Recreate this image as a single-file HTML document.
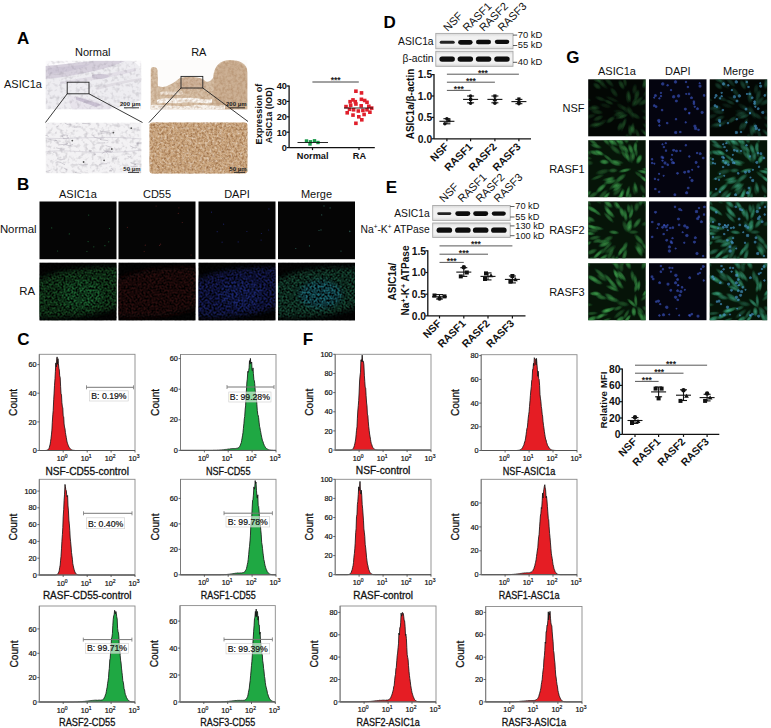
<!DOCTYPE html>
<html><head><meta charset="utf-8"><style>
html,body{margin:0;padding:0;background:#fff;}
body{width:771px;height:728px;overflow:hidden;position:relative;font-family:"Liberation Sans",sans-serif;}
svg{position:absolute;left:0;top:0;font-family:"Liberation Sans",sans-serif;}
</style></head><body>
<svg width="771" height="728" viewBox="0 0 771 728">
<defs><filter id="nBrown" x="0" y="0" width="100%" height="100%" color-interpolation-filters="sRGB"><feTurbulence type="fractalNoise" baseFrequency="0.55" numOctaves="2" seed="3" result="t"/><feColorMatrix in="t" type="matrix" values="0 0 0 0 0.45 0 0 0 0 0.27 0 0 0 0 0.12 3.2 0 0 0 -1.25" result="c"/><feComposite in="c" in2="SourceGraphic" operator="in"/></filter><filter id="nBrown2" x="0" y="0" width="100%" height="100%" color-interpolation-filters="sRGB"><feTurbulence type="fractalNoise" baseFrequency="0.5" numOctaves="2" seed="5" result="t"/><feColorMatrix in="t" type="matrix" values="0 0 0 0 0.98 0 0 0 0 0.96 0 0 0 0 0.92 3.0 0 0 0 -1.55" result="c"/><feComposite in="c" in2="SourceGraphic" operator="in"/></filter><filter id="nGray" x="0" y="0" width="100%" height="100%" color-interpolation-filters="sRGB"><feTurbulence type="fractalNoise" baseFrequency="0.35" numOctaves="2" seed="8" result="t"/><feColorMatrix in="t" type="matrix" values="0 0 0 0 0.35 0 0 0 0 0.33 0 0 0 0 0.38 3.0 0 0 0 -1.6" result="c"/><feComposite in="c" in2="SourceGraphic" operator="in"/></filter><filter id="nPurple" x="0" y="0" width="100%" height="100%" color-interpolation-filters="sRGB"><feTurbulence type="fractalNoise" baseFrequency="0.4" numOctaves="2" seed="9" result="t"/><feColorMatrix in="t" type="matrix" values="0 0 0 0 0.45 0 0 0 0 0.38 0 0 0 0 0.55 2.6 0 0 0 -1.1" result="c"/><feComposite in="c" in2="SourceGraphic" operator="in"/></filter><filter id="nTan" x="0" y="0" width="100%" height="100%" color-interpolation-filters="sRGB"><feTurbulence type="fractalNoise" baseFrequency="0.5" numOctaves="2" seed="4" result="t"/><feColorMatrix in="t" type="matrix" values="0 0 0 0 0.55 0 0 0 0 0.38 0 0 0 0 0.22 2.6 0 0 0 -1.05" result="c"/><feComposite in="c" in2="SourceGraphic" operator="in"/></filter><clipPath id="cA1"><rect x="45.5" y="60.5" width="96" height="49"/></clipPath><clipPath id="cA2"><rect x="150.5" y="60" width="97" height="49.5"/></clipPath><filter id="nGray2" x="0" y="0" width="100%" height="100%" color-interpolation-filters="sRGB"><feTurbulence type="fractalNoise" baseFrequency="0.25" numOctaves="2" seed="8" result="t"/><feColorMatrix in="t" type="matrix" values="0 0 0 0 0.45 0 0 0 0 0.43 0 0 0 0 0.48 2.2 0 0 0 -1.05" result="c"/><feComposite in="c" in2="SourceGraphic" operator="in"/></filter><filter id="nPur2" x="0" y="0" width="100%" height="100%" color-interpolation-filters="sRGB"><feTurbulence type="fractalNoise" baseFrequency="0.3" numOctaves="2" seed="9" result="t"/><feColorMatrix in="t" type="matrix" values="0 0 0 0 0.55 0 0 0 0 0.48 0 0 0 0 0.62 2.0 0 0 0 -0.85" result="c"/><feComposite in="c" in2="SourceGraphic" operator="in"/></filter><filter id="nTan2" x="0" y="0" width="100%" height="100%" color-interpolation-filters="sRGB"><feTurbulence type="fractalNoise" baseFrequency="0.35" numOctaves="2" seed="4" result="t"/><feColorMatrix in="t" type="matrix" values="0 0 0 0 0.62 0 0 0 0 0.45 0 0 0 0 0.3 2.0 0 0 0 -0.75" result="c"/><feComposite in="c" in2="SourceGraphic" operator="in"/></filter><filter id="nWhiteSpk" x="0" y="0" width="100%" height="100%" color-interpolation-filters="sRGB"><feTurbulence type="fractalNoise" baseFrequency="0.4" numOctaves="2" seed="6" result="t"/><feColorMatrix in="t" type="matrix" values="0 0 0 0 1 0 0 0 0 1 0 0 0 0 1 2.4 0 0 0 -1.15" result="c"/><feComposite in="c" in2="SourceGraphic" operator="in"/></filter><filter id="nBr3" x="0" y="0" width="100%" height="100%" color-interpolation-filters="sRGB"><feTurbulence type="fractalNoise" baseFrequency="0.45" numOctaves="2" seed="3" result="t"/><feColorMatrix in="t" type="matrix" values="0 0 0 0 0.55 0 0 0 0 0.36 0 0 0 0 0.2 2.2 0 0 0 -0.85" result="c"/><feComposite in="c" in2="SourceGraphic" operator="in"/></filter><clipPath id="cA3"><rect x="45.5" y="122.5" width="96" height="51"/></clipPath><filter id="bsoft" x="-20%" y="-20%" width="140%" height="140%"><feGaussianBlur stdDeviation="2.6"/></filter><filter id="nSpk" x="0" y="0" width="100%" height="100%" color-interpolation-filters="sRGB"><feTurbulence type="fractalNoise" baseFrequency="0.5" numOctaves="2" seed="21" result="t"/><feColorMatrix in="t" type="matrix" values="0 0 0 0 0 0 0 0 0 0 0 0 0 0 0 2.4 0 0 0 -0.75" result="c"/><feComposite in="c" in2="SourceGraphic" operator="in"/></filter><clipPath id="cb0"><rect x="39.5" y="262.7" width="77" height="57.7"/></clipPath><clipPath id="cb1"><rect x="118.5" y="262.7" width="77" height="57.7"/></clipPath><clipPath id="cb2"><rect x="198.5" y="262.7" width="77" height="57.7"/></clipPath><clipPath id="cb3"><rect x="278" y="262.7" width="77" height="57.7"/></clipPath><filter id="gsoft" x="-50%" y="-50%" width="200%" height="200%"><feGaussianBlur stdDeviation="0.45"/></filter><radialGradient id="cellG"><stop offset="0" stop-color="rgb(75,175,85)"/><stop offset="0.55" stop-color="rgb(45,130,60)"/><stop offset="1" stop-color="rgb(20,70,30)" stop-opacity="0.2"/></radialGradient><radialGradient id="cellM"><stop offset="0" stop-color="rgb(70,175,150)"/><stop offset="0.55" stop-color="rgb(40,130,90)"/><stop offset="1" stop-color="rgb(20,70,40)" stop-opacity="0.2"/></radialGradient><radialGradient id="nucB"><stop offset="0" stop-color="#4a66d8"/><stop offset="0.7" stop-color="#3048b0"/><stop offset="1" stop-color="#203090" stop-opacity="0.3"/></radialGradient><radialGradient id="nucM"><stop offset="0" stop-color="#5ab0e0"/><stop offset="0.7" stop-color="#3a88b8"/><stop offset="1" stop-color="#206090" stop-opacity="0.3"/></radialGradient><clipPath id="cg00"><rect x="588.2" y="79.3" width="57.5" height="57"/></clipPath><clipPath id="cg10"><rect x="649" y="79.3" width="57.5" height="57"/></clipPath><clipPath id="cg20"><rect x="709.7" y="79.3" width="57.5" height="57"/></clipPath><clipPath id="cg01"><rect x="588.2" y="140.2" width="57.5" height="57"/></clipPath><clipPath id="cg11"><rect x="649" y="140.2" width="57.5" height="57"/></clipPath><clipPath id="cg21"><rect x="709.7" y="140.2" width="57.5" height="57"/></clipPath><clipPath id="cg02"><rect x="588.2" y="201.4" width="57.5" height="57"/></clipPath><clipPath id="cg12"><rect x="649" y="201.4" width="57.5" height="57"/></clipPath><clipPath id="cg22"><rect x="709.7" y="201.4" width="57.5" height="57"/></clipPath><clipPath id="cg03"><rect x="588.2" y="263.2" width="57.5" height="57"/></clipPath><clipPath id="cg13"><rect x="649" y="263.2" width="57.5" height="57"/></clipPath><clipPath id="cg23"><rect x="709.7" y="263.2" width="57.5" height="57"/></clipPath><linearGradient id="blotG" x1="0" y1="0" x2="0" y2="1"><stop offset="0" stop-color="#d8d8d8"/><stop offset="0.22" stop-color="#f1f1f1"/><stop offset="0.78" stop-color="#f1f1f1"/><stop offset="1" stop-color="#d8d8d8"/></linearGradient><filter id="bblur" x="-30%" y="-100%" width="160%" height="300%"><feGaussianBlur stdDeviation="0.65"/></filter></defs>
<rect width="771" height="728" fill="#fff"/>
<g clip-path="url(#cA1)">
<rect x="45.5" y="60.5" width="96" height="49" fill="#fbfafc"/>
<path d="M45.5,66 C60,65 80,62 95,60.5 L130,60.5 C136,62 140,66 141.5,72 L141.5,100 C130,104 115,110 100,109.5 L45.5,109.5 Z" fill="#eeedf1"/>
<path d="M45.5,66 C60,65 80,62 95,61 L125,61 C115,66 100,70 85,73 C70,76 58,78 45.5,79 Z" fill="#d6d0dc"/>
<path d="M48,68 C60,67 75,66 90,64 C85,68 70,72 48,74 Z" fill="#cbc3d3" opacity="0.8"/>
<path d="M60,82 C80,78 100,76 135,68 L136,71 C110,78 85,82 60,84 Z" fill="#dedae3" opacity="0.8"/>
<path d="M95,88 C110,83 125,80 141.5,78 L141.5,80 C125,83 110,86 97,90 Z" fill="#dcd8e0" opacity="0.8"/>
<path d="M92,75 C100,73 106,74 110,76 C106,79 98,80 92,78 Z" fill="#cfc8d6"/>
<path d="M70,96 C82,97 95,100 105,103 C110,106 112,108 110,109.5 L72,109.5 C70,104 68,100 70,96 Z" fill="#e8e4ec"/>
<path d="M76,97 C86,99 94,102 102,105 L96,107 C88,104 80,101 76,99.5 Z" fill="#c9c0d2"/>
<path d="M45.5,60.5 L141.5,60.5 L141.5,109.5 L45.5,109.5 Z" fill="#fff" filter="url(#nGray2)" opacity="0.3"/>
</g>
<g clip-path="url(#cA2)">
<rect x="150.5" y="60" width="97" height="49.5" fill="#fdfcfb"/>
<path d="M150.5,70 C150.5,66 157,66 157.5,70 L158,86 C165,89 172,84 180,78 C186,76 198,76 204,80 C207,83 210,82 213,78 C214,66 220,60 230,60 C240,60 247.5,64 247.5,72 L247.5,109.5 L150.5,109.5 Z" fill="#d6bfa6"/>
<path d="M214,80 C214,66 221,61 231,61 C241,61 247.5,66 247.5,74 L247.5,109.5 L218,109.5 C214,100 213,90 214,80 Z" fill="#ccb094"/>
<path d="M180,79 C188,77 198,77 204,80 L206,88 C196,90 186,90 178,88 Z" fill="#cfb49c"/>
<path d="M157,100 C165,97 175,99 185,98 C195,97 205,101 212,99 L212,103 C200,104 190,101 180,103 C170,104 162,102 157,104 Z" fill="#fbf8f4"/>
<path d="M150.5,105 C165,104 180,108 195,105 C205,104 215,107 225,105 L225,109.5 L150.5,109.5 Z" fill="#f7f2ec"/>
<path d="M160,92 C168,90 175,93 182,91 L183,94 C175,96 168,94 161,95 Z" fill="#efe4d8"/>
<path d="M150.5,70 C150.5,66 157,66 157.5,70 L158,86 C165,89 172,84 180,78 C186,76 198,76 204,80 C207,83 210,82 213,78 C214,66 220,60 230,60 C240,60 247.5,64 247.5,72 L247.5,109.5 L150.5,109.5 Z" fill="#fff" filter="url(#nTan2)" opacity="0.45"/>
</g>
<g clip-path="url(#cA3)">
<rect x="45.5" y="122.5" width="96" height="51" fill="#f3f2f4"/>
<rect x="45.5" y="122.5" width="96" height="51" fill="#fff" filter="url(#nGray2)" opacity="0.35"/>
<path d="M89.1,150.9 q5.1,-0.2 0.2,0.3" fill="none" stroke="#9e9aa6" stroke-width="0.7" opacity="0.6"/>
<path d="M64.2,148.6 q1.6,1.8 -8.1,-0.8" fill="none" stroke="#9e9aa6" stroke-width="0.7" opacity="0.6"/>
<path d="M55.4,162.9 q2.3,-2.7 9.6,1.9" fill="none" stroke="#9e9aa6" stroke-width="0.7" opacity="0.6"/>
<path d="M107.8,153.5 q-4.1,-2.9 0.6,-1.8" fill="none" stroke="#9e9aa6" stroke-width="0.7" opacity="0.6"/>
<path d="M64.7,135.6 q-5.6,-0.2 -1.2,1.4" fill="none" stroke="#9e9aa6" stroke-width="0.7" opacity="0.6"/>
<path d="M95.3,154.7 q-0.0,1.0 -0.9,-0.9" fill="none" stroke="#9e9aa6" stroke-width="0.7" opacity="0.6"/>
<path d="M139.8,171.8 q4.1,1.2 -3.7,-1.1" fill="none" stroke="#9e9aa6" stroke-width="0.7" opacity="0.6"/>
<path d="M73.9,127.4 q3.2,-0.6 6.9,-0.5" fill="none" stroke="#9e9aa6" stroke-width="0.7" opacity="0.6"/>
<path d="M136.1,164.7 q-6.0,-1.7 8.2,-0.1" fill="none" stroke="#9e9aa6" stroke-width="0.7" opacity="0.6"/>
<path d="M138.2,143.1 q-5.1,0.8 5.6,-0.9" fill="none" stroke="#9e9aa6" stroke-width="0.7" opacity="0.6"/>
<path d="M55.1,140.0 q5.6,1.5 -7.6,-1.0" fill="none" stroke="#9e9aa6" stroke-width="0.7" opacity="0.6"/>
<path d="M56.4,126.9 q3.6,-1.9 1.2,-0.2" fill="none" stroke="#9e9aa6" stroke-width="0.7" opacity="0.6"/>
<path d="M64.7,159.1 q-4.4,0.9 -7.7,-0.3" fill="none" stroke="#9e9aa6" stroke-width="0.7" opacity="0.6"/>
<path d="M66.8,137.0 q5.7,1.8 -3.9,1.5" fill="none" stroke="#9e9aa6" stroke-width="0.7" opacity="0.6"/>
<path d="M66.6,142.9 q4.3,0.9 -8.0,2.0" fill="none" stroke="#9e9aa6" stroke-width="0.7" opacity="0.6"/>
<path d="M66.8,136.4 q3.3,-1.0 -4.1,-1.7" fill="none" stroke="#9e9aa6" stroke-width="0.7" opacity="0.6"/>
<path d="M55.4,152.0 q-3.1,0.6 -2.6,-0.2" fill="none" stroke="#9e9aa6" stroke-width="0.7" opacity="0.6"/>
<path d="M136.2,147.2 q0.9,2.2 -6.3,-1.4" fill="none" stroke="#9e9aa6" stroke-width="0.7" opacity="0.6"/>
<path d="M131.5,163.3 q-3.0,-1.9 4.8,1.8" fill="none" stroke="#9e9aa6" stroke-width="0.7" opacity="0.6"/>
<path d="M65.3,169.6 q4.6,0.6 -1.6,-1.6" fill="none" stroke="#9e9aa6" stroke-width="0.7" opacity="0.6"/>
<path d="M50.6,170.2 q-3.1,1.2 -4.9,1.3" fill="none" stroke="#9e9aa6" stroke-width="0.7" opacity="0.6"/>
<path d="M102.5,138.1 q-3.9,1.3 -8.6,-1.1" fill="none" stroke="#9e9aa6" stroke-width="0.7" opacity="0.6"/>
<path d="M99.0,164.9 q1.4,-1.3 8.3,-1.2" fill="none" stroke="#9e9aa6" stroke-width="0.7" opacity="0.6"/>
<path d="M48.5,136.9 q-0.7,-2.6 -6.5,-0.5" fill="none" stroke="#9e9aa6" stroke-width="0.7" opacity="0.6"/>
<path d="M100.2,130.3 q-1.7,2.3 9.6,0.6" fill="none" stroke="#9e9aa6" stroke-width="0.7" opacity="0.6"/>
<path d="M111.3,152.1 q-4.3,-2.8 -9.6,1.6" fill="none" stroke="#9e9aa6" stroke-width="0.7" opacity="0.6"/>
<path d="M112.2,170.2 q-5.7,0.8 -0.4,0.9" fill="none" stroke="#9e9aa6" stroke-width="0.7" opacity="0.6"/>
<path d="M76.7,172.0 q-5.1,0.3 4.7,1.6" fill="none" stroke="#9e9aa6" stroke-width="0.7" opacity="0.6"/>
<path d="M115.5,157.8 q3.5,2.5 -3.0,0.7" fill="none" stroke="#9e9aa6" stroke-width="0.7" opacity="0.6"/>
<path d="M130.8,165.8 q-1.0,1.7 7.3,0.3" fill="none" stroke="#9e9aa6" stroke-width="0.7" opacity="0.6"/>
<path d="M105.1,142.4 q1.0,0.7 -8.4,0.6" fill="none" stroke="#9e9aa6" stroke-width="0.7" opacity="0.6"/>
<path d="M139.4,166.2 q2.7,-0.7 4.7,0.3" fill="none" stroke="#9e9aa6" stroke-width="0.7" opacity="0.6"/>
<path d="M88.0,164.2 q-5.0,1.5 -9.4,0.4" fill="none" stroke="#9e9aa6" stroke-width="0.7" opacity="0.6"/>
<path d="M91.7,135.1 q2.4,-0.0 2.3,1.7" fill="none" stroke="#9e9aa6" stroke-width="0.7" opacity="0.6"/>
<path d="M70.8,124.5 q-2.4,1.1 -5.9,-1.3" fill="none" stroke="#9e9aa6" stroke-width="0.7" opacity="0.6"/>
<path d="M131.2,155.7 q-0.7,2.4 -3.5,0.7" fill="none" stroke="#9e9aa6" stroke-width="0.7" opacity="0.6"/>
<path d="M65.5,144.7 q3.7,2.5 7.6,-0.5" fill="none" stroke="#9e9aa6" stroke-width="0.7" opacity="0.6"/>
<path d="M101.2,139.2 q-4.4,-0.0 6.7,1.4" fill="none" stroke="#9e9aa6" stroke-width="0.7" opacity="0.6"/>
<path d="M113.1,169.6 q-2.7,-2.0 -1.0,-0.9" fill="none" stroke="#9e9aa6" stroke-width="0.7" opacity="0.6"/>
<path d="M66.9,143.9 q1.5,-0.0 -3.7,1.4" fill="none" stroke="#9e9aa6" stroke-width="0.7" opacity="0.6"/>
<path d="M138.3,145.7 q-5.1,-2.8 7.5,-1.8" fill="none" stroke="#9e9aa6" stroke-width="0.7" opacity="0.6"/>
<path d="M112.9,151.4 q-2.3,1.7 -9.6,-1.5" fill="none" stroke="#9e9aa6" stroke-width="0.7" opacity="0.6"/>
<path d="M89.3,125.2 q4.0,-1.6 -7.2,-1.8" fill="none" stroke="#9e9aa6" stroke-width="0.7" opacity="0.6"/>
<path d="M105.5,145.4 q1.6,0.9 6.1,1.8" fill="none" stroke="#9e9aa6" stroke-width="0.7" opacity="0.6"/>
<path d="M110.7,133.6 q-0.3,-1.9 -9.8,-0.1" fill="none" stroke="#9e9aa6" stroke-width="0.7" opacity="0.6"/>
<circle cx="113.4" cy="132.6" r="0.9" fill="#555"/>
<circle cx="72.3" cy="140.6" r="0.9" fill="#555"/>
<circle cx="111.8" cy="149.0" r="0.9" fill="#555"/>
<circle cx="104.1" cy="160.3" r="0.9" fill="#555"/>
<circle cx="83.6" cy="162.0" r="0.9" fill="#555"/>
<circle cx="131.3" cy="128.2" r="0.9" fill="#555"/>
</g>
<path d="M45.5,138 C70,140 100,135 141.5,139" fill="none" stroke="#b8b4c0" stroke-width="0.8" opacity="0.5"/>
<path d="M45.5,152 C65,148 95,156 141.5,150" fill="none" stroke="#b8b4c0" stroke-width="0.8" opacity="0.5"/>
<rect x="149.5" y="122.5" width="98" height="51" rx="3" fill="#cda982"/>
<rect x="149.5" y="122.5" width="98" height="51" rx="3" fill="#fff" filter="url(#nBr3)" opacity="0.75"/>
<rect x="149.5" y="122.5" width="98" height="51" rx="3" fill="#fff" filter="url(#nWhiteSpk)" opacity="0.5"/>
<rect x="67.2" y="82.2" width="21.8" height="11.6" fill="none" stroke="#222" stroke-width="0.9"/>
<rect x="181" y="76.4" width="21.8" height="11.6" fill="none" stroke="#222" stroke-width="0.9"/>
<line x1="67.2" y1="93.8" x2="45.5" y2="122.5" stroke="#222" stroke-width="0.9"/>
<line x1="89" y1="93.8" x2="142.5" y2="122.5" stroke="#222" stroke-width="0.9"/>
<line x1="181" y1="88" x2="149" y2="122.5" stroke="#222" stroke-width="0.9"/>
<line x1="202.8" y1="88" x2="248" y2="121.5" stroke="#222" stroke-width="0.9"/>
<text x="140.5" y="106.0" font-size="6" text-anchor="end" font-weight="bold" fill="#222" >200 µm</text>
<text x="246.5" y="106.0" font-size="6" text-anchor="end" font-weight="bold" fill="#222" >200 µm</text>
<text x="140.5" y="171.0" font-size="6" text-anchor="end" font-weight="bold" fill="#222" >50 µm</text>
<text x="246.5" y="171.0" font-size="6" text-anchor="end" font-weight="bold" fill="#222" >50 µm</text>
<line x1="124" y1="107.8" x2="139" y2="107.8" stroke="#222" stroke-width="0.9"/>
<line x1="230" y1="107.8" x2="245" y2="107.8" stroke="#222" stroke-width="0.9"/>
<line x1="128" y1="172.4" x2="139" y2="172.4" stroke="#222" stroke-width="0.9"/>
<line x1="234" y1="172.4" x2="245" y2="172.4" stroke="#222" stroke-width="0.9"/>
<text x="92.8" y="55.9" font-size="11" text-anchor="middle" font-weight="normal" fill="#111" >Normal</text>
<text x="198.8" y="55.9" font-size="11" text-anchor="middle" font-weight="normal" fill="#111" >RA</text>
<text x="4.0" y="88.3" font-size="11" text-anchor="start" font-weight="normal" fill="#111" >ASIC1a</text>
<rect x="39.5" y="201.5" width="77" height="57.7" fill="#050505"/>
<circle cx="108.7" cy="241.8" r="0.6" fill="#1a5a30"/>
<circle cx="51.7" cy="227.9" r="0.6" fill="#1a5a30"/>
<circle cx="86.9" cy="251.5" r="0.6" fill="#1a5a30"/>
<circle cx="69.3" cy="233.9" r="0.6" fill="#1a5a30"/>
<circle cx="104.9" cy="245.7" r="0.6" fill="#1a5a30"/>
<circle cx="109.5" cy="228.5" r="0.6" fill="#1a5a30"/>
<circle cx="88.7" cy="215.1" r="0.6" fill="#1a5a30"/>
<circle cx="93.8" cy="246.8" r="0.6" fill="#1a5a30"/>
<circle cx="88.1" cy="241.6" r="0.6" fill="#1a5a30"/>
<circle cx="57.6" cy="251.0" r="0.6" fill="#1a5a30"/>
<rect x="39.5" y="262.7" width="77" height="57.7" fill="#050505"/>
<g clip-path="url(#cb0)"><path d="M35.6,281.7 C54.9,270.8 78.0,266.7 120.4,267.9 L120.4,305.4 C101.1,314.6 70.3,319.2 35.6,316.4 Z" fill="#124a22" filter="url(#bsoft)"/>
<ellipse cx="81.8" cy="294.4" rx="21.6" ry="13.8" fill="#1e6a34" opacity="0.7" filter="url(#bsoft)"/>
<rect x="39.5" y="262.7" width="77" height="57.7" fill="#000" filter="url(#nSpk)"/></g>
<rect x="118.5" y="201.5" width="77" height="57.7" fill="#050505"/>
<circle cx="191.1" cy="255.0" r="0.6" fill="#4a1a1a"/>
<circle cx="159.6" cy="245.4" r="0.6" fill="#4a1a1a"/>
<circle cx="144.2" cy="251.5" r="0.6" fill="#4a1a1a"/>
<circle cx="182.3" cy="222.5" r="0.6" fill="#4a1a1a"/>
<circle cx="127.4" cy="227.3" r="0.6" fill="#4a1a1a"/>
<circle cx="160.6" cy="244.2" r="0.6" fill="#4a1a1a"/>
<circle cx="156.1" cy="206.0" r="0.6" fill="#4a1a1a"/>
<circle cx="178.9" cy="207.8" r="0.6" fill="#4a1a1a"/>
<circle cx="178.3" cy="213.4" r="0.6" fill="#4a1a1a"/>
<circle cx="145.3" cy="245.2" r="0.6" fill="#4a1a1a"/>
<rect x="118.5" y="262.7" width="77" height="57.7" fill="#050505"/>
<g clip-path="url(#cb1)"><path d="M114.7,281.7 C133.9,270.8 157.0,266.7 199.4,267.9 L199.4,305.4 C180.1,314.6 149.3,319.2 114.7,316.4 Z" fill="#2a0f11" filter="url(#bsoft)"/>
<rect x="118.5" y="262.7" width="77" height="57.7" fill="#000" filter="url(#nSpk)"/></g>
<rect x="198.5" y="201.5" width="77" height="57.7" fill="#050505"/>
<circle cx="211.5" cy="212.2" r="0.6" fill="#1a2060"/>
<circle cx="238.2" cy="241.9" r="0.6" fill="#1a2060"/>
<circle cx="261.1" cy="240.1" r="0.6" fill="#1a2060"/>
<circle cx="268.6" cy="230.0" r="0.6" fill="#1a2060"/>
<circle cx="268.9" cy="208.9" r="0.6" fill="#1a2060"/>
<circle cx="217.2" cy="231.7" r="0.6" fill="#1a2060"/>
<circle cx="222.1" cy="242.2" r="0.6" fill="#1a2060"/>
<circle cx="246.9" cy="231.5" r="0.6" fill="#1a2060"/>
<circle cx="261.4" cy="233.5" r="0.6" fill="#1a2060"/>
<circle cx="223.6" cy="224.2" r="0.6" fill="#1a2060"/>
<rect x="198.5" y="262.7" width="77" height="57.7" fill="#050505"/>
<g clip-path="url(#cb2)"><path d="M194.7,281.7 C213.9,270.8 237.0,266.7 279.4,267.9 L279.4,305.4 C260.1,314.6 229.3,319.2 194.7,316.4 Z" fill="#161f58" filter="url(#bsoft)"/>
<ellipse cx="240.8" cy="294.4" rx="21.6" ry="13.8" fill="#1e2c78" opacity="0.7" filter="url(#bsoft)"/>
<rect x="198.5" y="262.7" width="77" height="57.7" fill="#000" filter="url(#nSpk)"/></g>
<rect x="278" y="201.5" width="77" height="57.7" fill="#050505"/>
<circle cx="341.0" cy="251.1" r="0.6" fill="#2a5a50"/>
<circle cx="295.8" cy="248.5" r="0.6" fill="#2a5a50"/>
<circle cx="349.8" cy="231.6" r="0.6" fill="#2a5a50"/>
<circle cx="321.7" cy="214.9" r="0.6" fill="#2a5a50"/>
<circle cx="319.0" cy="230.5" r="0.6" fill="#2a5a50"/>
<circle cx="324.0" cy="205.9" r="0.6" fill="#2a5a50"/>
<circle cx="349.8" cy="231.2" r="0.6" fill="#2a5a50"/>
<circle cx="309.4" cy="245.9" r="0.6" fill="#2a5a50"/>
<circle cx="321.0" cy="229.9" r="0.6" fill="#2a5a50"/>
<circle cx="330.1" cy="207.9" r="0.6" fill="#2a5a50"/>
<rect x="278" y="262.7" width="77" height="57.7" fill="#050505"/>
<g clip-path="url(#cb3)"><path d="M274.1,281.7 C293.4,270.8 316.5,266.7 358.9,267.9 L358.9,305.4 C339.6,314.6 308.8,319.2 274.1,316.4 Z" fill="#154a36" filter="url(#bsoft)"/>
<ellipse cx="320.4" cy="294.4" rx="21.6" ry="13.8" fill="#1f7088" opacity="0.7" filter="url(#bsoft)"/>
<rect x="278" y="262.7" width="77" height="57.7" fill="#000" filter="url(#nSpk)"/></g>
<text x="78.0" y="197.5" font-size="11" text-anchor="middle" font-weight="normal" fill="#111" >ASIC1a</text>
<text x="157.0" y="197.5" font-size="11" text-anchor="middle" font-weight="normal" fill="#111" >CD55</text>
<text x="237.0" y="197.5" font-size="11" text-anchor="middle" font-weight="normal" fill="#111" >DAPI</text>
<text x="316.5" y="197.5" font-size="11" text-anchor="middle" font-weight="normal" fill="#111" >Merge</text>
<text x="36.6" y="233.4" font-size="11.4" text-anchor="end" font-weight="normal" fill="#111" >Normal</text>
<text x="35.2" y="294.6" font-size="11.4" text-anchor="end" font-weight="normal" fill="#111" >RA</text>
<rect x="588.2" y="79.3" width="57.5" height="57" fill="#030704"/>
<g clip-path="url(#cg00)"><g filter="url(#gsoft)">
<ellipse cx="646.9" cy="135.3" rx="6.4" ry="2.1" fill="url(#cellG)" opacity="0.21" transform="rotate(48 646.9 135.3)"/>
<ellipse cx="637.6" cy="133.8" rx="6.0" ry="2.2" fill="url(#cellG)" opacity="0.25" transform="rotate(71 637.6 133.8)"/>
<ellipse cx="644.8" cy="83.7" rx="5.1" ry="2.2" fill="url(#cellG)" opacity="0.17" transform="rotate(-55 644.8 83.7)"/>
<ellipse cx="629.2" cy="96.2" rx="6.9" ry="2.1" fill="url(#cellG)" opacity="0.27" transform="rotate(-99 629.2 96.2)"/>
<ellipse cx="592.2" cy="108.5" rx="5.6" ry="2.5" fill="url(#cellG)" opacity="0.21" transform="rotate(-182 592.2 108.5)"/>
<ellipse cx="608.8" cy="102.2" rx="5.5" ry="2.2" fill="url(#cellG)" opacity="0.25" transform="rotate(-155 608.8 102.2)"/>
<ellipse cx="626.0" cy="109.7" rx="6.8" ry="2.9" fill="url(#cellG)" opacity="0.17" transform="rotate(-142 626.0 109.7)"/>
<ellipse cx="632.7" cy="128.0" rx="5.9" ry="2.3" fill="url(#cellG)" opacity="0.31" transform="rotate(94 632.7 128.0)"/>
<ellipse cx="598.5" cy="140.2" rx="5.4" ry="2.2" fill="url(#cellG)" opacity="0.27" transform="rotate(150 598.5 140.2)"/>
<ellipse cx="601.2" cy="81.6" rx="6.3" ry="2.8" fill="url(#cellG)" opacity="0.15" transform="rotate(-124 601.2 81.6)"/>
<ellipse cx="610.6" cy="119.8" rx="5.6" ry="2.7" fill="url(#cellG)" opacity="0.30" transform="rotate(144 610.6 119.8)"/>
<ellipse cx="647.6" cy="82.8" rx="7.3" ry="2.5" fill="url(#cellG)" opacity="0.26" transform="rotate(-59 647.6 82.8)"/>
<ellipse cx="596.6" cy="79.9" rx="5.1" ry="2.6" fill="url(#cellG)" opacity="0.23" transform="rotate(-148 596.6 79.9)"/>
<ellipse cx="621.5" cy="84.8" rx="5.6" ry="2.8" fill="url(#cellG)" opacity="0.32" transform="rotate(-118 621.5 84.8)"/>
<ellipse cx="644.9" cy="81.5" rx="7.9" ry="2.5" fill="url(#cellG)" opacity="0.27" transform="rotate(-78 644.9 81.5)"/>
<ellipse cx="605.6" cy="105.7" rx="6.3" ry="2.6" fill="url(#cellG)" opacity="0.13" transform="rotate(-165 605.6 105.7)"/>
<ellipse cx="630.1" cy="130.2" rx="6.4" ry="2.7" fill="url(#cellG)" opacity="0.21" transform="rotate(81 630.1 130.2)"/>
<ellipse cx="597.0" cy="86.0" rx="5.0" ry="2.9" fill="url(#cellG)" opacity="0.28" transform="rotate(-142 597.0 86.0)"/>
<ellipse cx="630.4" cy="131.2" rx="6.2" ry="2.6" fill="url(#cellG)" opacity="0.22" transform="rotate(94 630.4 131.2)"/>
<ellipse cx="648.6" cy="127.6" rx="7.7" ry="2.7" fill="url(#cellG)" opacity="0.28" transform="rotate(33 648.6 127.6)"/>
<ellipse cx="637.6" cy="101.7" rx="7.6" ry="2.7" fill="url(#cellG)" opacity="0.28" transform="rotate(-44 637.6 101.7)"/>
<ellipse cx="634.3" cy="101.7" rx="5.2" ry="2.3" fill="url(#cellG)" opacity="0.22" transform="rotate(-63 634.3 101.7)"/>
<ellipse cx="584.9" cy="98.4" rx="6.9" ry="2.2" fill="url(#cellG)" opacity="0.31" transform="rotate(-159 584.9 98.4)"/>
<ellipse cx="627.8" cy="97.3" rx="6.7" ry="2.5" fill="url(#cellG)" opacity="0.20" transform="rotate(-95 627.8 97.3)"/>
<ellipse cx="649.7" cy="117.0" rx="7.3" ry="3.0" fill="url(#cellG)" opacity="0.13" transform="rotate(21 649.7 117.0)"/>
<ellipse cx="624.5" cy="123.3" rx="6.2" ry="2.1" fill="url(#cellG)" opacity="0.17" transform="rotate(110 624.5 123.3)"/>
<ellipse cx="608.8" cy="81.7" rx="7.7" ry="2.6" fill="url(#cellG)" opacity="0.23" transform="rotate(-133 608.8 81.7)"/>
<ellipse cx="647.5" cy="112.2" rx="6.9" ry="2.8" fill="url(#cellG)" opacity="0.14" transform="rotate(15 647.5 112.2)"/>
<ellipse cx="623.3" cy="124.7" rx="7.8" ry="2.2" fill="url(#cellG)" opacity="0.22" transform="rotate(106 623.3 124.7)"/>
<ellipse cx="595.3" cy="107.5" rx="5.2" ry="2.9" fill="url(#cellG)" opacity="0.21" transform="rotate(-169 595.3 107.5)"/>
<ellipse cx="618.7" cy="114.2" rx="5.9" ry="2.7" fill="url(#cellG)" opacity="0.24" transform="rotate(166 618.7 114.2)"/>
<ellipse cx="602.8" cy="121.9" rx="5.0" ry="2.2" fill="url(#cellG)" opacity="0.14" transform="rotate(154 602.8 121.9)"/>
<ellipse cx="594.5" cy="124.4" rx="7.7" ry="2.7" fill="url(#cellG)" opacity="0.14" transform="rotate(158 594.5 124.4)"/>
<ellipse cx="649.0" cy="136.7" rx="7.7" ry="2.4" fill="url(#cellG)" opacity="0.22" transform="rotate(40 649.0 136.7)"/>
<ellipse cx="647.9" cy="91.1" rx="7.8" ry="2.7" fill="url(#cellG)" opacity="0.22" transform="rotate(-49 647.9 91.1)"/>
<ellipse cx="648.3" cy="128.4" rx="5.3" ry="2.6" fill="url(#cellG)" opacity="0.22" transform="rotate(46 648.3 128.4)"/>
<ellipse cx="597.5" cy="78.7" rx="5.4" ry="2.4" fill="url(#cellG)" opacity="0.26" transform="rotate(-134 597.5 78.7)"/>
<ellipse cx="614.0" cy="92.3" rx="6.3" ry="2.8" fill="url(#cellG)" opacity="0.23" transform="rotate(-127 614.0 92.3)"/>
<ellipse cx="649.5" cy="137.2" rx="5.7" ry="2.1" fill="url(#cellG)" opacity="0.30" transform="rotate(60 649.5 137.2)"/>
<ellipse cx="635.6" cy="115.9" rx="5.8" ry="2.7" fill="url(#cellG)" opacity="0.24" transform="rotate(33 635.6 115.9)"/>
<ellipse cx="623.0" cy="116.5" rx="5.6" ry="2.2" fill="url(#cellG)" opacity="0.32" transform="rotate(157 623.0 116.5)"/>
<ellipse cx="644.2" cy="132.4" rx="5.2" ry="2.3" fill="url(#cellG)" opacity="0.21" transform="rotate(42 644.2 132.4)"/>
<ellipse cx="625.0" cy="82.0" rx="5.2" ry="2.1" fill="url(#cellG)" opacity="0.26" transform="rotate(-99 625.0 82.0)"/>
<ellipse cx="620.3" cy="116.3" rx="6.4" ry="2.2" fill="url(#cellG)" opacity="0.19" transform="rotate(153 620.3 116.3)"/>
<ellipse cx="633.0" cy="129.8" rx="5.4" ry="2.8" fill="url(#cellG)" opacity="0.25" transform="rotate(69 633.0 129.8)"/>
<ellipse cx="634.6" cy="89.2" rx="5.8" ry="2.8" fill="url(#cellG)" opacity="0.20" transform="rotate(-82 634.6 89.2)"/>
<ellipse cx="627.0" cy="139.6" rx="6.6" ry="2.7" fill="url(#cellG)" opacity="0.30" transform="rotate(92 627.0 139.6)"/>
<ellipse cx="612.2" cy="99.3" rx="7.6" ry="2.1" fill="url(#cellG)" opacity="0.14" transform="rotate(-157 612.2 99.3)"/>
<ellipse cx="621.2" cy="106.8" rx="5.9" ry="2.8" fill="url(#cellG)" opacity="0.14" transform="rotate(-145 621.2 106.8)"/>
<ellipse cx="598.2" cy="118.3" rx="5.9" ry="2.7" fill="url(#cellG)" opacity="0.26" transform="rotate(156 598.2 118.3)"/>
<ellipse cx="602.7" cy="84.6" rx="7.2" ry="2.4" fill="url(#cellG)" opacity="0.15" transform="rotate(-140 602.7 84.6)"/>
<ellipse cx="630.7" cy="112.3" rx="7.8" ry="2.9" fill="url(#cellG)" opacity="0.21" transform="rotate(65 630.7 112.3)"/>
<ellipse cx="636.8" cy="95.1" rx="6.2" ry="2.9" fill="url(#cellG)" opacity="0.30" transform="rotate(-75 636.8 95.1)"/>
<ellipse cx="600.5" cy="98.8" rx="6.1" ry="2.4" fill="url(#cellG)" opacity="0.20" transform="rotate(-160 600.5 98.8)"/>
<ellipse cx="597.0" cy="111.9" rx="6.6" ry="2.8" fill="url(#cellG)" opacity="0.24" transform="rotate(-171 597.0 111.9)"/>
<ellipse cx="595.8" cy="124.6" rx="5.8" ry="2.0" fill="url(#cellG)" opacity="0.23" transform="rotate(171 595.8 124.6)"/>
<ellipse cx="619.8" cy="112.2" rx="7.0" ry="2.8" fill="url(#cellG)" opacity="0.14" transform="rotate(193 619.8 112.2)"/>
<ellipse cx="620.0" cy="126.5" rx="5.2" ry="2.7" fill="url(#cellG)" opacity="0.30" transform="rotate(113 620.0 126.5)"/>
<ellipse cx="589.7" cy="116.5" rx="7.2" ry="2.6" fill="url(#cellG)" opacity="0.18" transform="rotate(163 589.7 116.5)"/>
<ellipse cx="598.6" cy="125.0" rx="7.3" ry="2.4" fill="url(#cellG)" opacity="0.19" transform="rotate(158 598.6 125.0)"/>
<ellipse cx="647.6" cy="119.0" rx="6.6" ry="2.7" fill="url(#cellG)" opacity="0.26" transform="rotate(22 647.6 119.0)"/>
<ellipse cx="644.1" cy="102.0" rx="7.0" ry="2.9" fill="url(#cellG)" opacity="0.28" transform="rotate(-26 644.1 102.0)"/>
</g><g>
</g></g>
<rect x="649" y="79.3" width="57.5" height="57" fill="#04040f"/>
<g clip-path="url(#cg10)"><g filter="url(#gsoft)">
</g><g>
<circle cx="695.6" cy="128.4" r="2.0" fill="url(#nucB)" opacity="0.62"/>
<circle cx="685.3" cy="109.1" r="1.8" fill="url(#nucB)" opacity="0.62"/>
<circle cx="693.9" cy="103.6" r="1.6" fill="url(#nucB)" opacity="0.62"/>
<circle cx="658.8" cy="120.6" r="2.0" fill="url(#nucB)" opacity="0.62"/>
<circle cx="671.1" cy="90.2" r="1.4" fill="url(#nucB)" opacity="0.62"/>
<circle cx="673.7" cy="96.8" r="2.0" fill="url(#nucB)" opacity="0.62"/>
<circle cx="654.2" cy="97.6" r="1.3" fill="url(#nucB)" opacity="0.62"/>
<circle cx="685.7" cy="122.4" r="1.4" fill="url(#nucB)" opacity="0.62"/>
<circle cx="654.3" cy="105.6" r="1.7" fill="url(#nucB)" opacity="0.62"/>
<circle cx="699.6" cy="83.2" r="1.3" fill="url(#nucB)" opacity="0.62"/>
<circle cx="660.9" cy="92.8" r="1.4" fill="url(#nucB)" opacity="0.62"/>
<circle cx="689.4" cy="112.8" r="1.4" fill="url(#nucB)" opacity="0.62"/>
<circle cx="660.9" cy="96.2" r="1.4" fill="url(#nucB)" opacity="0.62"/>
<circle cx="691.5" cy="97.8" r="1.7" fill="url(#nucB)" opacity="0.62"/>
<circle cx="694.7" cy="106.7" r="1.4" fill="url(#nucB)" opacity="0.62"/>
<circle cx="698.5" cy="129.8" r="1.5" fill="url(#nucB)" opacity="0.62"/>
<circle cx="680.3" cy="132.0" r="1.6" fill="url(#nucB)" opacity="0.62"/>
<circle cx="662.8" cy="83.9" r="2.0" fill="url(#nucB)" opacity="0.62"/>
<circle cx="693.9" cy="101.7" r="1.6" fill="url(#nucB)" opacity="0.62"/>
<circle cx="678.6" cy="95.9" r="2.0" fill="url(#nucB)" opacity="0.62"/>
<circle cx="686.2" cy="93.9" r="1.2" fill="url(#nucB)" opacity="0.62"/>
<circle cx="676.3" cy="101.0" r="1.8" fill="url(#nucB)" opacity="0.62"/>
<circle cx="689.2" cy="113.4" r="1.4" fill="url(#nucB)" opacity="0.62"/>
<circle cx="659.4" cy="98.4" r="1.4" fill="url(#nucB)" opacity="0.62"/>
<circle cx="697.5" cy="108.7" r="1.7" fill="url(#nucB)" opacity="0.62"/>
<circle cx="704.1" cy="95.4" r="1.6" fill="url(#nucB)" opacity="0.62"/>
<circle cx="659.1" cy="122.1" r="1.2" fill="url(#nucB)" opacity="0.62"/>
<circle cx="694.9" cy="126.1" r="1.9" fill="url(#nucB)" opacity="0.62"/>
<circle cx="655.4" cy="95.6" r="1.8" fill="url(#nucB)" opacity="0.62"/>
<circle cx="656.2" cy="106.7" r="1.6" fill="url(#nucB)" opacity="0.62"/>
<circle cx="702.1" cy="112.4" r="1.9" fill="url(#nucB)" opacity="0.62"/>
<circle cx="667.2" cy="123.1" r="1.6" fill="url(#nucB)" opacity="0.62"/>
<circle cx="700.0" cy="86.1" r="1.9" fill="url(#nucB)" opacity="0.62"/>
<circle cx="662.1" cy="110.1" r="1.6" fill="url(#nucB)" opacity="0.62"/>
<circle cx="659.4" cy="125.4" r="1.5" fill="url(#nucB)" opacity="0.62"/>
<circle cx="667.6" cy="85.3" r="1.5" fill="url(#nucB)" opacity="0.62"/>
<circle cx="676.0" cy="119.2" r="1.5" fill="url(#nucB)" opacity="0.62"/>
<circle cx="687.8" cy="86.9" r="1.5" fill="url(#nucB)" opacity="0.62"/>
<circle cx="675.7" cy="132.5" r="1.9" fill="url(#nucB)" opacity="0.62"/>
<circle cx="686.0" cy="82.0" r="1.5" fill="url(#nucB)" opacity="0.62"/>
<circle cx="689.0" cy="93.9" r="1.7" fill="url(#nucB)" opacity="0.62"/>
<circle cx="675.5" cy="81.9" r="2.0" fill="url(#nucB)" opacity="0.62"/>
</g></g>
<rect x="709.7" y="79.3" width="57.5" height="57" fill="#030704"/>
<g clip-path="url(#cg20)"><g filter="url(#gsoft)">
<ellipse cx="768.4" cy="135.3" rx="6.4" ry="2.1" fill="url(#cellM)" opacity="0.21" transform="rotate(48 768.4 135.3)"/>
<ellipse cx="759.1" cy="133.8" rx="6.0" ry="2.2" fill="url(#cellM)" opacity="0.25" transform="rotate(71 759.1 133.8)"/>
<ellipse cx="766.3" cy="83.7" rx="5.1" ry="2.2" fill="url(#cellM)" opacity="0.17" transform="rotate(-55 766.3 83.7)"/>
<ellipse cx="750.7" cy="96.2" rx="6.9" ry="2.1" fill="url(#cellM)" opacity="0.27" transform="rotate(-99 750.7 96.2)"/>
<ellipse cx="713.7" cy="108.5" rx="5.6" ry="2.5" fill="url(#cellM)" opacity="0.21" transform="rotate(-182 713.7 108.5)"/>
<ellipse cx="730.3" cy="102.2" rx="5.5" ry="2.2" fill="url(#cellM)" opacity="0.25" transform="rotate(-155 730.3 102.2)"/>
<ellipse cx="747.5" cy="109.7" rx="6.8" ry="2.9" fill="url(#cellM)" opacity="0.17" transform="rotate(-142 747.5 109.7)"/>
<ellipse cx="754.2" cy="128.0" rx="5.9" ry="2.3" fill="url(#cellM)" opacity="0.31" transform="rotate(94 754.2 128.0)"/>
<ellipse cx="720.0" cy="140.2" rx="5.4" ry="2.2" fill="url(#cellM)" opacity="0.27" transform="rotate(150 720.0 140.2)"/>
<ellipse cx="722.7" cy="81.6" rx="6.3" ry="2.8" fill="url(#cellM)" opacity="0.15" transform="rotate(-124 722.7 81.6)"/>
<ellipse cx="732.1" cy="119.8" rx="5.6" ry="2.7" fill="url(#cellM)" opacity="0.30" transform="rotate(144 732.1 119.8)"/>
<ellipse cx="769.1" cy="82.8" rx="7.3" ry="2.5" fill="url(#cellM)" opacity="0.26" transform="rotate(-59 769.1 82.8)"/>
<ellipse cx="718.1" cy="79.9" rx="5.1" ry="2.6" fill="url(#cellM)" opacity="0.23" transform="rotate(-148 718.1 79.9)"/>
<ellipse cx="743.0" cy="84.8" rx="5.6" ry="2.8" fill="url(#cellM)" opacity="0.32" transform="rotate(-118 743.0 84.8)"/>
<ellipse cx="766.4" cy="81.5" rx="7.9" ry="2.5" fill="url(#cellM)" opacity="0.27" transform="rotate(-78 766.4 81.5)"/>
<ellipse cx="727.1" cy="105.7" rx="6.3" ry="2.6" fill="url(#cellM)" opacity="0.13" transform="rotate(-165 727.1 105.7)"/>
<ellipse cx="751.6" cy="130.2" rx="6.4" ry="2.7" fill="url(#cellM)" opacity="0.21" transform="rotate(81 751.6 130.2)"/>
<ellipse cx="718.5" cy="86.0" rx="5.0" ry="2.9" fill="url(#cellM)" opacity="0.28" transform="rotate(-142 718.5 86.0)"/>
<ellipse cx="751.9" cy="131.2" rx="6.2" ry="2.6" fill="url(#cellM)" opacity="0.22" transform="rotate(94 751.9 131.2)"/>
<ellipse cx="770.1" cy="127.6" rx="7.7" ry="2.7" fill="url(#cellM)" opacity="0.28" transform="rotate(33 770.1 127.6)"/>
<ellipse cx="759.1" cy="101.7" rx="7.6" ry="2.7" fill="url(#cellM)" opacity="0.28" transform="rotate(-44 759.1 101.7)"/>
<ellipse cx="755.8" cy="101.7" rx="5.2" ry="2.3" fill="url(#cellM)" opacity="0.22" transform="rotate(-63 755.8 101.7)"/>
<ellipse cx="706.4" cy="98.4" rx="6.9" ry="2.2" fill="url(#cellM)" opacity="0.31" transform="rotate(-159 706.4 98.4)"/>
<ellipse cx="749.3" cy="97.3" rx="6.7" ry="2.5" fill="url(#cellM)" opacity="0.20" transform="rotate(-95 749.3 97.3)"/>
<ellipse cx="771.2" cy="117.0" rx="7.3" ry="3.0" fill="url(#cellM)" opacity="0.13" transform="rotate(21 771.2 117.0)"/>
<ellipse cx="746.0" cy="123.3" rx="6.2" ry="2.1" fill="url(#cellM)" opacity="0.17" transform="rotate(110 746.0 123.3)"/>
<ellipse cx="730.3" cy="81.7" rx="7.7" ry="2.6" fill="url(#cellM)" opacity="0.23" transform="rotate(-133 730.3 81.7)"/>
<ellipse cx="769.0" cy="112.2" rx="6.9" ry="2.8" fill="url(#cellM)" opacity="0.14" transform="rotate(15 769.0 112.2)"/>
<ellipse cx="744.8" cy="124.7" rx="7.8" ry="2.2" fill="url(#cellM)" opacity="0.22" transform="rotate(106 744.8 124.7)"/>
<ellipse cx="716.8" cy="107.5" rx="5.2" ry="2.9" fill="url(#cellM)" opacity="0.21" transform="rotate(-169 716.8 107.5)"/>
<ellipse cx="740.2" cy="114.2" rx="5.9" ry="2.7" fill="url(#cellM)" opacity="0.24" transform="rotate(166 740.2 114.2)"/>
<ellipse cx="724.3" cy="121.9" rx="5.0" ry="2.2" fill="url(#cellM)" opacity="0.14" transform="rotate(154 724.3 121.9)"/>
<ellipse cx="716.0" cy="124.4" rx="7.7" ry="2.7" fill="url(#cellM)" opacity="0.14" transform="rotate(158 716.0 124.4)"/>
<ellipse cx="770.5" cy="136.7" rx="7.7" ry="2.4" fill="url(#cellM)" opacity="0.22" transform="rotate(40 770.5 136.7)"/>
<ellipse cx="769.4" cy="91.1" rx="7.8" ry="2.7" fill="url(#cellM)" opacity="0.22" transform="rotate(-49 769.4 91.1)"/>
<ellipse cx="769.8" cy="128.4" rx="5.3" ry="2.6" fill="url(#cellM)" opacity="0.22" transform="rotate(46 769.8 128.4)"/>
<ellipse cx="719.0" cy="78.7" rx="5.4" ry="2.4" fill="url(#cellM)" opacity="0.26" transform="rotate(-134 719.0 78.7)"/>
<ellipse cx="735.5" cy="92.3" rx="6.3" ry="2.8" fill="url(#cellM)" opacity="0.23" transform="rotate(-127 735.5 92.3)"/>
<ellipse cx="771.0" cy="137.2" rx="5.7" ry="2.1" fill="url(#cellM)" opacity="0.30" transform="rotate(60 771.0 137.2)"/>
<ellipse cx="757.1" cy="115.9" rx="5.8" ry="2.7" fill="url(#cellM)" opacity="0.24" transform="rotate(33 757.1 115.9)"/>
<ellipse cx="744.5" cy="116.5" rx="5.6" ry="2.2" fill="url(#cellM)" opacity="0.32" transform="rotate(157 744.5 116.5)"/>
<ellipse cx="765.7" cy="132.4" rx="5.2" ry="2.3" fill="url(#cellM)" opacity="0.21" transform="rotate(42 765.7 132.4)"/>
<ellipse cx="746.5" cy="82.0" rx="5.2" ry="2.1" fill="url(#cellM)" opacity="0.26" transform="rotate(-99 746.5 82.0)"/>
<ellipse cx="741.8" cy="116.3" rx="6.4" ry="2.2" fill="url(#cellM)" opacity="0.19" transform="rotate(153 741.8 116.3)"/>
<ellipse cx="754.5" cy="129.8" rx="5.4" ry="2.8" fill="url(#cellM)" opacity="0.25" transform="rotate(69 754.5 129.8)"/>
<ellipse cx="756.1" cy="89.2" rx="5.8" ry="2.8" fill="url(#cellM)" opacity="0.20" transform="rotate(-82 756.1 89.2)"/>
<ellipse cx="748.5" cy="139.6" rx="6.6" ry="2.7" fill="url(#cellM)" opacity="0.30" transform="rotate(92 748.5 139.6)"/>
<ellipse cx="733.7" cy="99.3" rx="7.6" ry="2.1" fill="url(#cellM)" opacity="0.14" transform="rotate(-157 733.7 99.3)"/>
<ellipse cx="742.7" cy="106.8" rx="5.9" ry="2.8" fill="url(#cellM)" opacity="0.14" transform="rotate(-145 742.7 106.8)"/>
<ellipse cx="719.7" cy="118.3" rx="5.9" ry="2.7" fill="url(#cellM)" opacity="0.26" transform="rotate(156 719.7 118.3)"/>
<ellipse cx="724.2" cy="84.6" rx="7.2" ry="2.4" fill="url(#cellM)" opacity="0.15" transform="rotate(-140 724.2 84.6)"/>
<ellipse cx="752.2" cy="112.3" rx="7.8" ry="2.9" fill="url(#cellM)" opacity="0.21" transform="rotate(65 752.2 112.3)"/>
<ellipse cx="758.3" cy="95.1" rx="6.2" ry="2.9" fill="url(#cellM)" opacity="0.30" transform="rotate(-75 758.3 95.1)"/>
<ellipse cx="722.0" cy="98.8" rx="6.1" ry="2.4" fill="url(#cellM)" opacity="0.20" transform="rotate(-160 722.0 98.8)"/>
<ellipse cx="718.5" cy="111.9" rx="6.6" ry="2.8" fill="url(#cellM)" opacity="0.24" transform="rotate(-171 718.5 111.9)"/>
<ellipse cx="717.3" cy="124.6" rx="5.8" ry="2.0" fill="url(#cellM)" opacity="0.23" transform="rotate(171 717.3 124.6)"/>
<ellipse cx="741.3" cy="112.2" rx="7.0" ry="2.8" fill="url(#cellM)" opacity="0.14" transform="rotate(193 741.3 112.2)"/>
<ellipse cx="741.5" cy="126.5" rx="5.2" ry="2.7" fill="url(#cellM)" opacity="0.30" transform="rotate(113 741.5 126.5)"/>
<ellipse cx="711.2" cy="116.5" rx="7.2" ry="2.6" fill="url(#cellM)" opacity="0.18" transform="rotate(163 711.2 116.5)"/>
<ellipse cx="720.1" cy="125.0" rx="7.3" ry="2.4" fill="url(#cellM)" opacity="0.19" transform="rotate(158 720.1 125.0)"/>
<ellipse cx="769.1" cy="119.0" rx="6.6" ry="2.7" fill="url(#cellM)" opacity="0.26" transform="rotate(22 769.1 119.0)"/>
<ellipse cx="765.6" cy="102.0" rx="7.0" ry="2.9" fill="url(#cellM)" opacity="0.28" transform="rotate(-26 765.6 102.0)"/>
</g><g>
<circle cx="756.3" cy="128.4" r="2.0" fill="url(#nucM)" opacity="0.62"/>
<circle cx="746.0" cy="109.1" r="1.8" fill="url(#nucM)" opacity="0.62"/>
<circle cx="754.6" cy="103.6" r="1.6" fill="url(#nucM)" opacity="0.62"/>
<circle cx="719.5" cy="120.6" r="2.0" fill="url(#nucM)" opacity="0.62"/>
<circle cx="731.8" cy="90.2" r="1.4" fill="url(#nucM)" opacity="0.62"/>
<circle cx="734.4" cy="96.8" r="2.0" fill="url(#nucM)" opacity="0.62"/>
<circle cx="714.9" cy="97.6" r="1.3" fill="url(#nucM)" opacity="0.62"/>
<circle cx="746.4" cy="122.4" r="1.4" fill="url(#nucM)" opacity="0.62"/>
<circle cx="715.0" cy="105.6" r="1.7" fill="url(#nucM)" opacity="0.62"/>
<circle cx="760.3" cy="83.2" r="1.3" fill="url(#nucM)" opacity="0.62"/>
<circle cx="721.6" cy="92.8" r="1.4" fill="url(#nucM)" opacity="0.62"/>
<circle cx="750.1" cy="112.8" r="1.4" fill="url(#nucM)" opacity="0.62"/>
<circle cx="721.6" cy="96.2" r="1.4" fill="url(#nucM)" opacity="0.62"/>
<circle cx="752.2" cy="97.8" r="1.7" fill="url(#nucM)" opacity="0.62"/>
<circle cx="755.4" cy="106.7" r="1.4" fill="url(#nucM)" opacity="0.62"/>
<circle cx="759.2" cy="129.8" r="1.5" fill="url(#nucM)" opacity="0.62"/>
<circle cx="741.0" cy="132.0" r="1.6" fill="url(#nucM)" opacity="0.62"/>
<circle cx="723.5" cy="83.9" r="2.0" fill="url(#nucM)" opacity="0.62"/>
<circle cx="754.6" cy="101.7" r="1.6" fill="url(#nucM)" opacity="0.62"/>
<circle cx="739.3" cy="95.9" r="2.0" fill="url(#nucM)" opacity="0.62"/>
<circle cx="746.9" cy="93.9" r="1.2" fill="url(#nucM)" opacity="0.62"/>
<circle cx="737.0" cy="101.0" r="1.8" fill="url(#nucM)" opacity="0.62"/>
<circle cx="749.9" cy="113.4" r="1.4" fill="url(#nucM)" opacity="0.62"/>
<circle cx="720.1" cy="98.4" r="1.4" fill="url(#nucM)" opacity="0.62"/>
<circle cx="758.2" cy="108.7" r="1.7" fill="url(#nucM)" opacity="0.62"/>
<circle cx="764.8" cy="95.4" r="1.6" fill="url(#nucM)" opacity="0.62"/>
<circle cx="719.8" cy="122.1" r="1.2" fill="url(#nucM)" opacity="0.62"/>
<circle cx="755.6" cy="126.1" r="1.9" fill="url(#nucM)" opacity="0.62"/>
<circle cx="716.1" cy="95.6" r="1.8" fill="url(#nucM)" opacity="0.62"/>
<circle cx="716.9" cy="106.7" r="1.6" fill="url(#nucM)" opacity="0.62"/>
<circle cx="762.8" cy="112.4" r="1.9" fill="url(#nucM)" opacity="0.62"/>
<circle cx="727.9" cy="123.1" r="1.6" fill="url(#nucM)" opacity="0.62"/>
<circle cx="760.7" cy="86.1" r="1.9" fill="url(#nucM)" opacity="0.62"/>
<circle cx="722.8" cy="110.1" r="1.6" fill="url(#nucM)" opacity="0.62"/>
<circle cx="720.1" cy="125.4" r="1.5" fill="url(#nucM)" opacity="0.62"/>
<circle cx="728.3" cy="85.3" r="1.5" fill="url(#nucM)" opacity="0.62"/>
<circle cx="736.7" cy="119.2" r="1.5" fill="url(#nucM)" opacity="0.62"/>
<circle cx="748.5" cy="86.9" r="1.5" fill="url(#nucM)" opacity="0.62"/>
<circle cx="736.4" cy="132.5" r="1.9" fill="url(#nucM)" opacity="0.62"/>
<circle cx="746.7" cy="82.0" r="1.5" fill="url(#nucM)" opacity="0.62"/>
<circle cx="749.7" cy="93.9" r="1.7" fill="url(#nucM)" opacity="0.62"/>
<circle cx="736.2" cy="81.9" r="2.0" fill="url(#nucM)" opacity="0.62"/>
</g></g>
<rect x="588.2" y="140.2" width="57.5" height="57" fill="#061408"/>
<g clip-path="url(#cg01)"><g filter="url(#gsoft)">
<ellipse cx="624.6" cy="155.1" rx="6.6" ry="2.3" fill="url(#cellG)" opacity="0.47" transform="rotate(-128 624.6 155.1)"/>
<ellipse cx="609.9" cy="179.5" rx="5.6" ry="2.7" fill="url(#cellG)" opacity="0.47" transform="rotate(150 609.9 179.5)"/>
<ellipse cx="646.1" cy="172.8" rx="6.0" ry="2.8" fill="url(#cellG)" opacity="0.36" transform="rotate(23 646.1 172.8)"/>
<ellipse cx="593.4" cy="142.3" rx="7.1" ry="2.2" fill="url(#cellG)" opacity="0.50" transform="rotate(-141 593.4 142.3)"/>
<ellipse cx="639.0" cy="174.7" rx="5.7" ry="2.2" fill="url(#cellG)" opacity="0.37" transform="rotate(36 639.0 174.7)"/>
<ellipse cx="610.8" cy="140.9" rx="6.3" ry="2.5" fill="url(#cellG)" opacity="0.61" transform="rotate(-117 610.8 140.9)"/>
<ellipse cx="634.4" cy="189.6" rx="6.0" ry="2.4" fill="url(#cellG)" opacity="0.32" transform="rotate(86 634.4 189.6)"/>
<ellipse cx="610.4" cy="181.7" rx="7.4" ry="2.7" fill="url(#cellG)" opacity="0.60" transform="rotate(167 610.4 181.7)"/>
<ellipse cx="585.4" cy="157.7" rx="7.0" ry="2.1" fill="url(#cellG)" opacity="0.49" transform="rotate(-171 585.4 157.7)"/>
<ellipse cx="617.6" cy="187.5" rx="6.8" ry="2.2" fill="url(#cellG)" opacity="0.67" transform="rotate(142 617.6 187.5)"/>
<ellipse cx="643.3" cy="171.8" rx="6.5" ry="2.1" fill="url(#cellG)" opacity="0.65" transform="rotate(11 643.3 171.8)"/>
<ellipse cx="648.8" cy="169.7" rx="7.5" ry="2.2" fill="url(#cellG)" opacity="0.75" transform="rotate(8 648.8 169.7)"/>
<ellipse cx="625.3" cy="149.1" rx="5.7" ry="2.6" fill="url(#cellG)" opacity="0.64" transform="rotate(-126 625.3 149.1)"/>
<ellipse cx="605.8" cy="196.6" rx="6.4" ry="2.1" fill="url(#cellG)" opacity="0.77" transform="rotate(132 605.8 196.6)"/>
<ellipse cx="593.1" cy="195.0" rx="6.7" ry="2.6" fill="url(#cellG)" opacity="0.44" transform="rotate(149 593.1 195.0)"/>
<ellipse cx="643.8" cy="200.7" rx="6.8" ry="2.1" fill="url(#cellG)" opacity="0.70" transform="rotate(83 643.8 200.7)"/>
<ellipse cx="603.1" cy="194.5" rx="6.7" ry="2.8" fill="url(#cellG)" opacity="0.40" transform="rotate(133 603.1 194.5)"/>
<ellipse cx="620.1" cy="141.2" rx="5.5" ry="3.0" fill="url(#cellG)" opacity="0.75" transform="rotate(-131 620.1 141.2)"/>
<ellipse cx="627.3" cy="156.2" rx="7.2" ry="2.4" fill="url(#cellG)" opacity="0.59" transform="rotate(-112 627.3 156.2)"/>
<ellipse cx="636.9" cy="137.3" rx="6.4" ry="2.1" fill="url(#cellG)" opacity="0.49" transform="rotate(-94 636.9 137.3)"/>
<ellipse cx="621.5" cy="147.5" rx="5.8" ry="2.6" fill="url(#cellG)" opacity="0.47" transform="rotate(-119 621.5 147.5)"/>
<ellipse cx="626.2" cy="138.7" rx="5.4" ry="3.0" fill="url(#cellG)" opacity="0.59" transform="rotate(-99 626.2 138.7)"/>
<ellipse cx="615.0" cy="162.9" rx="7.1" ry="2.8" fill="url(#cellG)" opacity="0.66" transform="rotate(-158 615.0 162.9)"/>
<ellipse cx="616.0" cy="200.8" rx="7.6" ry="2.4" fill="url(#cellG)" opacity="0.52" transform="rotate(130 616.0 200.8)"/>
<ellipse cx="621.3" cy="195.0" rx="6.6" ry="2.4" fill="url(#cellG)" opacity="0.74" transform="rotate(118 621.3 195.0)"/>
<ellipse cx="605.2" cy="139.8" rx="7.7" ry="2.7" fill="url(#cellG)" opacity="0.59" transform="rotate(-128 605.2 139.8)"/>
<ellipse cx="633.4" cy="156.0" rx="5.2" ry="2.1" fill="url(#cellG)" opacity="0.52" transform="rotate(-90 633.4 156.0)"/>
<ellipse cx="617.1" cy="162.0" rx="7.1" ry="2.5" fill="url(#cellG)" opacity="0.42" transform="rotate(-170 617.1 162.0)"/>
<ellipse cx="604.3" cy="161.9" rx="5.2" ry="2.9" fill="url(#cellG)" opacity="0.76" transform="rotate(-174 604.3 161.9)"/>
<ellipse cx="627.8" cy="192.5" rx="7.4" ry="2.2" fill="url(#cellG)" opacity="0.66" transform="rotate(103 627.8 192.5)"/>
<ellipse cx="621.3" cy="194.9" rx="7.4" ry="2.1" fill="url(#cellG)" opacity="0.56" transform="rotate(105 621.3 194.9)"/>
<ellipse cx="646.5" cy="136.2" rx="5.9" ry="2.3" fill="url(#cellG)" opacity="0.34" transform="rotate(-77 646.5 136.2)"/>
<ellipse cx="642.8" cy="189.2" rx="6.1" ry="2.6" fill="url(#cellG)" opacity="0.33" transform="rotate(63 642.8 189.2)"/>
<ellipse cx="586.2" cy="194.6" rx="6.5" ry="2.9" fill="url(#cellG)" opacity="0.77" transform="rotate(146 586.2 194.6)"/>
<ellipse cx="615.2" cy="149.6" rx="7.8" ry="2.9" fill="url(#cellG)" opacity="0.40" transform="rotate(-140 615.2 149.6)"/>
<ellipse cx="639.1" cy="159.2" rx="5.5" ry="2.9" fill="url(#cellG)" opacity="0.78" transform="rotate(-65 639.1 159.2)"/>
<ellipse cx="597.4" cy="177.3" rx="7.6" ry="2.1" fill="url(#cellG)" opacity="0.36" transform="rotate(159 597.4 177.3)"/>
<ellipse cx="631.7" cy="156.5" rx="7.6" ry="2.7" fill="url(#cellG)" opacity="0.38" transform="rotate(-89 631.7 156.5)"/>
<ellipse cx="629.8" cy="197.2" rx="5.2" ry="2.2" fill="url(#cellG)" opacity="0.46" transform="rotate(97 629.8 197.2)"/>
<ellipse cx="630.7" cy="149.0" rx="5.7" ry="2.7" fill="url(#cellG)" opacity="0.68" transform="rotate(-109 630.7 149.0)"/>
<ellipse cx="608.6" cy="179.2" rx="6.8" ry="2.2" fill="url(#cellG)" opacity="0.45" transform="rotate(170 608.6 179.2)"/>
<ellipse cx="644.9" cy="179.6" rx="6.9" ry="2.1" fill="url(#cellG)" opacity="0.77" transform="rotate(37 644.9 179.6)"/>
<ellipse cx="613.0" cy="170.5" rx="5.1" ry="2.6" fill="url(#cellG)" opacity="0.45" transform="rotate(178 613.0 170.5)"/>
<ellipse cx="600.6" cy="188.4" rx="5.9" ry="2.8" fill="url(#cellG)" opacity="0.43" transform="rotate(138 600.6 188.4)"/>
<ellipse cx="602.5" cy="171.8" rx="7.7" ry="3.0" fill="url(#cellG)" opacity="0.33" transform="rotate(166 602.5 171.8)"/>
<ellipse cx="614.4" cy="185.0" rx="7.8" ry="2.5" fill="url(#cellG)" opacity="0.40" transform="rotate(138 614.4 185.0)"/>
<ellipse cx="620.6" cy="178.1" rx="7.0" ry="2.8" fill="url(#cellG)" opacity="0.55" transform="rotate(143 620.6 178.1)"/>
<ellipse cx="617.3" cy="191.2" rx="6.6" ry="3.0" fill="url(#cellG)" opacity="0.39" transform="rotate(133 617.3 191.2)"/>
<ellipse cx="635.3" cy="146.9" rx="5.7" ry="2.4" fill="url(#cellG)" opacity="0.67" transform="rotate(-84 635.3 146.9)"/>
<ellipse cx="635.7" cy="187.6" rx="6.5" ry="2.2" fill="url(#cellG)" opacity="0.58" transform="rotate(77 635.7 187.6)"/>
<ellipse cx="616.9" cy="138.5" rx="7.1" ry="2.6" fill="url(#cellG)" opacity="0.72" transform="rotate(-116 616.9 138.5)"/>
<ellipse cx="596.0" cy="146.1" rx="6.5" ry="2.4" fill="url(#cellG)" opacity="0.52" transform="rotate(-163 596.0 146.1)"/>
<ellipse cx="601.4" cy="188.1" rx="7.7" ry="2.6" fill="url(#cellG)" opacity="0.57" transform="rotate(137 601.4 188.1)"/>
<ellipse cx="636.1" cy="151.7" rx="5.9" ry="2.0" fill="url(#cellG)" opacity="0.46" transform="rotate(-95 636.1 151.7)"/>
<ellipse cx="624.9" cy="170.4" rx="6.8" ry="2.1" fill="url(#cellG)" opacity="0.70" transform="rotate(167 624.9 170.4)"/>
<ellipse cx="595.4" cy="152.8" rx="7.1" ry="2.8" fill="url(#cellG)" opacity="0.68" transform="rotate(-167 595.4 152.8)"/>
<ellipse cx="588.2" cy="162.9" rx="5.6" ry="3.0" fill="url(#cellG)" opacity="0.33" transform="rotate(-176 588.2 162.9)"/>
<ellipse cx="616.3" cy="185.7" rx="5.4" ry="2.5" fill="url(#cellG)" opacity="0.66" transform="rotate(152 616.3 185.7)"/>
<ellipse cx="586.8" cy="151.8" rx="5.4" ry="2.4" fill="url(#cellG)" opacity="0.45" transform="rotate(-148 586.8 151.8)"/>
<ellipse cx="612.0" cy="141.2" rx="8.0" ry="2.8" fill="url(#cellG)" opacity="0.66" transform="rotate(-142 612.0 141.2)"/>
<ellipse cx="599.3" cy="152.7" rx="5.7" ry="2.5" fill="url(#cellG)" opacity="0.75" transform="rotate(-153 599.3 152.7)"/>
<ellipse cx="608.0" cy="158.1" rx="6.8" ry="2.0" fill="url(#cellG)" opacity="0.50" transform="rotate(-142 608.0 158.1)"/>
</g><g>
</g></g>
<rect x="649" y="140.2" width="57.5" height="57" fill="#04040f"/>
<g clip-path="url(#cg11)"><g filter="url(#gsoft)">
</g><g>
<circle cx="685.8" cy="145.3" r="1.5" fill="url(#nucB)" opacity="0.62"/>
<circle cx="688.2" cy="188.0" r="1.7" fill="url(#nucB)" opacity="0.62"/>
<circle cx="698.4" cy="166.7" r="1.5" fill="url(#nucB)" opacity="0.62"/>
<circle cx="696.1" cy="162.4" r="1.8" fill="url(#nucB)" opacity="0.62"/>
<circle cx="662.5" cy="160.6" r="1.4" fill="url(#nucB)" opacity="0.62"/>
<circle cx="680.4" cy="150.9" r="1.4" fill="url(#nucB)" opacity="0.62"/>
<circle cx="662.5" cy="167.0" r="1.5" fill="url(#nucB)" opacity="0.62"/>
<circle cx="674.9" cy="194.8" r="1.8" fill="url(#nucB)" opacity="0.62"/>
<circle cx="697.2" cy="153.0" r="1.5" fill="url(#nucB)" opacity="0.62"/>
<circle cx="654.9" cy="178.8" r="1.5" fill="url(#nucB)" opacity="0.62"/>
<circle cx="665.7" cy="143.2" r="1.4" fill="url(#nucB)" opacity="0.62"/>
<circle cx="665.0" cy="163.0" r="1.9" fill="url(#nucB)" opacity="0.62"/>
<circle cx="689.3" cy="156.4" r="1.5" fill="url(#nucB)" opacity="0.62"/>
<circle cx="659.2" cy="191.8" r="1.5" fill="url(#nucB)" opacity="0.62"/>
<circle cx="692.0" cy="180.5" r="1.9" fill="url(#nucB)" opacity="0.62"/>
<circle cx="652.1" cy="159.3" r="1.5" fill="url(#nucB)" opacity="0.62"/>
<circle cx="655.4" cy="189.0" r="1.5" fill="url(#nucB)" opacity="0.62"/>
<circle cx="692.2" cy="169.7" r="1.3" fill="url(#nucB)" opacity="0.62"/>
<circle cx="672.1" cy="154.8" r="1.3" fill="url(#nucB)" opacity="0.62"/>
<circle cx="659.1" cy="173.8" r="1.3" fill="url(#nucB)" opacity="0.62"/>
<circle cx="667.7" cy="164.7" r="1.6" fill="url(#nucB)" opacity="0.62"/>
<circle cx="658.3" cy="179.7" r="1.4" fill="url(#nucB)" opacity="0.62"/>
<circle cx="689.8" cy="177.5" r="1.3" fill="url(#nucB)" opacity="0.62"/>
<circle cx="662.0" cy="157.1" r="1.8" fill="url(#nucB)" opacity="0.62"/>
<circle cx="672.7" cy="162.7" r="1.9" fill="url(#nucB)" opacity="0.62"/>
<circle cx="663.1" cy="157.7" r="1.5" fill="url(#nucB)" opacity="0.62"/>
<circle cx="662.5" cy="144.4" r="1.3" fill="url(#nucB)" opacity="0.62"/>
<circle cx="684.7" cy="172.2" r="1.8" fill="url(#nucB)" opacity="0.62"/>
<circle cx="703.2" cy="158.0" r="1.7" fill="url(#nucB)" opacity="0.62"/>
<circle cx="700.2" cy="153.7" r="1.8" fill="url(#nucB)" opacity="0.62"/>
<circle cx="686.7" cy="192.8" r="1.9" fill="url(#nucB)" opacity="0.62"/>
<circle cx="663.6" cy="175.7" r="1.3" fill="url(#nucB)" opacity="0.62"/>
<circle cx="673.9" cy="163.0" r="1.3" fill="url(#nucB)" opacity="0.62"/>
<circle cx="671.5" cy="159.6" r="1.6" fill="url(#nucB)" opacity="0.62"/>
<circle cx="666.0" cy="150.6" r="1.5" fill="url(#nucB)" opacity="0.62"/>
<circle cx="676.4" cy="151.0" r="1.7" fill="url(#nucB)" opacity="0.62"/>
<circle cx="663.8" cy="147.1" r="1.5" fill="url(#nucB)" opacity="0.62"/>
<circle cx="673.6" cy="150.2" r="1.7" fill="url(#nucB)" opacity="0.62"/>
<circle cx="688.5" cy="171.5" r="1.8" fill="url(#nucB)" opacity="0.62"/>
<circle cx="652.2" cy="162.9" r="1.5" fill="url(#nucB)" opacity="0.62"/>
<circle cx="654.4" cy="163.6" r="1.3" fill="url(#nucB)" opacity="0.62"/>
<circle cx="677.5" cy="173.3" r="1.6" fill="url(#nucB)" opacity="0.62"/>
</g></g>
<rect x="709.7" y="140.2" width="57.5" height="57" fill="#061408"/>
<g clip-path="url(#cg21)"><g filter="url(#gsoft)">
<ellipse cx="746.1" cy="155.1" rx="6.6" ry="2.3" fill="url(#cellM)" opacity="0.47" transform="rotate(-128 746.1 155.1)"/>
<ellipse cx="731.4" cy="179.5" rx="5.6" ry="2.7" fill="url(#cellM)" opacity="0.47" transform="rotate(150 731.4 179.5)"/>
<ellipse cx="767.6" cy="172.8" rx="6.0" ry="2.8" fill="url(#cellM)" opacity="0.36" transform="rotate(23 767.6 172.8)"/>
<ellipse cx="714.9" cy="142.3" rx="7.1" ry="2.2" fill="url(#cellM)" opacity="0.50" transform="rotate(-141 714.9 142.3)"/>
<ellipse cx="760.5" cy="174.7" rx="5.7" ry="2.2" fill="url(#cellM)" opacity="0.37" transform="rotate(36 760.5 174.7)"/>
<ellipse cx="732.3" cy="140.9" rx="6.3" ry="2.5" fill="url(#cellM)" opacity="0.61" transform="rotate(-117 732.3 140.9)"/>
<ellipse cx="755.9" cy="189.6" rx="6.0" ry="2.4" fill="url(#cellM)" opacity="0.32" transform="rotate(86 755.9 189.6)"/>
<ellipse cx="731.9" cy="181.7" rx="7.4" ry="2.7" fill="url(#cellM)" opacity="0.60" transform="rotate(167 731.9 181.7)"/>
<ellipse cx="706.9" cy="157.7" rx="7.0" ry="2.1" fill="url(#cellM)" opacity="0.49" transform="rotate(-171 706.9 157.7)"/>
<ellipse cx="739.1" cy="187.5" rx="6.8" ry="2.2" fill="url(#cellM)" opacity="0.67" transform="rotate(142 739.1 187.5)"/>
<ellipse cx="764.8" cy="171.8" rx="6.5" ry="2.1" fill="url(#cellM)" opacity="0.65" transform="rotate(11 764.8 171.8)"/>
<ellipse cx="770.3" cy="169.7" rx="7.5" ry="2.2" fill="url(#cellM)" opacity="0.75" transform="rotate(8 770.3 169.7)"/>
<ellipse cx="746.8" cy="149.1" rx="5.7" ry="2.6" fill="url(#cellM)" opacity="0.64" transform="rotate(-126 746.8 149.1)"/>
<ellipse cx="727.3" cy="196.6" rx="6.4" ry="2.1" fill="url(#cellM)" opacity="0.77" transform="rotate(132 727.3 196.6)"/>
<ellipse cx="714.6" cy="195.0" rx="6.7" ry="2.6" fill="url(#cellM)" opacity="0.44" transform="rotate(149 714.6 195.0)"/>
<ellipse cx="765.3" cy="200.7" rx="6.8" ry="2.1" fill="url(#cellM)" opacity="0.70" transform="rotate(83 765.3 200.7)"/>
<ellipse cx="724.6" cy="194.5" rx="6.7" ry="2.8" fill="url(#cellM)" opacity="0.40" transform="rotate(133 724.6 194.5)"/>
<ellipse cx="741.6" cy="141.2" rx="5.5" ry="3.0" fill="url(#cellM)" opacity="0.75" transform="rotate(-131 741.6 141.2)"/>
<ellipse cx="748.8" cy="156.2" rx="7.2" ry="2.4" fill="url(#cellM)" opacity="0.59" transform="rotate(-112 748.8 156.2)"/>
<ellipse cx="758.4" cy="137.3" rx="6.4" ry="2.1" fill="url(#cellM)" opacity="0.49" transform="rotate(-94 758.4 137.3)"/>
<ellipse cx="743.0" cy="147.5" rx="5.8" ry="2.6" fill="url(#cellM)" opacity="0.47" transform="rotate(-119 743.0 147.5)"/>
<ellipse cx="747.7" cy="138.7" rx="5.4" ry="3.0" fill="url(#cellM)" opacity="0.59" transform="rotate(-99 747.7 138.7)"/>
<ellipse cx="736.5" cy="162.9" rx="7.1" ry="2.8" fill="url(#cellM)" opacity="0.66" transform="rotate(-158 736.5 162.9)"/>
<ellipse cx="737.5" cy="200.8" rx="7.6" ry="2.4" fill="url(#cellM)" opacity="0.52" transform="rotate(130 737.5 200.8)"/>
<ellipse cx="742.8" cy="195.0" rx="6.6" ry="2.4" fill="url(#cellM)" opacity="0.74" transform="rotate(118 742.8 195.0)"/>
<ellipse cx="726.7" cy="139.8" rx="7.7" ry="2.7" fill="url(#cellM)" opacity="0.59" transform="rotate(-128 726.7 139.8)"/>
<ellipse cx="754.9" cy="156.0" rx="5.2" ry="2.1" fill="url(#cellM)" opacity="0.52" transform="rotate(-90 754.9 156.0)"/>
<ellipse cx="738.6" cy="162.0" rx="7.1" ry="2.5" fill="url(#cellM)" opacity="0.42" transform="rotate(-170 738.6 162.0)"/>
<ellipse cx="725.8" cy="161.9" rx="5.2" ry="2.9" fill="url(#cellM)" opacity="0.76" transform="rotate(-174 725.8 161.9)"/>
<ellipse cx="749.3" cy="192.5" rx="7.4" ry="2.2" fill="url(#cellM)" opacity="0.66" transform="rotate(103 749.3 192.5)"/>
<ellipse cx="742.8" cy="194.9" rx="7.4" ry="2.1" fill="url(#cellM)" opacity="0.56" transform="rotate(105 742.8 194.9)"/>
<ellipse cx="768.0" cy="136.2" rx="5.9" ry="2.3" fill="url(#cellM)" opacity="0.34" transform="rotate(-77 768.0 136.2)"/>
<ellipse cx="764.3" cy="189.2" rx="6.1" ry="2.6" fill="url(#cellM)" opacity="0.33" transform="rotate(63 764.3 189.2)"/>
<ellipse cx="707.7" cy="194.6" rx="6.5" ry="2.9" fill="url(#cellM)" opacity="0.77" transform="rotate(146 707.7 194.6)"/>
<ellipse cx="736.7" cy="149.6" rx="7.8" ry="2.9" fill="url(#cellM)" opacity="0.40" transform="rotate(-140 736.7 149.6)"/>
<ellipse cx="760.6" cy="159.2" rx="5.5" ry="2.9" fill="url(#cellM)" opacity="0.78" transform="rotate(-65 760.6 159.2)"/>
<ellipse cx="718.9" cy="177.3" rx="7.6" ry="2.1" fill="url(#cellM)" opacity="0.36" transform="rotate(159 718.9 177.3)"/>
<ellipse cx="753.2" cy="156.5" rx="7.6" ry="2.7" fill="url(#cellM)" opacity="0.38" transform="rotate(-89 753.2 156.5)"/>
<ellipse cx="751.3" cy="197.2" rx="5.2" ry="2.2" fill="url(#cellM)" opacity="0.46" transform="rotate(97 751.3 197.2)"/>
<ellipse cx="752.2" cy="149.0" rx="5.7" ry="2.7" fill="url(#cellM)" opacity="0.68" transform="rotate(-109 752.2 149.0)"/>
<ellipse cx="730.1" cy="179.2" rx="6.8" ry="2.2" fill="url(#cellM)" opacity="0.45" transform="rotate(170 730.1 179.2)"/>
<ellipse cx="766.4" cy="179.6" rx="6.9" ry="2.1" fill="url(#cellM)" opacity="0.77" transform="rotate(37 766.4 179.6)"/>
<ellipse cx="734.5" cy="170.5" rx="5.1" ry="2.6" fill="url(#cellM)" opacity="0.45" transform="rotate(178 734.5 170.5)"/>
<ellipse cx="722.1" cy="188.4" rx="5.9" ry="2.8" fill="url(#cellM)" opacity="0.43" transform="rotate(138 722.1 188.4)"/>
<ellipse cx="724.0" cy="171.8" rx="7.7" ry="3.0" fill="url(#cellM)" opacity="0.33" transform="rotate(166 724.0 171.8)"/>
<ellipse cx="735.9" cy="185.0" rx="7.8" ry="2.5" fill="url(#cellM)" opacity="0.40" transform="rotate(138 735.9 185.0)"/>
<ellipse cx="742.1" cy="178.1" rx="7.0" ry="2.8" fill="url(#cellM)" opacity="0.55" transform="rotate(143 742.1 178.1)"/>
<ellipse cx="738.8" cy="191.2" rx="6.6" ry="3.0" fill="url(#cellM)" opacity="0.39" transform="rotate(133 738.8 191.2)"/>
<ellipse cx="756.8" cy="146.9" rx="5.7" ry="2.4" fill="url(#cellM)" opacity="0.67" transform="rotate(-84 756.8 146.9)"/>
<ellipse cx="757.2" cy="187.6" rx="6.5" ry="2.2" fill="url(#cellM)" opacity="0.58" transform="rotate(77 757.2 187.6)"/>
<ellipse cx="738.4" cy="138.5" rx="7.1" ry="2.6" fill="url(#cellM)" opacity="0.72" transform="rotate(-116 738.4 138.5)"/>
<ellipse cx="717.5" cy="146.1" rx="6.5" ry="2.4" fill="url(#cellM)" opacity="0.52" transform="rotate(-163 717.5 146.1)"/>
<ellipse cx="722.9" cy="188.1" rx="7.7" ry="2.6" fill="url(#cellM)" opacity="0.57" transform="rotate(137 722.9 188.1)"/>
<ellipse cx="757.6" cy="151.7" rx="5.9" ry="2.0" fill="url(#cellM)" opacity="0.46" transform="rotate(-95 757.6 151.7)"/>
<ellipse cx="746.4" cy="170.4" rx="6.8" ry="2.1" fill="url(#cellM)" opacity="0.70" transform="rotate(167 746.4 170.4)"/>
<ellipse cx="716.9" cy="152.8" rx="7.1" ry="2.8" fill="url(#cellM)" opacity="0.68" transform="rotate(-167 716.9 152.8)"/>
<ellipse cx="709.7" cy="162.9" rx="5.6" ry="3.0" fill="url(#cellM)" opacity="0.33" transform="rotate(-176 709.7 162.9)"/>
<ellipse cx="737.8" cy="185.7" rx="5.4" ry="2.5" fill="url(#cellM)" opacity="0.66" transform="rotate(152 737.8 185.7)"/>
<ellipse cx="708.3" cy="151.8" rx="5.4" ry="2.4" fill="url(#cellM)" opacity="0.45" transform="rotate(-148 708.3 151.8)"/>
<ellipse cx="733.5" cy="141.2" rx="8.0" ry="2.8" fill="url(#cellM)" opacity="0.66" transform="rotate(-142 733.5 141.2)"/>
<ellipse cx="720.8" cy="152.7" rx="5.7" ry="2.5" fill="url(#cellM)" opacity="0.75" transform="rotate(-153 720.8 152.7)"/>
<ellipse cx="729.5" cy="158.1" rx="6.8" ry="2.0" fill="url(#cellM)" opacity="0.50" transform="rotate(-142 729.5 158.1)"/>
</g><g>
<circle cx="746.5" cy="145.3" r="1.5" fill="url(#nucM)" opacity="0.62"/>
<circle cx="748.9" cy="188.0" r="1.7" fill="url(#nucM)" opacity="0.62"/>
<circle cx="759.1" cy="166.7" r="1.5" fill="url(#nucM)" opacity="0.62"/>
<circle cx="756.8" cy="162.4" r="1.8" fill="url(#nucM)" opacity="0.62"/>
<circle cx="723.2" cy="160.6" r="1.4" fill="url(#nucM)" opacity="0.62"/>
<circle cx="741.1" cy="150.9" r="1.4" fill="url(#nucM)" opacity="0.62"/>
<circle cx="723.2" cy="167.0" r="1.5" fill="url(#nucM)" opacity="0.62"/>
<circle cx="735.6" cy="194.8" r="1.8" fill="url(#nucM)" opacity="0.62"/>
<circle cx="757.9" cy="153.0" r="1.5" fill="url(#nucM)" opacity="0.62"/>
<circle cx="715.6" cy="178.8" r="1.5" fill="url(#nucM)" opacity="0.62"/>
<circle cx="726.4" cy="143.2" r="1.4" fill="url(#nucM)" opacity="0.62"/>
<circle cx="725.7" cy="163.0" r="1.9" fill="url(#nucM)" opacity="0.62"/>
<circle cx="750.0" cy="156.4" r="1.5" fill="url(#nucM)" opacity="0.62"/>
<circle cx="719.9" cy="191.8" r="1.5" fill="url(#nucM)" opacity="0.62"/>
<circle cx="752.7" cy="180.5" r="1.9" fill="url(#nucM)" opacity="0.62"/>
<circle cx="712.8" cy="159.3" r="1.5" fill="url(#nucM)" opacity="0.62"/>
<circle cx="716.1" cy="189.0" r="1.5" fill="url(#nucM)" opacity="0.62"/>
<circle cx="752.9" cy="169.7" r="1.3" fill="url(#nucM)" opacity="0.62"/>
<circle cx="732.8" cy="154.8" r="1.3" fill="url(#nucM)" opacity="0.62"/>
<circle cx="719.8" cy="173.8" r="1.3" fill="url(#nucM)" opacity="0.62"/>
<circle cx="728.4" cy="164.7" r="1.6" fill="url(#nucM)" opacity="0.62"/>
<circle cx="719.0" cy="179.7" r="1.4" fill="url(#nucM)" opacity="0.62"/>
<circle cx="750.5" cy="177.5" r="1.3" fill="url(#nucM)" opacity="0.62"/>
<circle cx="722.7" cy="157.1" r="1.8" fill="url(#nucM)" opacity="0.62"/>
<circle cx="733.4" cy="162.7" r="1.9" fill="url(#nucM)" opacity="0.62"/>
<circle cx="723.8" cy="157.7" r="1.5" fill="url(#nucM)" opacity="0.62"/>
<circle cx="723.2" cy="144.4" r="1.3" fill="url(#nucM)" opacity="0.62"/>
<circle cx="745.4" cy="172.2" r="1.8" fill="url(#nucM)" opacity="0.62"/>
<circle cx="763.9" cy="158.0" r="1.7" fill="url(#nucM)" opacity="0.62"/>
<circle cx="760.9" cy="153.7" r="1.8" fill="url(#nucM)" opacity="0.62"/>
<circle cx="747.4" cy="192.8" r="1.9" fill="url(#nucM)" opacity="0.62"/>
<circle cx="724.3" cy="175.7" r="1.3" fill="url(#nucM)" opacity="0.62"/>
<circle cx="734.6" cy="163.0" r="1.3" fill="url(#nucM)" opacity="0.62"/>
<circle cx="732.2" cy="159.6" r="1.6" fill="url(#nucM)" opacity="0.62"/>
<circle cx="726.7" cy="150.6" r="1.5" fill="url(#nucM)" opacity="0.62"/>
<circle cx="737.1" cy="151.0" r="1.7" fill="url(#nucM)" opacity="0.62"/>
<circle cx="724.5" cy="147.1" r="1.5" fill="url(#nucM)" opacity="0.62"/>
<circle cx="734.3" cy="150.2" r="1.7" fill="url(#nucM)" opacity="0.62"/>
<circle cx="749.2" cy="171.5" r="1.8" fill="url(#nucM)" opacity="0.62"/>
<circle cx="712.9" cy="162.9" r="1.5" fill="url(#nucM)" opacity="0.62"/>
<circle cx="715.1" cy="163.6" r="1.3" fill="url(#nucM)" opacity="0.62"/>
<circle cx="738.2" cy="173.3" r="1.6" fill="url(#nucM)" opacity="0.62"/>
</g></g>
<rect x="588.2" y="201.4" width="57.5" height="57" fill="#061408"/>
<g clip-path="url(#cg02)"><g filter="url(#gsoft)">
<ellipse cx="585.7" cy="220.0" rx="6.7" ry="2.3" fill="url(#cellG)" opacity="0.62" transform="rotate(-153 585.7 220.0)"/>
<ellipse cx="596.4" cy="227.9" rx="7.9" ry="2.4" fill="url(#cellG)" opacity="0.58" transform="rotate(-170 596.4 227.9)"/>
<ellipse cx="645.9" cy="247.5" rx="6.9" ry="2.4" fill="url(#cellG)" opacity="0.51" transform="rotate(45 645.9 247.5)"/>
<ellipse cx="602.3" cy="251.3" rx="6.1" ry="2.9" fill="url(#cellG)" opacity="0.33" transform="rotate(153 602.3 251.3)"/>
<ellipse cx="593.1" cy="230.4" rx="6.1" ry="3.0" fill="url(#cellG)" opacity="0.38" transform="rotate(-184 593.1 230.4)"/>
<ellipse cx="596.8" cy="212.3" rx="5.7" ry="2.0" fill="url(#cellG)" opacity="0.57" transform="rotate(-143 596.8 212.3)"/>
<ellipse cx="610.0" cy="213.0" rx="7.0" ry="2.5" fill="url(#cellG)" opacity="0.60" transform="rotate(-134 610.0 213.0)"/>
<ellipse cx="620.9" cy="251.4" rx="6.0" ry="2.3" fill="url(#cellG)" opacity="0.73" transform="rotate(122 620.9 251.4)"/>
<ellipse cx="604.7" cy="243.9" rx="7.1" ry="3.0" fill="url(#cellG)" opacity="0.70" transform="rotate(157 604.7 243.9)"/>
<ellipse cx="594.6" cy="237.8" rx="6.7" ry="2.4" fill="url(#cellG)" opacity="0.45" transform="rotate(169 594.6 237.8)"/>
<ellipse cx="633.3" cy="232.1" rx="5.7" ry="2.3" fill="url(#cellG)" opacity="0.40" transform="rotate(-1 633.3 232.1)"/>
<ellipse cx="617.9" cy="205.6" rx="5.2" ry="2.1" fill="url(#cellG)" opacity="0.64" transform="rotate(-123 617.9 205.6)"/>
<ellipse cx="591.6" cy="226.8" rx="6.4" ry="2.2" fill="url(#cellG)" opacity="0.72" transform="rotate(-164 591.6 226.8)"/>
<ellipse cx="641.2" cy="200.9" rx="6.5" ry="2.8" fill="url(#cellG)" opacity="0.50" transform="rotate(-73 641.2 200.9)"/>
<ellipse cx="631.1" cy="213.8" rx="6.0" ry="2.3" fill="url(#cellG)" opacity="0.67" transform="rotate(-72 631.1 213.8)"/>
<ellipse cx="639.4" cy="251.3" rx="6.3" ry="2.7" fill="url(#cellG)" opacity="0.60" transform="rotate(61 639.4 251.3)"/>
<ellipse cx="638.6" cy="249.5" rx="6.1" ry="2.7" fill="url(#cellG)" opacity="0.42" transform="rotate(47 638.6 249.5)"/>
<ellipse cx="596.3" cy="198.3" rx="7.8" ry="3.0" fill="url(#cellG)" opacity="0.37" transform="rotate(-131 596.3 198.3)"/>
<ellipse cx="629.2" cy="224.7" rx="6.2" ry="2.9" fill="url(#cellG)" opacity="0.77" transform="rotate(-71 629.2 224.7)"/>
<ellipse cx="587.4" cy="243.8" rx="5.1" ry="2.3" fill="url(#cellG)" opacity="0.65" transform="rotate(151 587.4 243.8)"/>
<ellipse cx="649.3" cy="205.2" rx="5.1" ry="2.5" fill="url(#cellG)" opacity="0.54" transform="rotate(-55 649.3 205.2)"/>
<ellipse cx="608.7" cy="217.5" rx="7.5" ry="2.3" fill="url(#cellG)" opacity="0.50" transform="rotate(-134 608.7 217.5)"/>
<ellipse cx="624.7" cy="247.1" rx="6.2" ry="2.7" fill="url(#cellG)" opacity="0.57" transform="rotate(114 624.7 247.1)"/>
<ellipse cx="636.6" cy="206.9" rx="5.3" ry="2.9" fill="url(#cellG)" opacity="0.43" transform="rotate(-79 636.6 206.9)"/>
<ellipse cx="616.2" cy="205.2" rx="5.1" ry="2.6" fill="url(#cellG)" opacity="0.38" transform="rotate(-118 616.2 205.2)"/>
<ellipse cx="625.2" cy="215.2" rx="6.4" ry="2.4" fill="url(#cellG)" opacity="0.43" transform="rotate(-106 625.2 215.2)"/>
<ellipse cx="587.6" cy="201.6" rx="5.9" ry="2.1" fill="url(#cellG)" opacity="0.40" transform="rotate(-131 587.6 201.6)"/>
<ellipse cx="615.9" cy="262.2" rx="7.6" ry="2.5" fill="url(#cellG)" opacity="0.51" transform="rotate(102 615.9 262.2)"/>
<ellipse cx="637.1" cy="223.1" rx="6.7" ry="2.7" fill="url(#cellG)" opacity="0.60" transform="rotate(-54 637.1 223.1)"/>
<ellipse cx="602.4" cy="258.4" rx="8.0" ry="2.4" fill="url(#cellG)" opacity="0.70" transform="rotate(144 602.4 258.4)"/>
<ellipse cx="631.7" cy="208.8" rx="5.5" ry="2.1" fill="url(#cellG)" opacity="0.35" transform="rotate(-93 631.7 208.8)"/>
<ellipse cx="607.7" cy="246.4" rx="6.5" ry="2.0" fill="url(#cellG)" opacity="0.41" transform="rotate(137 607.7 246.4)"/>
<ellipse cx="647.0" cy="198.1" rx="7.4" ry="2.8" fill="url(#cellG)" opacity="0.66" transform="rotate(-59 647.0 198.1)"/>
<ellipse cx="610.4" cy="249.6" rx="7.3" ry="3.0" fill="url(#cellG)" opacity="0.36" transform="rotate(143 610.4 249.6)"/>
<ellipse cx="646.4" cy="223.5" rx="5.8" ry="2.9" fill="url(#cellG)" opacity="0.32" transform="rotate(-16 646.4 223.5)"/>
<ellipse cx="622.0" cy="212.2" rx="6.1" ry="2.7" fill="url(#cellG)" opacity="0.69" transform="rotate(-109 622.0 212.2)"/>
<ellipse cx="608.1" cy="238.9" rx="5.8" ry="2.9" fill="url(#cellG)" opacity="0.46" transform="rotate(154 608.1 238.9)"/>
<ellipse cx="590.4" cy="219.2" rx="5.6" ry="2.7" fill="url(#cellG)" opacity="0.57" transform="rotate(-154 590.4 219.2)"/>
<ellipse cx="628.8" cy="208.9" rx="5.4" ry="2.4" fill="url(#cellG)" opacity="0.51" transform="rotate(-98 628.8 208.9)"/>
<ellipse cx="584.8" cy="230.1" rx="6.0" ry="2.5" fill="url(#cellG)" opacity="0.76" transform="rotate(-181 584.8 230.1)"/>
<ellipse cx="597.6" cy="254.6" rx="7.3" ry="2.1" fill="url(#cellG)" opacity="0.77" transform="rotate(137 597.6 254.6)"/>
<ellipse cx="612.4" cy="260.0" rx="6.2" ry="2.7" fill="url(#cellG)" opacity="0.40" transform="rotate(109 612.4 260.0)"/>
<ellipse cx="602.1" cy="241.4" rx="6.0" ry="2.2" fill="url(#cellG)" opacity="0.48" transform="rotate(172 602.1 241.4)"/>
<ellipse cx="649.0" cy="207.0" rx="6.1" ry="2.6" fill="url(#cellG)" opacity="0.41" transform="rotate(-44 649.0 207.0)"/>
<ellipse cx="624.6" cy="255.1" rx="6.9" ry="2.5" fill="url(#cellG)" opacity="0.58" transform="rotate(107 624.6 255.1)"/>
<ellipse cx="591.7" cy="251.8" rx="6.4" ry="2.7" fill="url(#cellG)" opacity="0.51" transform="rotate(156 591.7 251.8)"/>
<ellipse cx="609.4" cy="212.4" rx="6.7" ry="2.5" fill="url(#cellG)" opacity="0.33" transform="rotate(-130 609.4 212.4)"/>
<ellipse cx="625.3" cy="226.4" rx="6.8" ry="2.9" fill="url(#cellG)" opacity="0.38" transform="rotate(-110 625.3 226.4)"/>
<ellipse cx="614.9" cy="261.9" rx="5.9" ry="2.7" fill="url(#cellG)" opacity="0.78" transform="rotate(119 614.9 261.9)"/>
<ellipse cx="610.5" cy="253.8" rx="8.0" ry="2.5" fill="url(#cellG)" opacity="0.42" transform="rotate(116 610.5 253.8)"/>
<ellipse cx="639.2" cy="239.6" rx="7.5" ry="2.8" fill="url(#cellG)" opacity="0.55" transform="rotate(48 639.2 239.6)"/>
<ellipse cx="649.3" cy="201.6" rx="7.1" ry="2.3" fill="url(#cellG)" opacity="0.69" transform="rotate(-43 649.3 201.6)"/>
<ellipse cx="613.9" cy="232.3" rx="5.6" ry="2.3" fill="url(#cellG)" opacity="0.61" transform="rotate(187 613.9 232.3)"/>
<ellipse cx="589.0" cy="233.5" rx="6.5" ry="2.2" fill="url(#cellG)" opacity="0.69" transform="rotate(185 589.0 233.5)"/>
<ellipse cx="640.2" cy="247.5" rx="7.7" ry="2.8" fill="url(#cellG)" opacity="0.38" transform="rotate(53 640.2 247.5)"/>
<ellipse cx="608.2" cy="203.9" rx="6.0" ry="2.9" fill="url(#cellG)" opacity="0.70" transform="rotate(-139 608.2 203.9)"/>
<ellipse cx="591.9" cy="209.2" rx="7.5" ry="2.6" fill="url(#cellG)" opacity="0.73" transform="rotate(-151 591.9 209.2)"/>
<ellipse cx="588.9" cy="261.6" rx="6.9" ry="2.9" fill="url(#cellG)" opacity="0.65" transform="rotate(133 588.9 261.6)"/>
<ellipse cx="597.1" cy="240.8" rx="5.0" ry="2.3" fill="url(#cellG)" opacity="0.46" transform="rotate(161 597.1 240.8)"/>
<ellipse cx="625.4" cy="215.5" rx="7.1" ry="2.2" fill="url(#cellG)" opacity="0.37" transform="rotate(-94 625.4 215.5)"/>
<ellipse cx="629.6" cy="227.7" rx="5.3" ry="2.9" fill="url(#cellG)" opacity="0.60" transform="rotate(-69 629.6 227.7)"/>
<ellipse cx="607.6" cy="210.2" rx="7.1" ry="2.7" fill="url(#cellG)" opacity="0.48" transform="rotate(-118 607.6 210.2)"/>
</g><g>
</g></g>
<rect x="649" y="201.4" width="57.5" height="57" fill="#04040f"/>
<g clip-path="url(#cg12)"><g filter="url(#gsoft)">
</g><g>
<circle cx="667.6" cy="225.0" r="1.3" fill="url(#nucB)" opacity="0.62"/>
<circle cx="684.8" cy="225.9" r="1.9" fill="url(#nucB)" opacity="0.62"/>
<circle cx="672.9" cy="227.6" r="1.6" fill="url(#nucB)" opacity="0.62"/>
<circle cx="701.4" cy="221.8" r="1.8" fill="url(#nucB)" opacity="0.62"/>
<circle cx="663.6" cy="234.1" r="1.5" fill="url(#nucB)" opacity="0.62"/>
<circle cx="697.7" cy="218.6" r="1.9" fill="url(#nucB)" opacity="0.62"/>
<circle cx="687.2" cy="227.5" r="1.9" fill="url(#nucB)" opacity="0.62"/>
<circle cx="671.7" cy="242.8" r="1.7" fill="url(#nucB)" opacity="0.62"/>
<circle cx="675.0" cy="206.8" r="1.6" fill="url(#nucB)" opacity="0.62"/>
<circle cx="666.0" cy="226.8" r="2.0" fill="url(#nucB)" opacity="0.62"/>
<circle cx="666.7" cy="240.2" r="1.7" fill="url(#nucB)" opacity="0.62"/>
<circle cx="664.1" cy="225.2" r="1.3" fill="url(#nucB)" opacity="0.62"/>
<circle cx="698.9" cy="216.7" r="1.6" fill="url(#nucB)" opacity="0.62"/>
<circle cx="669.3" cy="246.9" r="1.9" fill="url(#nucB)" opacity="0.62"/>
<circle cx="682.6" cy="232.3" r="1.3" fill="url(#nucB)" opacity="0.62"/>
<circle cx="699.0" cy="208.1" r="1.5" fill="url(#nucB)" opacity="0.62"/>
<circle cx="671.0" cy="241.7" r="1.7" fill="url(#nucB)" opacity="0.62"/>
<circle cx="669.4" cy="251.0" r="2.0" fill="url(#nucB)" opacity="0.62"/>
<circle cx="652.2" cy="236.9" r="1.6" fill="url(#nucB)" opacity="0.62"/>
<circle cx="670.4" cy="228.0" r="1.5" fill="url(#nucB)" opacity="0.62"/>
<circle cx="686.9" cy="235.5" r="2.0" fill="url(#nucB)" opacity="0.62"/>
<circle cx="703.2" cy="256.0" r="1.5" fill="url(#nucB)" opacity="0.62"/>
<circle cx="695.3" cy="237.8" r="1.8" fill="url(#nucB)" opacity="0.62"/>
<circle cx="704.4" cy="206.9" r="1.6" fill="url(#nucB)" opacity="0.62"/>
<circle cx="672.5" cy="238.2" r="1.4" fill="url(#nucB)" opacity="0.62"/>
<circle cx="704.0" cy="214.5" r="1.5" fill="url(#nucB)" opacity="0.62"/>
<circle cx="658.6" cy="224.3" r="1.8" fill="url(#nucB)" opacity="0.62"/>
<circle cx="655.5" cy="212.2" r="1.7" fill="url(#nucB)" opacity="0.62"/>
<circle cx="684.3" cy="242.7" r="1.4" fill="url(#nucB)" opacity="0.62"/>
<circle cx="694.4" cy="242.1" r="1.8" fill="url(#nucB)" opacity="0.62"/>
<circle cx="657.4" cy="228.2" r="1.2" fill="url(#nucB)" opacity="0.62"/>
<circle cx="697.0" cy="253.5" r="1.9" fill="url(#nucB)" opacity="0.62"/>
<circle cx="652.3" cy="222.0" r="1.6" fill="url(#nucB)" opacity="0.62"/>
<circle cx="679.6" cy="209.3" r="1.8" fill="url(#nucB)" opacity="0.62"/>
<circle cx="667.1" cy="230.3" r="1.3" fill="url(#nucB)" opacity="0.62"/>
<circle cx="681.4" cy="210.3" r="1.3" fill="url(#nucB)" opacity="0.62"/>
<circle cx="678.4" cy="219.0" r="1.8" fill="url(#nucB)" opacity="0.62"/>
<circle cx="664.2" cy="225.3" r="1.3" fill="url(#nucB)" opacity="0.62"/>
<circle cx="662.6" cy="227.3" r="1.7" fill="url(#nucB)" opacity="0.62"/>
<circle cx="675.6" cy="248.5" r="1.3" fill="url(#nucB)" opacity="0.62"/>
<circle cx="696.5" cy="211.6" r="2.0" fill="url(#nucB)" opacity="0.62"/>
<circle cx="679.1" cy="224.9" r="1.7" fill="url(#nucB)" opacity="0.62"/>
</g></g>
<rect x="709.7" y="201.4" width="57.5" height="57" fill="#061408"/>
<g clip-path="url(#cg22)"><g filter="url(#gsoft)">
<ellipse cx="707.2" cy="220.0" rx="6.7" ry="2.3" fill="url(#cellM)" opacity="0.62" transform="rotate(-153 707.2 220.0)"/>
<ellipse cx="717.9" cy="227.9" rx="7.9" ry="2.4" fill="url(#cellM)" opacity="0.58" transform="rotate(-170 717.9 227.9)"/>
<ellipse cx="767.4" cy="247.5" rx="6.9" ry="2.4" fill="url(#cellM)" opacity="0.51" transform="rotate(45 767.4 247.5)"/>
<ellipse cx="723.8" cy="251.3" rx="6.1" ry="2.9" fill="url(#cellM)" opacity="0.33" transform="rotate(153 723.8 251.3)"/>
<ellipse cx="714.6" cy="230.4" rx="6.1" ry="3.0" fill="url(#cellM)" opacity="0.38" transform="rotate(-184 714.6 230.4)"/>
<ellipse cx="718.3" cy="212.3" rx="5.7" ry="2.0" fill="url(#cellM)" opacity="0.57" transform="rotate(-143 718.3 212.3)"/>
<ellipse cx="731.5" cy="213.0" rx="7.0" ry="2.5" fill="url(#cellM)" opacity="0.60" transform="rotate(-134 731.5 213.0)"/>
<ellipse cx="742.4" cy="251.4" rx="6.0" ry="2.3" fill="url(#cellM)" opacity="0.73" transform="rotate(122 742.4 251.4)"/>
<ellipse cx="726.2" cy="243.9" rx="7.1" ry="3.0" fill="url(#cellM)" opacity="0.70" transform="rotate(157 726.2 243.9)"/>
<ellipse cx="716.1" cy="237.8" rx="6.7" ry="2.4" fill="url(#cellM)" opacity="0.45" transform="rotate(169 716.1 237.8)"/>
<ellipse cx="754.8" cy="232.1" rx="5.7" ry="2.3" fill="url(#cellM)" opacity="0.40" transform="rotate(-1 754.8 232.1)"/>
<ellipse cx="739.4" cy="205.6" rx="5.2" ry="2.1" fill="url(#cellM)" opacity="0.64" transform="rotate(-123 739.4 205.6)"/>
<ellipse cx="713.1" cy="226.8" rx="6.4" ry="2.2" fill="url(#cellM)" opacity="0.72" transform="rotate(-164 713.1 226.8)"/>
<ellipse cx="762.7" cy="200.9" rx="6.5" ry="2.8" fill="url(#cellM)" opacity="0.50" transform="rotate(-73 762.7 200.9)"/>
<ellipse cx="752.6" cy="213.8" rx="6.0" ry="2.3" fill="url(#cellM)" opacity="0.67" transform="rotate(-72 752.6 213.8)"/>
<ellipse cx="760.9" cy="251.3" rx="6.3" ry="2.7" fill="url(#cellM)" opacity="0.60" transform="rotate(61 760.9 251.3)"/>
<ellipse cx="760.1" cy="249.5" rx="6.1" ry="2.7" fill="url(#cellM)" opacity="0.42" transform="rotate(47 760.1 249.5)"/>
<ellipse cx="717.8" cy="198.3" rx="7.8" ry="3.0" fill="url(#cellM)" opacity="0.37" transform="rotate(-131 717.8 198.3)"/>
<ellipse cx="750.7" cy="224.7" rx="6.2" ry="2.9" fill="url(#cellM)" opacity="0.77" transform="rotate(-71 750.7 224.7)"/>
<ellipse cx="708.9" cy="243.8" rx="5.1" ry="2.3" fill="url(#cellM)" opacity="0.65" transform="rotate(151 708.9 243.8)"/>
<ellipse cx="770.8" cy="205.2" rx="5.1" ry="2.5" fill="url(#cellM)" opacity="0.54" transform="rotate(-55 770.8 205.2)"/>
<ellipse cx="730.2" cy="217.5" rx="7.5" ry="2.3" fill="url(#cellM)" opacity="0.50" transform="rotate(-134 730.2 217.5)"/>
<ellipse cx="746.2" cy="247.1" rx="6.2" ry="2.7" fill="url(#cellM)" opacity="0.57" transform="rotate(114 746.2 247.1)"/>
<ellipse cx="758.1" cy="206.9" rx="5.3" ry="2.9" fill="url(#cellM)" opacity="0.43" transform="rotate(-79 758.1 206.9)"/>
<ellipse cx="737.7" cy="205.2" rx="5.1" ry="2.6" fill="url(#cellM)" opacity="0.38" transform="rotate(-118 737.7 205.2)"/>
<ellipse cx="746.7" cy="215.2" rx="6.4" ry="2.4" fill="url(#cellM)" opacity="0.43" transform="rotate(-106 746.7 215.2)"/>
<ellipse cx="709.1" cy="201.6" rx="5.9" ry="2.1" fill="url(#cellM)" opacity="0.40" transform="rotate(-131 709.1 201.6)"/>
<ellipse cx="737.4" cy="262.2" rx="7.6" ry="2.5" fill="url(#cellM)" opacity="0.51" transform="rotate(102 737.4 262.2)"/>
<ellipse cx="758.6" cy="223.1" rx="6.7" ry="2.7" fill="url(#cellM)" opacity="0.60" transform="rotate(-54 758.6 223.1)"/>
<ellipse cx="723.9" cy="258.4" rx="8.0" ry="2.4" fill="url(#cellM)" opacity="0.70" transform="rotate(144 723.9 258.4)"/>
<ellipse cx="753.2" cy="208.8" rx="5.5" ry="2.1" fill="url(#cellM)" opacity="0.35" transform="rotate(-93 753.2 208.8)"/>
<ellipse cx="729.2" cy="246.4" rx="6.5" ry="2.0" fill="url(#cellM)" opacity="0.41" transform="rotate(137 729.2 246.4)"/>
<ellipse cx="768.5" cy="198.1" rx="7.4" ry="2.8" fill="url(#cellM)" opacity="0.66" transform="rotate(-59 768.5 198.1)"/>
<ellipse cx="731.9" cy="249.6" rx="7.3" ry="3.0" fill="url(#cellM)" opacity="0.36" transform="rotate(143 731.9 249.6)"/>
<ellipse cx="767.9" cy="223.5" rx="5.8" ry="2.9" fill="url(#cellM)" opacity="0.32" transform="rotate(-16 767.9 223.5)"/>
<ellipse cx="743.5" cy="212.2" rx="6.1" ry="2.7" fill="url(#cellM)" opacity="0.69" transform="rotate(-109 743.5 212.2)"/>
<ellipse cx="729.6" cy="238.9" rx="5.8" ry="2.9" fill="url(#cellM)" opacity="0.46" transform="rotate(154 729.6 238.9)"/>
<ellipse cx="711.9" cy="219.2" rx="5.6" ry="2.7" fill="url(#cellM)" opacity="0.57" transform="rotate(-154 711.9 219.2)"/>
<ellipse cx="750.3" cy="208.9" rx="5.4" ry="2.4" fill="url(#cellM)" opacity="0.51" transform="rotate(-98 750.3 208.9)"/>
<ellipse cx="706.3" cy="230.1" rx="6.0" ry="2.5" fill="url(#cellM)" opacity="0.76" transform="rotate(-181 706.3 230.1)"/>
<ellipse cx="719.1" cy="254.6" rx="7.3" ry="2.1" fill="url(#cellM)" opacity="0.77" transform="rotate(137 719.1 254.6)"/>
<ellipse cx="733.9" cy="260.0" rx="6.2" ry="2.7" fill="url(#cellM)" opacity="0.40" transform="rotate(109 733.9 260.0)"/>
<ellipse cx="723.6" cy="241.4" rx="6.0" ry="2.2" fill="url(#cellM)" opacity="0.48" transform="rotate(172 723.6 241.4)"/>
<ellipse cx="770.5" cy="207.0" rx="6.1" ry="2.6" fill="url(#cellM)" opacity="0.41" transform="rotate(-44 770.5 207.0)"/>
<ellipse cx="746.1" cy="255.1" rx="6.9" ry="2.5" fill="url(#cellM)" opacity="0.58" transform="rotate(107 746.1 255.1)"/>
<ellipse cx="713.2" cy="251.8" rx="6.4" ry="2.7" fill="url(#cellM)" opacity="0.51" transform="rotate(156 713.2 251.8)"/>
<ellipse cx="730.9" cy="212.4" rx="6.7" ry="2.5" fill="url(#cellM)" opacity="0.33" transform="rotate(-130 730.9 212.4)"/>
<ellipse cx="746.8" cy="226.4" rx="6.8" ry="2.9" fill="url(#cellM)" opacity="0.38" transform="rotate(-110 746.8 226.4)"/>
<ellipse cx="736.4" cy="261.9" rx="5.9" ry="2.7" fill="url(#cellM)" opacity="0.78" transform="rotate(119 736.4 261.9)"/>
<ellipse cx="732.0" cy="253.8" rx="8.0" ry="2.5" fill="url(#cellM)" opacity="0.42" transform="rotate(116 732.0 253.8)"/>
<ellipse cx="760.7" cy="239.6" rx="7.5" ry="2.8" fill="url(#cellM)" opacity="0.55" transform="rotate(48 760.7 239.6)"/>
<ellipse cx="770.8" cy="201.6" rx="7.1" ry="2.3" fill="url(#cellM)" opacity="0.69" transform="rotate(-43 770.8 201.6)"/>
<ellipse cx="735.4" cy="232.3" rx="5.6" ry="2.3" fill="url(#cellM)" opacity="0.61" transform="rotate(187 735.4 232.3)"/>
<ellipse cx="710.5" cy="233.5" rx="6.5" ry="2.2" fill="url(#cellM)" opacity="0.69" transform="rotate(185 710.5 233.5)"/>
<ellipse cx="761.7" cy="247.5" rx="7.7" ry="2.8" fill="url(#cellM)" opacity="0.38" transform="rotate(53 761.7 247.5)"/>
<ellipse cx="729.7" cy="203.9" rx="6.0" ry="2.9" fill="url(#cellM)" opacity="0.70" transform="rotate(-139 729.7 203.9)"/>
<ellipse cx="713.4" cy="209.2" rx="7.5" ry="2.6" fill="url(#cellM)" opacity="0.73" transform="rotate(-151 713.4 209.2)"/>
<ellipse cx="710.4" cy="261.6" rx="6.9" ry="2.9" fill="url(#cellM)" opacity="0.65" transform="rotate(133 710.4 261.6)"/>
<ellipse cx="718.6" cy="240.8" rx="5.0" ry="2.3" fill="url(#cellM)" opacity="0.46" transform="rotate(161 718.6 240.8)"/>
<ellipse cx="746.9" cy="215.5" rx="7.1" ry="2.2" fill="url(#cellM)" opacity="0.37" transform="rotate(-94 746.9 215.5)"/>
<ellipse cx="751.1" cy="227.7" rx="5.3" ry="2.9" fill="url(#cellM)" opacity="0.60" transform="rotate(-69 751.1 227.7)"/>
<ellipse cx="729.1" cy="210.2" rx="7.1" ry="2.7" fill="url(#cellM)" opacity="0.48" transform="rotate(-118 729.1 210.2)"/>
</g><g>
<circle cx="728.3" cy="225.0" r="1.3" fill="url(#nucM)" opacity="0.62"/>
<circle cx="745.5" cy="225.9" r="1.9" fill="url(#nucM)" opacity="0.62"/>
<circle cx="733.6" cy="227.6" r="1.6" fill="url(#nucM)" opacity="0.62"/>
<circle cx="762.1" cy="221.8" r="1.8" fill="url(#nucM)" opacity="0.62"/>
<circle cx="724.3" cy="234.1" r="1.5" fill="url(#nucM)" opacity="0.62"/>
<circle cx="758.4" cy="218.6" r="1.9" fill="url(#nucM)" opacity="0.62"/>
<circle cx="747.9" cy="227.5" r="1.9" fill="url(#nucM)" opacity="0.62"/>
<circle cx="732.4" cy="242.8" r="1.7" fill="url(#nucM)" opacity="0.62"/>
<circle cx="735.7" cy="206.8" r="1.6" fill="url(#nucM)" opacity="0.62"/>
<circle cx="726.7" cy="226.8" r="2.0" fill="url(#nucM)" opacity="0.62"/>
<circle cx="727.4" cy="240.2" r="1.7" fill="url(#nucM)" opacity="0.62"/>
<circle cx="724.8" cy="225.2" r="1.3" fill="url(#nucM)" opacity="0.62"/>
<circle cx="759.6" cy="216.7" r="1.6" fill="url(#nucM)" opacity="0.62"/>
<circle cx="730.0" cy="246.9" r="1.9" fill="url(#nucM)" opacity="0.62"/>
<circle cx="743.3" cy="232.3" r="1.3" fill="url(#nucM)" opacity="0.62"/>
<circle cx="759.7" cy="208.1" r="1.5" fill="url(#nucM)" opacity="0.62"/>
<circle cx="731.7" cy="241.7" r="1.7" fill="url(#nucM)" opacity="0.62"/>
<circle cx="730.1" cy="251.0" r="2.0" fill="url(#nucM)" opacity="0.62"/>
<circle cx="712.9" cy="236.9" r="1.6" fill="url(#nucM)" opacity="0.62"/>
<circle cx="731.1" cy="228.0" r="1.5" fill="url(#nucM)" opacity="0.62"/>
<circle cx="747.6" cy="235.5" r="2.0" fill="url(#nucM)" opacity="0.62"/>
<circle cx="763.9" cy="256.0" r="1.5" fill="url(#nucM)" opacity="0.62"/>
<circle cx="756.0" cy="237.8" r="1.8" fill="url(#nucM)" opacity="0.62"/>
<circle cx="765.1" cy="206.9" r="1.6" fill="url(#nucM)" opacity="0.62"/>
<circle cx="733.2" cy="238.2" r="1.4" fill="url(#nucM)" opacity="0.62"/>
<circle cx="764.7" cy="214.5" r="1.5" fill="url(#nucM)" opacity="0.62"/>
<circle cx="719.3" cy="224.3" r="1.8" fill="url(#nucM)" opacity="0.62"/>
<circle cx="716.2" cy="212.2" r="1.7" fill="url(#nucM)" opacity="0.62"/>
<circle cx="745.0" cy="242.7" r="1.4" fill="url(#nucM)" opacity="0.62"/>
<circle cx="755.1" cy="242.1" r="1.8" fill="url(#nucM)" opacity="0.62"/>
<circle cx="718.1" cy="228.2" r="1.2" fill="url(#nucM)" opacity="0.62"/>
<circle cx="757.7" cy="253.5" r="1.9" fill="url(#nucM)" opacity="0.62"/>
<circle cx="713.0" cy="222.0" r="1.6" fill="url(#nucM)" opacity="0.62"/>
<circle cx="740.3" cy="209.3" r="1.8" fill="url(#nucM)" opacity="0.62"/>
<circle cx="727.8" cy="230.3" r="1.3" fill="url(#nucM)" opacity="0.62"/>
<circle cx="742.1" cy="210.3" r="1.3" fill="url(#nucM)" opacity="0.62"/>
<circle cx="739.1" cy="219.0" r="1.8" fill="url(#nucM)" opacity="0.62"/>
<circle cx="724.9" cy="225.3" r="1.3" fill="url(#nucM)" opacity="0.62"/>
<circle cx="723.3" cy="227.3" r="1.7" fill="url(#nucM)" opacity="0.62"/>
<circle cx="736.3" cy="248.5" r="1.3" fill="url(#nucM)" opacity="0.62"/>
<circle cx="757.2" cy="211.6" r="2.0" fill="url(#nucM)" opacity="0.62"/>
<circle cx="739.8" cy="224.9" r="1.7" fill="url(#nucM)" opacity="0.62"/>
</g></g>
<rect x="588.2" y="263.2" width="57.5" height="57" fill="#061408"/>
<g clip-path="url(#cg03)"><g filter="url(#gsoft)">
<ellipse cx="611.3" cy="259.9" rx="7.5" ry="2.7" fill="url(#cellG)" opacity="0.65" transform="rotate(-128 611.3 259.9)"/>
<ellipse cx="594.5" cy="293.7" rx="5.3" ry="2.3" fill="url(#cellG)" opacity="0.76" transform="rotate(-178 594.5 293.7)"/>
<ellipse cx="626.3" cy="314.3" rx="6.2" ry="2.1" fill="url(#cellG)" opacity="0.43" transform="rotate(121 626.3 314.3)"/>
<ellipse cx="591.5" cy="318.9" rx="6.5" ry="2.7" fill="url(#cellG)" opacity="0.73" transform="rotate(158 591.5 318.9)"/>
<ellipse cx="646.2" cy="296.1" rx="7.7" ry="2.4" fill="url(#cellG)" opacity="0.45" transform="rotate(-40 646.2 296.1)"/>
<ellipse cx="632.6" cy="276.0" rx="6.3" ry="2.5" fill="url(#cellG)" opacity="0.48" transform="rotate(-99 632.6 276.0)"/>
<ellipse cx="612.4" cy="288.5" rx="7.5" ry="2.1" fill="url(#cellG)" opacity="0.56" transform="rotate(-157 612.4 288.5)"/>
<ellipse cx="620.1" cy="285.2" rx="5.3" ry="2.4" fill="url(#cellG)" opacity="0.46" transform="rotate(-135 620.1 285.2)"/>
<ellipse cx="615.9" cy="274.2" rx="6.5" ry="2.0" fill="url(#cellG)" opacity="0.50" transform="rotate(-114 615.9 274.2)"/>
<ellipse cx="647.5" cy="259.7" rx="7.9" ry="2.4" fill="url(#cellG)" opacity="0.59" transform="rotate(-72 647.5 259.7)"/>
<ellipse cx="608.4" cy="278.8" rx="6.8" ry="2.3" fill="url(#cellG)" opacity="0.54" transform="rotate(-132 608.4 278.8)"/>
<ellipse cx="618.0" cy="308.2" rx="5.3" ry="2.3" fill="url(#cellG)" opacity="0.44" transform="rotate(157 618.0 308.2)"/>
<ellipse cx="636.3" cy="286.9" rx="6.2" ry="2.3" fill="url(#cellG)" opacity="0.63" transform="rotate(-75 636.3 286.9)"/>
<ellipse cx="589.8" cy="323.2" rx="6.0" ry="2.3" fill="url(#cellG)" opacity="0.70" transform="rotate(168 589.8 323.2)"/>
<ellipse cx="635.8" cy="300.9" rx="7.3" ry="2.0" fill="url(#cellG)" opacity="0.60" transform="rotate(-94 635.8 300.9)"/>
<ellipse cx="620.4" cy="319.5" rx="5.1" ry="2.9" fill="url(#cellG)" opacity="0.66" transform="rotate(140 620.4 319.5)"/>
<ellipse cx="622.2" cy="259.6" rx="6.3" ry="2.7" fill="url(#cellG)" opacity="0.77" transform="rotate(-99 622.2 259.6)"/>
<ellipse cx="644.2" cy="264.1" rx="6.3" ry="2.8" fill="url(#cellG)" opacity="0.49" transform="rotate(-69 644.2 264.1)"/>
<ellipse cx="613.5" cy="287.6" rx="6.0" ry="2.7" fill="url(#cellG)" opacity="0.35" transform="rotate(-152 613.5 287.6)"/>
<ellipse cx="591.8" cy="313.4" rx="6.6" ry="2.1" fill="url(#cellG)" opacity="0.37" transform="rotate(174 591.8 313.4)"/>
<ellipse cx="604.5" cy="321.2" rx="7.8" ry="2.2" fill="url(#cellG)" opacity="0.51" transform="rotate(154 604.5 321.2)"/>
<ellipse cx="619.3" cy="313.8" rx="7.6" ry="2.5" fill="url(#cellG)" opacity="0.33" transform="rotate(141 619.3 313.8)"/>
<ellipse cx="612.5" cy="283.7" rx="7.8" ry="2.5" fill="url(#cellG)" opacity="0.63" transform="rotate(-131 612.5 283.7)"/>
<ellipse cx="609.6" cy="309.8" rx="7.2" ry="2.2" fill="url(#cellG)" opacity="0.59" transform="rotate(158 609.6 309.8)"/>
<ellipse cx="597.4" cy="281.7" rx="6.0" ry="2.6" fill="url(#cellG)" opacity="0.56" transform="rotate(-158 597.4 281.7)"/>
<ellipse cx="609.7" cy="296.5" rx="6.1" ry="2.6" fill="url(#cellG)" opacity="0.54" transform="rotate(-151 609.7 296.5)"/>
<ellipse cx="648.4" cy="280.5" rx="5.7" ry="2.3" fill="url(#cellG)" opacity="0.65" transform="rotate(-56 648.4 280.5)"/>
<ellipse cx="621.9" cy="275.9" rx="7.5" ry="2.4" fill="url(#cellG)" opacity="0.65" transform="rotate(-127 621.9 275.9)"/>
<ellipse cx="612.5" cy="299.3" rx="7.9" ry="2.9" fill="url(#cellG)" opacity="0.53" transform="rotate(-163 612.5 299.3)"/>
<ellipse cx="616.1" cy="274.2" rx="5.3" ry="2.3" fill="url(#cellG)" opacity="0.71" transform="rotate(-114 616.1 274.2)"/>
<ellipse cx="586.5" cy="304.6" rx="6.7" ry="2.3" fill="url(#cellG)" opacity="0.38" transform="rotate(-177 586.5 304.6)"/>
<ellipse cx="646.5" cy="308.9" rx="5.3" ry="2.8" fill="url(#cellG)" opacity="0.41" transform="rotate(27 646.5 308.9)"/>
<ellipse cx="597.3" cy="294.0" rx="5.4" ry="2.8" fill="url(#cellG)" opacity="0.58" transform="rotate(-160 597.3 294.0)"/>
<ellipse cx="643.1" cy="319.3" rx="6.1" ry="3.0" fill="url(#cellG)" opacity="0.65" transform="rotate(66 643.1 319.3)"/>
<ellipse cx="603.3" cy="314.9" rx="5.8" ry="2.2" fill="url(#cellG)" opacity="0.32" transform="rotate(170 603.3 314.9)"/>
<ellipse cx="619.4" cy="275.7" rx="5.8" ry="2.1" fill="url(#cellG)" opacity="0.54" transform="rotate(-124 619.4 275.7)"/>
<ellipse cx="602.1" cy="277.7" rx="6.5" ry="2.9" fill="url(#cellG)" opacity="0.39" transform="rotate(-147 602.1 277.7)"/>
<ellipse cx="640.5" cy="314.8" rx="6.6" ry="2.7" fill="url(#cellG)" opacity="0.56" transform="rotate(64 640.5 314.8)"/>
<ellipse cx="627.4" cy="319.0" rx="5.8" ry="2.1" fill="url(#cellG)" opacity="0.75" transform="rotate(128 627.4 319.0)"/>
<ellipse cx="608.0" cy="310.4" rx="6.4" ry="2.4" fill="url(#cellG)" opacity="0.65" transform="rotate(161 608.0 310.4)"/>
<ellipse cx="646.0" cy="292.1" rx="6.0" ry="2.2" fill="url(#cellG)" opacity="0.76" transform="rotate(-49 646.0 292.1)"/>
<ellipse cx="591.4" cy="320.3" rx="5.2" ry="2.9" fill="url(#cellG)" opacity="0.36" transform="rotate(166 591.4 320.3)"/>
<ellipse cx="621.2" cy="267.0" rx="5.9" ry="2.9" fill="url(#cellG)" opacity="0.34" transform="rotate(-95 621.2 267.0)"/>
<ellipse cx="627.8" cy="263.6" rx="6.7" ry="3.0" fill="url(#cellG)" opacity="0.63" transform="rotate(-114 627.8 263.6)"/>
<ellipse cx="640.2" cy="310.2" rx="5.2" ry="2.5" fill="url(#cellG)" opacity="0.40" transform="rotate(44 640.2 310.2)"/>
<ellipse cx="618.7" cy="282.2" rx="5.6" ry="2.7" fill="url(#cellG)" opacity="0.51" transform="rotate(-125 618.7 282.2)"/>
<ellipse cx="616.0" cy="264.3" rx="6.7" ry="3.0" fill="url(#cellG)" opacity="0.57" transform="rotate(-115 616.0 264.3)"/>
<ellipse cx="593.0" cy="278.7" rx="7.1" ry="2.9" fill="url(#cellG)" opacity="0.77" transform="rotate(-153 593.0 278.7)"/>
<ellipse cx="646.4" cy="319.3" rx="7.8" ry="2.0" fill="url(#cellG)" opacity="0.54" transform="rotate(62 646.4 319.3)"/>
<ellipse cx="622.9" cy="303.8" rx="6.8" ry="2.9" fill="url(#cellG)" opacity="0.35" transform="rotate(-169 622.9 303.8)"/>
<ellipse cx="618.2" cy="321.6" rx="5.3" ry="2.9" fill="url(#cellG)" opacity="0.76" transform="rotate(122 618.2 321.6)"/>
<ellipse cx="585.8" cy="261.3" rx="7.1" ry="2.5" fill="url(#cellG)" opacity="0.58" transform="rotate(-128 585.8 261.3)"/>
<ellipse cx="633.8" cy="311.7" rx="5.2" ry="2.8" fill="url(#cellG)" opacity="0.77" transform="rotate(87 633.8 311.7)"/>
<ellipse cx="638.8" cy="285.7" rx="6.0" ry="2.0" fill="url(#cellG)" opacity="0.67" transform="rotate(-84 638.8 285.7)"/>
<ellipse cx="601.4" cy="297.3" rx="6.0" ry="2.7" fill="url(#cellG)" opacity="0.52" transform="rotate(-166 601.4 297.3)"/>
<ellipse cx="599.6" cy="316.5" rx="5.4" ry="2.3" fill="url(#cellG)" opacity="0.54" transform="rotate(153 599.6 316.5)"/>
<ellipse cx="635.5" cy="280.8" rx="7.0" ry="2.3" fill="url(#cellG)" opacity="0.56" transform="rotate(-97 635.5 280.8)"/>
<ellipse cx="600.9" cy="316.2" rx="5.7" ry="2.3" fill="url(#cellG)" opacity="0.47" transform="rotate(153 600.9 316.2)"/>
<ellipse cx="631.8" cy="303.0" rx="6.6" ry="2.1" fill="url(#cellG)" opacity="0.67" transform="rotate(-137 631.8 303.0)"/>
<ellipse cx="600.2" cy="273.4" rx="8.0" ry="2.4" fill="url(#cellG)" opacity="0.48" transform="rotate(-140 600.2 273.4)"/>
<ellipse cx="643.9" cy="323.6" rx="5.4" ry="2.8" fill="url(#cellG)" opacity="0.68" transform="rotate(61 643.9 323.6)"/>
<ellipse cx="606.3" cy="310.6" rx="5.9" ry="2.6" fill="url(#cellG)" opacity="0.66" transform="rotate(166 606.3 310.6)"/>
</g><g>
</g></g>
<rect x="649" y="263.2" width="57.5" height="57" fill="#04040f"/>
<g clip-path="url(#cg13)"><g filter="url(#gsoft)">
</g><g>
<circle cx="676.5" cy="308.6" r="1.2" fill="url(#nucB)" opacity="0.62"/>
<circle cx="677.7" cy="285.4" r="1.3" fill="url(#nucB)" opacity="0.62"/>
<circle cx="699.9" cy="272.8" r="1.4" fill="url(#nucB)" opacity="0.62"/>
<circle cx="698.0" cy="316.1" r="1.9" fill="url(#nucB)" opacity="0.62"/>
<circle cx="669.3" cy="314.5" r="1.3" fill="url(#nucB)" opacity="0.62"/>
<circle cx="689.2" cy="315.3" r="1.4" fill="url(#nucB)" opacity="0.62"/>
<circle cx="658.3" cy="301.1" r="1.9" fill="url(#nucB)" opacity="0.62"/>
<circle cx="689.9" cy="315.5" r="1.6" fill="url(#nucB)" opacity="0.62"/>
<circle cx="670.9" cy="271.6" r="1.4" fill="url(#nucB)" opacity="0.62"/>
<circle cx="701.2" cy="269.0" r="1.4" fill="url(#nucB)" opacity="0.62"/>
<circle cx="669.6" cy="267.8" r="1.5" fill="url(#nucB)" opacity="0.62"/>
<circle cx="660.8" cy="271.7" r="1.6" fill="url(#nucB)" opacity="0.62"/>
<circle cx="679.9" cy="295.3" r="1.8" fill="url(#nucB)" opacity="0.62"/>
<circle cx="679.2" cy="315.4" r="1.3" fill="url(#nucB)" opacity="0.62"/>
<circle cx="662.9" cy="269.3" r="1.5" fill="url(#nucB)" opacity="0.62"/>
<circle cx="691.7" cy="314.2" r="1.6" fill="url(#nucB)" opacity="0.62"/>
<circle cx="659.6" cy="282.7" r="1.7" fill="url(#nucB)" opacity="0.62"/>
<circle cx="666.8" cy="307.2" r="2.0" fill="url(#nucB)" opacity="0.62"/>
<circle cx="675.6" cy="297.2" r="1.9" fill="url(#nucB)" opacity="0.62"/>
<circle cx="675.9" cy="275.3" r="2.0" fill="url(#nucB)" opacity="0.62"/>
<circle cx="703.3" cy="266.5" r="1.8" fill="url(#nucB)" opacity="0.62"/>
<circle cx="672.4" cy="268.0" r="1.4" fill="url(#nucB)" opacity="0.62"/>
<circle cx="660.3" cy="304.2" r="1.4" fill="url(#nucB)" opacity="0.62"/>
<circle cx="652.0" cy="276.8" r="1.8" fill="url(#nucB)" opacity="0.62"/>
<circle cx="677.7" cy="299.8" r="1.6" fill="url(#nucB)" opacity="0.62"/>
<circle cx="660.8" cy="266.0" r="1.5" fill="url(#nucB)" opacity="0.62"/>
<circle cx="653.2" cy="279.0" r="1.7" fill="url(#nucB)" opacity="0.62"/>
<circle cx="670.8" cy="290.3" r="1.7" fill="url(#nucB)" opacity="0.62"/>
<circle cx="668.0" cy="284.1" r="1.9" fill="url(#nucB)" opacity="0.62"/>
<circle cx="682.1" cy="287.3" r="1.6" fill="url(#nucB)" opacity="0.62"/>
<circle cx="675.6" cy="282.8" r="1.9" fill="url(#nucB)" opacity="0.62"/>
<circle cx="663.5" cy="314.8" r="1.9" fill="url(#nucB)" opacity="0.62"/>
<circle cx="698.2" cy="273.8" r="1.6" fill="url(#nucB)" opacity="0.62"/>
<circle cx="703.7" cy="280.5" r="1.4" fill="url(#nucB)" opacity="0.62"/>
<circle cx="689.7" cy="277.7" r="1.7" fill="url(#nucB)" opacity="0.62"/>
<circle cx="659.4" cy="315.4" r="1.5" fill="url(#nucB)" opacity="0.62"/>
<circle cx="656.2" cy="301.6" r="1.5" fill="url(#nucB)" opacity="0.62"/>
<circle cx="680.9" cy="291.6" r="1.9" fill="url(#nucB)" opacity="0.62"/>
<circle cx="678.5" cy="285.3" r="1.2" fill="url(#nucB)" opacity="0.62"/>
<circle cx="677.6" cy="279.5" r="1.7" fill="url(#nucB)" opacity="0.62"/>
<circle cx="684.8" cy="289.7" r="1.3" fill="url(#nucB)" opacity="0.62"/>
<circle cx="677.6" cy="290.7" r="1.7" fill="url(#nucB)" opacity="0.62"/>
</g></g>
<rect x="709.7" y="263.2" width="57.5" height="57" fill="#061408"/>
<g clip-path="url(#cg23)"><g filter="url(#gsoft)">
<ellipse cx="732.8" cy="259.9" rx="7.5" ry="2.7" fill="url(#cellM)" opacity="0.65" transform="rotate(-128 732.8 259.9)"/>
<ellipse cx="716.0" cy="293.7" rx="5.3" ry="2.3" fill="url(#cellM)" opacity="0.76" transform="rotate(-178 716.0 293.7)"/>
<ellipse cx="747.8" cy="314.3" rx="6.2" ry="2.1" fill="url(#cellM)" opacity="0.43" transform="rotate(121 747.8 314.3)"/>
<ellipse cx="713.0" cy="318.9" rx="6.5" ry="2.7" fill="url(#cellM)" opacity="0.73" transform="rotate(158 713.0 318.9)"/>
<ellipse cx="767.7" cy="296.1" rx="7.7" ry="2.4" fill="url(#cellM)" opacity="0.45" transform="rotate(-40 767.7 296.1)"/>
<ellipse cx="754.1" cy="276.0" rx="6.3" ry="2.5" fill="url(#cellM)" opacity="0.48" transform="rotate(-99 754.1 276.0)"/>
<ellipse cx="733.9" cy="288.5" rx="7.5" ry="2.1" fill="url(#cellM)" opacity="0.56" transform="rotate(-157 733.9 288.5)"/>
<ellipse cx="741.6" cy="285.2" rx="5.3" ry="2.4" fill="url(#cellM)" opacity="0.46" transform="rotate(-135 741.6 285.2)"/>
<ellipse cx="737.4" cy="274.2" rx="6.5" ry="2.0" fill="url(#cellM)" opacity="0.50" transform="rotate(-114 737.4 274.2)"/>
<ellipse cx="769.0" cy="259.7" rx="7.9" ry="2.4" fill="url(#cellM)" opacity="0.59" transform="rotate(-72 769.0 259.7)"/>
<ellipse cx="729.9" cy="278.8" rx="6.8" ry="2.3" fill="url(#cellM)" opacity="0.54" transform="rotate(-132 729.9 278.8)"/>
<ellipse cx="739.5" cy="308.2" rx="5.3" ry="2.3" fill="url(#cellM)" opacity="0.44" transform="rotate(157 739.5 308.2)"/>
<ellipse cx="757.8" cy="286.9" rx="6.2" ry="2.3" fill="url(#cellM)" opacity="0.63" transform="rotate(-75 757.8 286.9)"/>
<ellipse cx="711.3" cy="323.2" rx="6.0" ry="2.3" fill="url(#cellM)" opacity="0.70" transform="rotate(168 711.3 323.2)"/>
<ellipse cx="757.3" cy="300.9" rx="7.3" ry="2.0" fill="url(#cellM)" opacity="0.60" transform="rotate(-94 757.3 300.9)"/>
<ellipse cx="741.9" cy="319.5" rx="5.1" ry="2.9" fill="url(#cellM)" opacity="0.66" transform="rotate(140 741.9 319.5)"/>
<ellipse cx="743.7" cy="259.6" rx="6.3" ry="2.7" fill="url(#cellM)" opacity="0.77" transform="rotate(-99 743.7 259.6)"/>
<ellipse cx="765.7" cy="264.1" rx="6.3" ry="2.8" fill="url(#cellM)" opacity="0.49" transform="rotate(-69 765.7 264.1)"/>
<ellipse cx="735.0" cy="287.6" rx="6.0" ry="2.7" fill="url(#cellM)" opacity="0.35" transform="rotate(-152 735.0 287.6)"/>
<ellipse cx="713.3" cy="313.4" rx="6.6" ry="2.1" fill="url(#cellM)" opacity="0.37" transform="rotate(174 713.3 313.4)"/>
<ellipse cx="726.0" cy="321.2" rx="7.8" ry="2.2" fill="url(#cellM)" opacity="0.51" transform="rotate(154 726.0 321.2)"/>
<ellipse cx="740.8" cy="313.8" rx="7.6" ry="2.5" fill="url(#cellM)" opacity="0.33" transform="rotate(141 740.8 313.8)"/>
<ellipse cx="734.0" cy="283.7" rx="7.8" ry="2.5" fill="url(#cellM)" opacity="0.63" transform="rotate(-131 734.0 283.7)"/>
<ellipse cx="731.1" cy="309.8" rx="7.2" ry="2.2" fill="url(#cellM)" opacity="0.59" transform="rotate(158 731.1 309.8)"/>
<ellipse cx="718.9" cy="281.7" rx="6.0" ry="2.6" fill="url(#cellM)" opacity="0.56" transform="rotate(-158 718.9 281.7)"/>
<ellipse cx="731.2" cy="296.5" rx="6.1" ry="2.6" fill="url(#cellM)" opacity="0.54" transform="rotate(-151 731.2 296.5)"/>
<ellipse cx="769.9" cy="280.5" rx="5.7" ry="2.3" fill="url(#cellM)" opacity="0.65" transform="rotate(-56 769.9 280.5)"/>
<ellipse cx="743.4" cy="275.9" rx="7.5" ry="2.4" fill="url(#cellM)" opacity="0.65" transform="rotate(-127 743.4 275.9)"/>
<ellipse cx="734.0" cy="299.3" rx="7.9" ry="2.9" fill="url(#cellM)" opacity="0.53" transform="rotate(-163 734.0 299.3)"/>
<ellipse cx="737.6" cy="274.2" rx="5.3" ry="2.3" fill="url(#cellM)" opacity="0.71" transform="rotate(-114 737.6 274.2)"/>
<ellipse cx="708.0" cy="304.6" rx="6.7" ry="2.3" fill="url(#cellM)" opacity="0.38" transform="rotate(-177 708.0 304.6)"/>
<ellipse cx="768.0" cy="308.9" rx="5.3" ry="2.8" fill="url(#cellM)" opacity="0.41" transform="rotate(27 768.0 308.9)"/>
<ellipse cx="718.8" cy="294.0" rx="5.4" ry="2.8" fill="url(#cellM)" opacity="0.58" transform="rotate(-160 718.8 294.0)"/>
<ellipse cx="764.6" cy="319.3" rx="6.1" ry="3.0" fill="url(#cellM)" opacity="0.65" transform="rotate(66 764.6 319.3)"/>
<ellipse cx="724.8" cy="314.9" rx="5.8" ry="2.2" fill="url(#cellM)" opacity="0.32" transform="rotate(170 724.8 314.9)"/>
<ellipse cx="740.9" cy="275.7" rx="5.8" ry="2.1" fill="url(#cellM)" opacity="0.54" transform="rotate(-124 740.9 275.7)"/>
<ellipse cx="723.6" cy="277.7" rx="6.5" ry="2.9" fill="url(#cellM)" opacity="0.39" transform="rotate(-147 723.6 277.7)"/>
<ellipse cx="762.0" cy="314.8" rx="6.6" ry="2.7" fill="url(#cellM)" opacity="0.56" transform="rotate(64 762.0 314.8)"/>
<ellipse cx="748.9" cy="319.0" rx="5.8" ry="2.1" fill="url(#cellM)" opacity="0.75" transform="rotate(128 748.9 319.0)"/>
<ellipse cx="729.5" cy="310.4" rx="6.4" ry="2.4" fill="url(#cellM)" opacity="0.65" transform="rotate(161 729.5 310.4)"/>
<ellipse cx="767.5" cy="292.1" rx="6.0" ry="2.2" fill="url(#cellM)" opacity="0.76" transform="rotate(-49 767.5 292.1)"/>
<ellipse cx="712.9" cy="320.3" rx="5.2" ry="2.9" fill="url(#cellM)" opacity="0.36" transform="rotate(166 712.9 320.3)"/>
<ellipse cx="742.7" cy="267.0" rx="5.9" ry="2.9" fill="url(#cellM)" opacity="0.34" transform="rotate(-95 742.7 267.0)"/>
<ellipse cx="749.3" cy="263.6" rx="6.7" ry="3.0" fill="url(#cellM)" opacity="0.63" transform="rotate(-114 749.3 263.6)"/>
<ellipse cx="761.7" cy="310.2" rx="5.2" ry="2.5" fill="url(#cellM)" opacity="0.40" transform="rotate(44 761.7 310.2)"/>
<ellipse cx="740.2" cy="282.2" rx="5.6" ry="2.7" fill="url(#cellM)" opacity="0.51" transform="rotate(-125 740.2 282.2)"/>
<ellipse cx="737.5" cy="264.3" rx="6.7" ry="3.0" fill="url(#cellM)" opacity="0.57" transform="rotate(-115 737.5 264.3)"/>
<ellipse cx="714.5" cy="278.7" rx="7.1" ry="2.9" fill="url(#cellM)" opacity="0.77" transform="rotate(-153 714.5 278.7)"/>
<ellipse cx="767.9" cy="319.3" rx="7.8" ry="2.0" fill="url(#cellM)" opacity="0.54" transform="rotate(62 767.9 319.3)"/>
<ellipse cx="744.4" cy="303.8" rx="6.8" ry="2.9" fill="url(#cellM)" opacity="0.35" transform="rotate(-169 744.4 303.8)"/>
<ellipse cx="739.7" cy="321.6" rx="5.3" ry="2.9" fill="url(#cellM)" opacity="0.76" transform="rotate(122 739.7 321.6)"/>
<ellipse cx="707.3" cy="261.3" rx="7.1" ry="2.5" fill="url(#cellM)" opacity="0.58" transform="rotate(-128 707.3 261.3)"/>
<ellipse cx="755.3" cy="311.7" rx="5.2" ry="2.8" fill="url(#cellM)" opacity="0.77" transform="rotate(87 755.3 311.7)"/>
<ellipse cx="760.3" cy="285.7" rx="6.0" ry="2.0" fill="url(#cellM)" opacity="0.67" transform="rotate(-84 760.3 285.7)"/>
<ellipse cx="722.9" cy="297.3" rx="6.0" ry="2.7" fill="url(#cellM)" opacity="0.52" transform="rotate(-166 722.9 297.3)"/>
<ellipse cx="721.1" cy="316.5" rx="5.4" ry="2.3" fill="url(#cellM)" opacity="0.54" transform="rotate(153 721.1 316.5)"/>
<ellipse cx="757.0" cy="280.8" rx="7.0" ry="2.3" fill="url(#cellM)" opacity="0.56" transform="rotate(-97 757.0 280.8)"/>
<ellipse cx="722.4" cy="316.2" rx="5.7" ry="2.3" fill="url(#cellM)" opacity="0.47" transform="rotate(153 722.4 316.2)"/>
<ellipse cx="753.3" cy="303.0" rx="6.6" ry="2.1" fill="url(#cellM)" opacity="0.67" transform="rotate(-137 753.3 303.0)"/>
<ellipse cx="721.7" cy="273.4" rx="8.0" ry="2.4" fill="url(#cellM)" opacity="0.48" transform="rotate(-140 721.7 273.4)"/>
<ellipse cx="765.4" cy="323.6" rx="5.4" ry="2.8" fill="url(#cellM)" opacity="0.68" transform="rotate(61 765.4 323.6)"/>
<ellipse cx="727.8" cy="310.6" rx="5.9" ry="2.6" fill="url(#cellM)" opacity="0.66" transform="rotate(166 727.8 310.6)"/>
</g><g>
<circle cx="737.2" cy="308.6" r="1.2" fill="url(#nucM)" opacity="0.62"/>
<circle cx="738.4" cy="285.4" r="1.3" fill="url(#nucM)" opacity="0.62"/>
<circle cx="760.6" cy="272.8" r="1.4" fill="url(#nucM)" opacity="0.62"/>
<circle cx="758.7" cy="316.1" r="1.9" fill="url(#nucM)" opacity="0.62"/>
<circle cx="730.0" cy="314.5" r="1.3" fill="url(#nucM)" opacity="0.62"/>
<circle cx="749.9" cy="315.3" r="1.4" fill="url(#nucM)" opacity="0.62"/>
<circle cx="719.0" cy="301.1" r="1.9" fill="url(#nucM)" opacity="0.62"/>
<circle cx="750.6" cy="315.5" r="1.6" fill="url(#nucM)" opacity="0.62"/>
<circle cx="731.6" cy="271.6" r="1.4" fill="url(#nucM)" opacity="0.62"/>
<circle cx="761.9" cy="269.0" r="1.4" fill="url(#nucM)" opacity="0.62"/>
<circle cx="730.3" cy="267.8" r="1.5" fill="url(#nucM)" opacity="0.62"/>
<circle cx="721.5" cy="271.7" r="1.6" fill="url(#nucM)" opacity="0.62"/>
<circle cx="740.6" cy="295.3" r="1.8" fill="url(#nucM)" opacity="0.62"/>
<circle cx="739.9" cy="315.4" r="1.3" fill="url(#nucM)" opacity="0.62"/>
<circle cx="723.6" cy="269.3" r="1.5" fill="url(#nucM)" opacity="0.62"/>
<circle cx="752.4" cy="314.2" r="1.6" fill="url(#nucM)" opacity="0.62"/>
<circle cx="720.3" cy="282.7" r="1.7" fill="url(#nucM)" opacity="0.62"/>
<circle cx="727.5" cy="307.2" r="2.0" fill="url(#nucM)" opacity="0.62"/>
<circle cx="736.3" cy="297.2" r="1.9" fill="url(#nucM)" opacity="0.62"/>
<circle cx="736.6" cy="275.3" r="2.0" fill="url(#nucM)" opacity="0.62"/>
<circle cx="764.0" cy="266.5" r="1.8" fill="url(#nucM)" opacity="0.62"/>
<circle cx="733.1" cy="268.0" r="1.4" fill="url(#nucM)" opacity="0.62"/>
<circle cx="721.0" cy="304.2" r="1.4" fill="url(#nucM)" opacity="0.62"/>
<circle cx="712.7" cy="276.8" r="1.8" fill="url(#nucM)" opacity="0.62"/>
<circle cx="738.4" cy="299.8" r="1.6" fill="url(#nucM)" opacity="0.62"/>
<circle cx="721.5" cy="266.0" r="1.5" fill="url(#nucM)" opacity="0.62"/>
<circle cx="713.9" cy="279.0" r="1.7" fill="url(#nucM)" opacity="0.62"/>
<circle cx="731.5" cy="290.3" r="1.7" fill="url(#nucM)" opacity="0.62"/>
<circle cx="728.7" cy="284.1" r="1.9" fill="url(#nucM)" opacity="0.62"/>
<circle cx="742.8" cy="287.3" r="1.6" fill="url(#nucM)" opacity="0.62"/>
<circle cx="736.3" cy="282.8" r="1.9" fill="url(#nucM)" opacity="0.62"/>
<circle cx="724.2" cy="314.8" r="1.9" fill="url(#nucM)" opacity="0.62"/>
<circle cx="758.9" cy="273.8" r="1.6" fill="url(#nucM)" opacity="0.62"/>
<circle cx="764.4" cy="280.5" r="1.4" fill="url(#nucM)" opacity="0.62"/>
<circle cx="750.4" cy="277.7" r="1.7" fill="url(#nucM)" opacity="0.62"/>
<circle cx="720.1" cy="315.4" r="1.5" fill="url(#nucM)" opacity="0.62"/>
<circle cx="716.9" cy="301.6" r="1.5" fill="url(#nucM)" opacity="0.62"/>
<circle cx="741.6" cy="291.6" r="1.9" fill="url(#nucM)" opacity="0.62"/>
<circle cx="739.2" cy="285.3" r="1.2" fill="url(#nucM)" opacity="0.62"/>
<circle cx="738.3" cy="279.5" r="1.7" fill="url(#nucM)" opacity="0.62"/>
<circle cx="745.5" cy="289.7" r="1.3" fill="url(#nucM)" opacity="0.62"/>
<circle cx="738.3" cy="290.7" r="1.7" fill="url(#nucM)" opacity="0.62"/>
</g></g>
<text x="617.0" y="75.4" font-size="11" text-anchor="middle" font-weight="normal" fill="#111" >ASIC1a</text>
<text x="677.8" y="75.4" font-size="11" text-anchor="middle" font-weight="normal" fill="#111" >DAPI</text>
<text x="738.5" y="75.4" font-size="11" text-anchor="middle" font-weight="normal" fill="#111" >Merge</text>
<text x="584.6" y="111.8" font-size="11" text-anchor="end" font-weight="normal" fill="#111" >NSF</text>
<text x="584.6" y="172.7" font-size="11" text-anchor="end" font-weight="normal" fill="#111" >RASF1</text>
<text x="584.6" y="233.9" font-size="11" text-anchor="end" font-weight="normal" fill="#111" >RASF2</text>
<text x="584.6" y="295.7" font-size="11" text-anchor="end" font-weight="normal" fill="#111" >RASF3</text>
<rect x="435.8" y="33.4" width="77.2" height="15.4" fill="url(#blotG)" stroke="#a8a8a8" stroke-width="0.9"/>
<rect x="439.7" y="40.8" width="15.0" height="3.0" rx="1.5" fill="#0c0c0c" opacity="0.9" filter="url(#bblur)"/>
<rect x="458.1" y="39.9" width="14.5" height="4.8" rx="2.4" fill="#0c0c0c" opacity="1" filter="url(#bblur)"/>
<rect x="476.0" y="39.7" width="15.0" height="4.6" rx="2.3" fill="#0c0c0c" opacity="1" filter="url(#bblur)"/>
<rect x="494.8" y="39.7" width="14.5" height="4.2" rx="2.1" fill="#0c0c0c" opacity="1" filter="url(#bblur)"/>
<rect x="435.8" y="51.3" width="77.2" height="15.0" fill="url(#blotG)" stroke="#a8a8a8" stroke-width="0.9"/>
<rect x="439.4" y="56.5" width="15.5" height="5.2" rx="2.6" fill="#0c0c0c" opacity="1" filter="url(#bblur)"/>
<rect x="457.6" y="56.5" width="15.5" height="5.2" rx="2.6" fill="#0c0c0c" opacity="1" filter="url(#bblur)"/>
<rect x="475.8" y="56.5" width="15.5" height="5.2" rx="2.6" fill="#0c0c0c" opacity="1" filter="url(#bblur)"/>
<rect x="494.2" y="56.5" width="15.5" height="5.2" rx="2.6" fill="#0c0c0c" opacity="1" filter="url(#bblur)"/>
<line x1="513" y1="35.1" x2="517.2" y2="35.1" stroke="#333" stroke-width="0.8"/>
<text x="517.8" y="38.0" font-size="9.4" text-anchor="start" font-weight="normal" fill="#111" >70 kD</text>
<line x1="513" y1="45.5" x2="517.2" y2="45.5" stroke="#333" stroke-width="0.8"/>
<text x="517.8" y="48.4" font-size="9.4" text-anchor="start" font-weight="normal" fill="#111" >55 kD</text>
<line x1="513" y1="62.3" x2="517.2" y2="62.3" stroke="#333" stroke-width="0.8"/>
<text x="517.8" y="65.2" font-size="9.4" text-anchor="start" font-weight="normal" fill="#111" >40 kD</text>
<text x="433.6" y="45.2" font-size="10.3" text-anchor="end" font-weight="normal" fill="#111" >ASIC1a</text>
<text x="433.6" y="61.6" font-size="10.3" text-anchor="end" font-weight="normal" fill="#111" >β-actin</text>
<text x="447.8" y="32" font-size="11" fill="#111" transform="rotate(-45 447.8 32)">NSF</text>
<text x="467.2" y="32" font-size="11" fill="#111" transform="rotate(-45 467.2 32)">RASF1</text>
<text x="483.7" y="32" font-size="11" fill="#111" transform="rotate(-45 483.7 32)">RASF2</text>
<text x="502.2" y="32" font-size="11" fill="#111" transform="rotate(-45 502.2 32)">RASF3</text>
<rect x="432.7" y="205.5" width="77.5" height="14.9" fill="url(#blotG)" stroke="#a8a8a8" stroke-width="0.9"/>
<rect x="437.3" y="212.2" width="14.0" height="2.8" rx="1.4" fill="#0c0c0c" opacity="0.9" filter="url(#bblur)"/>
<rect x="455.3" y="211.2" width="15.0" height="4.8" rx="2.4" fill="#0c0c0c" opacity="1" filter="url(#bblur)"/>
<rect x="473.2" y="211.3" width="15.0" height="4.6" rx="2.3" fill="#0c0c0c" opacity="1" filter="url(#bblur)"/>
<rect x="491.8" y="211.5" width="14.0" height="4.2" rx="2.1" fill="#0c0c0c" opacity="1" filter="url(#bblur)"/>
<rect x="432.7" y="223" width="77.5" height="14.4" fill="url(#blotG)" stroke="#a8a8a8" stroke-width="0.9"/>
<rect x="436.6" y="227.6" width="15.5" height="5.2" rx="2.6" fill="#0c0c0c" opacity="1" filter="url(#bblur)"/>
<rect x="455.1" y="227.6" width="15.5" height="5.2" rx="2.6" fill="#0c0c0c" opacity="1" filter="url(#bblur)"/>
<rect x="472.9" y="227.6" width="15.5" height="5.2" rx="2.6" fill="#0c0c0c" opacity="1" filter="url(#bblur)"/>
<rect x="491.1" y="227.6" width="15.5" height="5.2" rx="2.6" fill="#0c0c0c" opacity="1" filter="url(#bblur)"/>
<line x1="510.2" y1="206.5" x2="514.5" y2="206.5" stroke="#333" stroke-width="0.8"/>
<text x="515.3" y="209.4" font-size="9.2" text-anchor="start" font-weight="normal" fill="#111" >70 kD</text>
<line x1="510.2" y1="217.0" x2="514.5" y2="217.0" stroke="#333" stroke-width="0.8"/>
<text x="515.3" y="219.9" font-size="9.2" text-anchor="start" font-weight="normal" fill="#111" >55 kD</text>
<line x1="510.2" y1="225.9" x2="514.5" y2="225.9" stroke="#333" stroke-width="0.8"/>
<text x="515.3" y="228.8" font-size="9.2" text-anchor="start" font-weight="normal" fill="#111" >130 kD</text>
<line x1="510.2" y1="235.7" x2="514.5" y2="235.7" stroke="#333" stroke-width="0.8"/>
<text x="515.3" y="238.6" font-size="9.2" text-anchor="start" font-weight="normal" fill="#111" >100 kD</text>
<text x="429.7" y="216.5" font-size="10.3" text-anchor="end" font-weight="normal" fill="#111" >ASIC1a</text>
<text x="429.7" y="232.5" font-size="10.3" text-anchor="end" fill="#111">Na<tspan font-size="6.5" dy="-3.5">+</tspan><tspan dy="3.5">-K</tspan><tspan font-size="6.5" dy="-3.5">+</tspan><tspan dy="3.5"> ATPase</tspan></text>
<text x="443.8" y="203" font-size="11" fill="#111" transform="rotate(-45 443.8 203)">NSF</text>
<text x="462.3" y="203" font-size="11" fill="#111" transform="rotate(-45 462.3 203)">RASF1</text>
<text x="480.2" y="203" font-size="11" fill="#111" transform="rotate(-45 480.2 203)">RASF2</text>
<text x="498.3" y="203" font-size="11" fill="#111" transform="rotate(-45 498.3 203)">RASF3</text>
<path d="M39.3,450.5 L39.3,450.5 L39.7,450.5 L40.2,450.5 L40.6,450.5 L41.0,450.5 L41.5,450.5 L41.9,450.5 L42.3,450.5 L42.8,450.5 L43.2,450.5 L43.6,450.5 L44.1,450.5 L44.5,450.5 L45.0,450.5 L45.4,450.5 L45.8,450.4 L46.3,450.4 L46.7,450.3 L47.1,450.2 L47.6,450.0 L48.0,449.6 L48.4,449.1 L48.9,448.6 L49.3,447.5 L49.7,446.0 L50.2,444.0 L50.6,441.3 L51.0,438.4 L51.5,434.1 L51.9,430.1 L52.3,422.2 L52.8,414.8 L53.2,410.5 L53.7,399.8 L54.1,393.1 L54.5,385.3 L55.0,378.6 L55.4,371.3 L55.8,362.9 L56.3,366.9 L56.7,359.2 L57.1,356.9 L57.6,364.3 L58.0,358.7 L58.4,363.5 L58.9,368.3 L59.3,369.9 L59.7,375.9 L60.2,377.5 L60.6,386.3 L61.0,393.4 L61.5,395.1 L61.9,402.5 L62.4,407.0 L62.8,407.9 L63.2,416.3 L63.7,416.7 L64.1,423.9 L64.5,427.0 L65.0,428.8 L65.4,432.4 L65.8,434.8 L66.3,437.5 L66.7,440.0 L67.1,442.1 L67.6,443.6 L68.0,444.7 L68.4,445.7 L68.9,447.0 L69.3,447.4 L69.8,448.4 L70.2,448.6 L70.6,449.2 L71.1,449.5 L71.5,449.7 L71.9,449.9 L72.4,450.1 L72.8,450.2 L73.2,450.3 L73.7,450.3 L74.1,450.4 L74.5,450.4 L75.0,450.4 L75.4,450.5 L75.8,450.5 L76.3,450.5 L76.7,450.5 L77.1,450.5 L77.6,450.5 L78.0,450.5 L78.5,450.5 L78.9,450.5 L79.3,450.5 L79.8,450.5 L80.2,450.5 L80.6,450.5 L81.1,450.5 L81.5,450.5 L81.9,450.5 L82.4,450.5 L82.8,450.5 L83.2,450.5 L83.7,450.5 L84.1,450.5 L84.5,450.5 L85.0,450.5 L85.4,450.5 L85.8,450.5 L86.3,450.5 L86.7,450.5 L87.2,450.5 L87.6,450.5 L88.0,450.5 L88.5,450.5 L88.9,450.5 L89.3,450.5 L89.8,450.5 L90.2,450.5 L90.6,450.5 L91.1,450.5 L91.5,450.5 L91.9,450.5 L92.4,450.5 L92.8,450.5 L93.2,450.5 L93.7,450.5 L94.1,450.5 L94.5,450.5 L95.0,450.5 L95.4,450.5 L95.8,450.5 L96.3,450.5 L96.7,450.5 L97.2,450.5 L97.6,450.5 L98.0,450.5 L98.5,450.5 L98.9,450.5 L99.3,450.5 L99.8,450.5 L100.2,450.5 L100.6,450.5 L101.1,450.5 L101.5,450.5 L101.9,450.5 L102.4,450.5 L102.8,450.5 L103.2,450.5 L103.7,450.5 L104.1,450.5 L104.5,450.5 L105.0,450.5 L105.4,450.5 L105.9,450.5 L106.3,450.5 L106.7,450.5 L107.2,450.5 L107.6,450.5 L108.0,450.5 L108.5,450.5 L108.9,450.5 L109.3,450.5 L109.8,450.5 L110.2,450.5 L110.6,450.5 L111.1,450.5 L111.5,450.5 L111.9,450.5 L112.4,450.5 L112.8,450.5 L113.2,450.5 L113.7,450.5 L114.1,450.5 L114.6,450.5 L115.0,450.5 L115.4,450.5 L115.9,450.5 L116.3,450.5 L116.7,450.5 L117.2,450.5 L117.6,450.5 L118.0,450.5 L118.5,450.5 L118.9,450.5 L119.3,450.5 L119.8,450.5 L120.2,450.5 L120.6,450.5 L121.1,450.5 L121.5,450.5 L122.0,450.5 L122.4,450.5 L122.8,450.5 L123.3,450.5 L123.7,450.5 L124.1,450.5 L124.6,450.5 L125.0,450.5 L125.4,450.5 L125.9,450.5 L126.3,450.5 L126.7,450.5 L127.2,450.5 L127.6,450.5 L128.0,450.5 L128.5,450.5 L128.9,450.5 L129.3,450.5 L129.8,450.5 L130.2,450.5 L130.7,450.5 L131.1,450.5 L131.5,450.5 L132.0,450.5 L132.4,450.5 L132.8,450.5 L133.3,450.5 L133.7,450.5 L134.1,450.5 L134.6,450.5 L135.0,450.5 L135.0,450.5 Z" fill="#e51d24" stroke="none"/>
<path d="M39.3,450.5 L39.7,450.5 L40.2,450.5 L40.6,450.5 L41.0,450.5 L41.5,450.5 L41.9,450.5 L42.3,450.5 L42.8,450.5 L43.2,450.5 L43.6,450.5 L44.1,450.5 L44.5,450.5 L45.0,450.5 L45.4,450.5 L45.8,450.4 L46.3,450.4 L46.7,450.3 L47.1,450.2 L47.6,450.0 L48.0,449.6 L48.4,449.1 L48.9,448.6 L49.3,447.5 L49.7,446.0 L50.2,444.0 L50.6,441.3 L51.0,438.4 L51.5,434.1 L51.9,430.1 L52.3,422.2 L52.8,414.8 L53.2,410.5 L53.7,399.8 L54.1,393.1 L54.5,385.3 L55.0,378.6 L55.4,371.3 L55.8,362.9 L56.3,366.9 L56.7,359.2 L57.1,356.9 L57.6,364.3 L58.0,358.7 L58.4,363.5 L58.9,368.3 L59.3,369.9 L59.7,375.9 L60.2,377.5 L60.6,386.3 L61.0,393.4 L61.5,395.1 L61.9,402.5 L62.4,407.0 L62.8,407.9 L63.2,416.3 L63.7,416.7 L64.1,423.9 L64.5,427.0 L65.0,428.8 L65.4,432.4 L65.8,434.8 L66.3,437.5 L66.7,440.0 L67.1,442.1 L67.6,443.6 L68.0,444.7 L68.4,445.7 L68.9,447.0 L69.3,447.4 L69.8,448.4 L70.2,448.6 L70.6,449.2 L71.1,449.5 L71.5,449.7 L71.9,449.9 L72.4,450.1 L72.8,450.2 L73.2,450.3 L73.7,450.3 L74.1,450.4 L74.5,450.4 L75.0,450.4 L75.4,450.5 L75.8,450.5 L76.3,450.5 L76.7,450.5 L77.1,450.5 L77.6,450.5 L78.0,450.5 L78.5,450.5 L78.9,450.5 L79.3,450.5 L79.8,450.5 L80.2,450.5 L80.6,450.5 L81.1,450.5 L81.5,450.5 L81.9,450.5 L82.4,450.5 L82.8,450.5 L83.2,450.5 L83.7,450.5 L84.1,450.5 L84.5,450.5 L85.0,450.5 L85.4,450.5 L85.8,450.5 L86.3,450.5 L86.7,450.5 L87.2,450.5 L87.6,450.5 L88.0,450.5 L88.5,450.5 L88.9,450.5 L89.3,450.5 L89.8,450.5 L90.2,450.5 L90.6,450.5 L91.1,450.5 L91.5,450.5 L91.9,450.5 L92.4,450.5 L92.8,450.5 L93.2,450.5 L93.7,450.5 L94.1,450.5 L94.5,450.5 L95.0,450.5 L95.4,450.5 L95.8,450.5 L96.3,450.5 L96.7,450.5 L97.2,450.5 L97.6,450.5 L98.0,450.5 L98.5,450.5 L98.9,450.5 L99.3,450.5 L99.8,450.5 L100.2,450.5 L100.6,450.5 L101.1,450.5 L101.5,450.5 L101.9,450.5 L102.4,450.5 L102.8,450.5 L103.2,450.5 L103.7,450.5 L104.1,450.5 L104.5,450.5 L105.0,450.5 L105.4,450.5 L105.9,450.5 L106.3,450.5 L106.7,450.5 L107.2,450.5 L107.6,450.5 L108.0,450.5 L108.5,450.5 L108.9,450.5 L109.3,450.5 L109.8,450.5 L110.2,450.5 L110.6,450.5 L111.1,450.5 L111.5,450.5 L111.9,450.5 L112.4,450.5 L112.8,450.5 L113.2,450.5 L113.7,450.5 L114.1,450.5 L114.6,450.5 L115.0,450.5 L115.4,450.5 L115.9,450.5 L116.3,450.5 L116.7,450.5 L117.2,450.5 L117.6,450.5 L118.0,450.5 L118.5,450.5 L118.9,450.5 L119.3,450.5 L119.8,450.5 L120.2,450.5 L120.6,450.5 L121.1,450.5 L121.5,450.5 L122.0,450.5 L122.4,450.5 L122.8,450.5 L123.3,450.5 L123.7,450.5 L124.1,450.5 L124.6,450.5 L125.0,450.5 L125.4,450.5 L125.9,450.5 L126.3,450.5 L126.7,450.5 L127.2,450.5 L127.6,450.5 L128.0,450.5 L128.5,450.5 L128.9,450.5 L129.3,450.5 L129.8,450.5 L130.2,450.5 L130.7,450.5 L131.1,450.5 L131.5,450.5 L132.0,450.5 L132.4,450.5 L132.8,450.5 L133.3,450.5 L133.7,450.5 L134.1,450.5 L134.6,450.5 L135.0,450.5" fill="none" stroke="#111" stroke-width="0.9" stroke-opacity="0.9"/>
<rect x="39.3" y="354.3" width="95.7" height="96.2" fill="none" stroke="#8a8a8a" stroke-width="0.9"/>
<line x1="39.3" y1="450.5" x2="135.0" y2="450.5" stroke="#555" stroke-width="1"/>
<line x1="39.3" y1="354.3" x2="39.3" y2="450.5" stroke="#777" stroke-width="0.9"/>
<line x1="37.3" y1="450.5" x2="39.3" y2="450.5" stroke="#444" stroke-width="0.8"/>
<text x="36.7" y="453.1" font-size="7.3" text-anchor="end" font-weight="normal" fill="#111" stroke="#111" stroke-width="0.2">0</text>
<line x1="37.3" y1="421.9" x2="39.3" y2="421.9" stroke="#444" stroke-width="0.8"/>
<text x="36.7" y="424.5" font-size="7.3" text-anchor="end" font-weight="normal" fill="#111" stroke="#111" stroke-width="0.2">20</text>
<line x1="37.3" y1="393.2" x2="39.3" y2="393.2" stroke="#444" stroke-width="0.8"/>
<text x="36.7" y="395.8" font-size="7.3" text-anchor="end" font-weight="normal" fill="#111" stroke="#111" stroke-width="0.2">40</text>
<line x1="37.3" y1="364.6" x2="39.3" y2="364.6" stroke="#444" stroke-width="0.8"/>
<text x="36.7" y="367.2" font-size="7.3" text-anchor="end" font-weight="normal" fill="#111" stroke="#111" stroke-width="0.2">60</text>
<line x1="63.2" y1="450.5" x2="63.2" y2="452.5" stroke="#444" stroke-width="0.8"/>
<text x="62.2" y="461.0" font-size="7.3" text-anchor="middle" fill="#111" stroke="#111" stroke-width="0.2">10<tspan font-size="5" dy="-3">0</tspan></text>
<line x1="87.2" y1="450.5" x2="87.2" y2="452.5" stroke="#444" stroke-width="0.8"/>
<text x="86.2" y="461.0" font-size="7.3" text-anchor="middle" fill="#111" stroke="#111" stroke-width="0.2">10<tspan font-size="5" dy="-3">1</tspan></text>
<line x1="111.1" y1="450.5" x2="111.1" y2="452.5" stroke="#444" stroke-width="0.8"/>
<text x="110.1" y="461.0" font-size="7.3" text-anchor="middle" fill="#111" stroke="#111" stroke-width="0.2">10<tspan font-size="5" dy="-3">2</tspan></text>
<line x1="135.0" y1="450.5" x2="135.0" y2="452.5" stroke="#444" stroke-width="0.8"/>
<text x="134.0" y="461.0" font-size="7.3" text-anchor="middle" fill="#111" stroke="#111" stroke-width="0.2">10<tspan font-size="5" dy="-3">3</tspan></text>
<text x="17.5" y="402.4" font-size="11.5" text-anchor="middle" fill="#111" stroke="#111" stroke-width="0.3" transform="rotate(-90 17.5 402.4)" textLength="27" lengthAdjust="spacingAndGlyphs">Count</text>
<text x="87.2" y="474.8" font-size="11" text-anchor="middle" fill="#111" stroke="#111" stroke-width="0.3" textLength="83.4" lengthAdjust="spacingAndGlyphs">NSF-CD55-control</text>
<line x1="86.5" y1="387.3" x2="133.5" y2="387.3" stroke="#777" stroke-width="1"/>
<line x1="86.5" y1="385.3" x2="86.5" y2="389.3" stroke="#777" stroke-width="0.8"/>
<line x1="133.5" y1="385.3" x2="133.5" y2="389.3" stroke="#777" stroke-width="0.8"/>
<rect x="89.6" y="390.8" width="38.6" height="10.2" fill="#fff" fill-opacity="0.55" stroke="#ccc" stroke-width="0.6"/>
<text x="108.9" y="399.0" font-size="8.7" text-anchor="middle" font-weight="normal" fill="#111" stroke="#111" stroke-width="0.2">B: 0.19%</text>
<path d="M180.5,450.4 L180.5,450.4 L180.9,450.4 L181.4,450.4 L181.8,450.4 L182.2,450.4 L182.7,450.4 L183.1,450.4 L183.5,450.4 L184.0,450.4 L184.4,450.4 L184.8,450.4 L185.3,450.4 L185.7,450.4 L186.1,450.4 L186.6,450.4 L187.0,450.4 L187.4,450.4 L187.9,450.4 L188.3,450.4 L188.7,450.4 L189.2,450.4 L189.6,450.4 L190.1,450.4 L190.5,450.4 L190.9,450.4 L191.4,450.4 L191.8,450.4 L192.2,450.4 L192.7,450.4 L193.1,450.4 L193.5,450.4 L194.0,450.4 L194.4,450.4 L194.8,450.4 L195.3,450.4 L195.7,450.4 L196.1,450.4 L196.6,450.4 L197.0,450.4 L197.4,450.4 L197.9,450.4 L198.3,450.4 L198.7,450.4 L199.2,450.4 L199.6,450.4 L200.0,450.4 L200.5,450.4 L200.9,450.4 L201.3,450.4 L201.8,450.4 L202.2,450.4 L202.6,450.4 L203.1,450.4 L203.5,450.4 L203.9,450.4 L204.4,450.4 L204.8,450.4 L205.2,450.4 L205.7,450.4 L206.1,450.4 L206.5,450.4 L207.0,450.4 L207.4,450.4 L207.8,450.4 L208.3,450.4 L208.7,450.4 L209.2,450.4 L209.6,450.4 L210.0,450.4 L210.5,450.4 L210.9,450.4 L211.3,450.4 L211.8,450.4 L212.2,450.4 L212.6,450.4 L213.1,450.3 L213.5,450.3 L213.9,450.3 L214.4,450.3 L214.8,450.3 L215.2,450.3 L215.7,450.3 L216.1,450.3 L216.5,450.3 L217.0,450.2 L217.4,450.2 L217.8,450.2 L218.3,450.2 L218.7,450.2 L219.1,450.1 L219.6,450.1 L220.0,450.1 L220.4,450.0 L220.9,450.0 L221.3,450.0 L221.7,449.9 L222.2,449.9 L222.6,449.8 L223.0,449.8 L223.5,449.8 L223.9,449.7 L224.3,449.6 L224.8,449.6 L225.2,449.6 L225.6,449.4 L226.1,449.4 L226.5,449.4 L226.9,449.3 L227.4,449.2 L227.8,449.2 L228.2,449.1 L228.7,449.0 L229.1,449.1 L229.6,449.0 L230.0,449.0 L230.4,448.8 L230.9,448.8 L231.3,448.8 L231.7,448.6 L232.2,448.6 L232.6,448.6 L233.0,448.5 L233.5,448.6 L233.9,448.6 L234.3,448.6 L234.8,448.6 L235.2,448.5 L235.6,448.6 L236.1,448.4 L236.5,448.3 L236.9,448.4 L237.4,448.2 L237.8,448.0 L238.2,447.9 L238.7,447.5 L239.1,447.3 L239.5,446.8 L240.0,445.9 L240.4,444.9 L240.8,443.7 L241.3,442.6 L241.7,440.3 L242.1,438.1 L242.6,435.2 L243.0,432.5 L243.4,428.4 L243.9,423.7 L244.3,418.8 L244.7,416.5 L245.2,409.1 L245.6,405.9 L246.0,395.5 L246.5,389.0 L246.9,381.9 L247.3,379.1 L247.8,371.4 L248.2,372.4 L248.7,370.4 L249.1,367.8 L249.5,360.6 L250.0,364.1 L250.4,358.4 L250.8,363.0 L251.3,363.2 L251.7,362.0 L252.1,370.6 L252.6,370.7 L253.0,367.9 L253.4,373.6 L253.9,379.7 L254.3,380.6 L254.7,383.5 L255.2,390.1 L255.6,394.6 L256.0,394.8 L256.5,398.9 L256.9,404.4 L257.3,410.5 L257.8,414.7 L258.2,415.3 L258.6,417.6 L259.1,422.2 L259.5,426.2 L259.9,427.5 L260.4,430.5 L260.8,432.4 L261.2,434.8 L261.7,437.2 L262.1,438.9 L262.5,441.0 L263.0,441.6 L263.4,443.2 L263.8,444.1 L264.3,445.4 L264.7,446.2 L265.1,446.7 L265.6,447.6 L266.0,447.9 L266.4,448.3 L266.9,448.8 L267.3,449.0 L267.8,449.4 L268.2,449.6 L268.6,449.7 L269.1,449.8 L269.5,450.0 L269.9,450.1 L270.4,450.1 L270.8,450.2 L271.2,450.2 L271.7,450.3 L272.1,450.3 L272.5,450.3 L273.0,450.3 L273.4,450.4 L273.8,450.4 L274.3,450.4 L274.7,450.4 L275.1,450.4 L275.6,450.4 L276.0,450.4 L276.0,450.4 Z" fill="#1fa843" stroke="none"/>
<path d="M180.5,450.4 L180.9,450.4 L181.4,450.4 L181.8,450.4 L182.2,450.4 L182.7,450.4 L183.1,450.4 L183.5,450.4 L184.0,450.4 L184.4,450.4 L184.8,450.4 L185.3,450.4 L185.7,450.4 L186.1,450.4 L186.6,450.4 L187.0,450.4 L187.4,450.4 L187.9,450.4 L188.3,450.4 L188.7,450.4 L189.2,450.4 L189.6,450.4 L190.1,450.4 L190.5,450.4 L190.9,450.4 L191.4,450.4 L191.8,450.4 L192.2,450.4 L192.7,450.4 L193.1,450.4 L193.5,450.4 L194.0,450.4 L194.4,450.4 L194.8,450.4 L195.3,450.4 L195.7,450.4 L196.1,450.4 L196.6,450.4 L197.0,450.4 L197.4,450.4 L197.9,450.4 L198.3,450.4 L198.7,450.4 L199.2,450.4 L199.6,450.4 L200.0,450.4 L200.5,450.4 L200.9,450.4 L201.3,450.4 L201.8,450.4 L202.2,450.4 L202.6,450.4 L203.1,450.4 L203.5,450.4 L203.9,450.4 L204.4,450.4 L204.8,450.4 L205.2,450.4 L205.7,450.4 L206.1,450.4 L206.5,450.4 L207.0,450.4 L207.4,450.4 L207.8,450.4 L208.3,450.4 L208.7,450.4 L209.2,450.4 L209.6,450.4 L210.0,450.4 L210.5,450.4 L210.9,450.4 L211.3,450.4 L211.8,450.4 L212.2,450.4 L212.6,450.4 L213.1,450.3 L213.5,450.3 L213.9,450.3 L214.4,450.3 L214.8,450.3 L215.2,450.3 L215.7,450.3 L216.1,450.3 L216.5,450.3 L217.0,450.2 L217.4,450.2 L217.8,450.2 L218.3,450.2 L218.7,450.2 L219.1,450.1 L219.6,450.1 L220.0,450.1 L220.4,450.0 L220.9,450.0 L221.3,450.0 L221.7,449.9 L222.2,449.9 L222.6,449.8 L223.0,449.8 L223.5,449.8 L223.9,449.7 L224.3,449.6 L224.8,449.6 L225.2,449.6 L225.6,449.4 L226.1,449.4 L226.5,449.4 L226.9,449.3 L227.4,449.2 L227.8,449.2 L228.2,449.1 L228.7,449.0 L229.1,449.1 L229.6,449.0 L230.0,449.0 L230.4,448.8 L230.9,448.8 L231.3,448.8 L231.7,448.6 L232.2,448.6 L232.6,448.6 L233.0,448.5 L233.5,448.6 L233.9,448.6 L234.3,448.6 L234.8,448.6 L235.2,448.5 L235.6,448.6 L236.1,448.4 L236.5,448.3 L236.9,448.4 L237.4,448.2 L237.8,448.0 L238.2,447.9 L238.7,447.5 L239.1,447.3 L239.5,446.8 L240.0,445.9 L240.4,444.9 L240.8,443.7 L241.3,442.6 L241.7,440.3 L242.1,438.1 L242.6,435.2 L243.0,432.5 L243.4,428.4 L243.9,423.7 L244.3,418.8 L244.7,416.5 L245.2,409.1 L245.6,405.9 L246.0,395.5 L246.5,389.0 L246.9,381.9 L247.3,379.1 L247.8,371.4 L248.2,372.4 L248.7,370.4 L249.1,367.8 L249.5,360.6 L250.0,364.1 L250.4,358.4 L250.8,363.0 L251.3,363.2 L251.7,362.0 L252.1,370.6 L252.6,370.7 L253.0,367.9 L253.4,373.6 L253.9,379.7 L254.3,380.6 L254.7,383.5 L255.2,390.1 L255.6,394.6 L256.0,394.8 L256.5,398.9 L256.9,404.4 L257.3,410.5 L257.8,414.7 L258.2,415.3 L258.6,417.6 L259.1,422.2 L259.5,426.2 L259.9,427.5 L260.4,430.5 L260.8,432.4 L261.2,434.8 L261.7,437.2 L262.1,438.9 L262.5,441.0 L263.0,441.6 L263.4,443.2 L263.8,444.1 L264.3,445.4 L264.7,446.2 L265.1,446.7 L265.6,447.6 L266.0,447.9 L266.4,448.3 L266.9,448.8 L267.3,449.0 L267.8,449.4 L268.2,449.6 L268.6,449.7 L269.1,449.8 L269.5,450.0 L269.9,450.1 L270.4,450.1 L270.8,450.2 L271.2,450.2 L271.7,450.3 L272.1,450.3 L272.5,450.3 L273.0,450.3 L273.4,450.4 L273.8,450.4 L274.3,450.4 L274.7,450.4 L275.1,450.4 L275.6,450.4 L276.0,450.4" fill="none" stroke="#111" stroke-width="0.9" stroke-opacity="0.9"/>
<rect x="180.5" y="354.5" width="95.5" height="95.9" fill="none" stroke="#8a8a8a" stroke-width="0.9"/>
<line x1="180.5" y1="450.4" x2="276.0" y2="450.4" stroke="#555" stroke-width="1"/>
<line x1="180.5" y1="354.5" x2="180.5" y2="450.4" stroke="#777" stroke-width="0.9"/>
<line x1="178.5" y1="450.4" x2="180.5" y2="450.4" stroke="#444" stroke-width="0.8"/>
<text x="177.9" y="453.0" font-size="7.3" text-anchor="end" font-weight="normal" fill="#111" stroke="#111" stroke-width="0.2">0</text>
<line x1="178.5" y1="419.8" x2="180.5" y2="419.8" stroke="#444" stroke-width="0.8"/>
<text x="177.9" y="422.4" font-size="7.3" text-anchor="end" font-weight="normal" fill="#111" stroke="#111" stroke-width="0.2">20</text>
<line x1="178.5" y1="389.2" x2="180.5" y2="389.2" stroke="#444" stroke-width="0.8"/>
<text x="177.9" y="391.8" font-size="7.3" text-anchor="end" font-weight="normal" fill="#111" stroke="#111" stroke-width="0.2">40</text>
<line x1="178.5" y1="358.6" x2="180.5" y2="358.6" stroke="#444" stroke-width="0.8"/>
<text x="177.9" y="361.2" font-size="7.3" text-anchor="end" font-weight="normal" fill="#111" stroke="#111" stroke-width="0.2">60</text>
<line x1="204.4" y1="450.4" x2="204.4" y2="452.4" stroke="#444" stroke-width="0.8"/>
<text x="203.4" y="460.9" font-size="7.3" text-anchor="middle" fill="#111" stroke="#111" stroke-width="0.2">10<tspan font-size="5" dy="-3">0</tspan></text>
<line x1="228.2" y1="450.4" x2="228.2" y2="452.4" stroke="#444" stroke-width="0.8"/>
<text x="227.2" y="460.9" font-size="7.3" text-anchor="middle" fill="#111" stroke="#111" stroke-width="0.2">10<tspan font-size="5" dy="-3">1</tspan></text>
<line x1="252.1" y1="450.4" x2="252.1" y2="452.4" stroke="#444" stroke-width="0.8"/>
<text x="251.1" y="460.9" font-size="7.3" text-anchor="middle" fill="#111" stroke="#111" stroke-width="0.2">10<tspan font-size="5" dy="-3">2</tspan></text>
<line x1="276.0" y1="450.4" x2="276.0" y2="452.4" stroke="#444" stroke-width="0.8"/>
<text x="275.0" y="460.9" font-size="7.3" text-anchor="middle" fill="#111" stroke="#111" stroke-width="0.2">10<tspan font-size="5" dy="-3">3</tspan></text>
<text x="158.7" y="402.4" font-size="11.5" text-anchor="middle" fill="#111" stroke="#111" stroke-width="0.3" transform="rotate(-90 158.7 402.4)" textLength="27" lengthAdjust="spacingAndGlyphs">Count</text>
<text x="228.2" y="474.7" font-size="11" text-anchor="middle" fill="#111" stroke="#111" stroke-width="0.3" textLength="44.6" lengthAdjust="spacingAndGlyphs">NSF-CD55</text>
<line x1="227" y1="387" x2="274" y2="387" stroke="#777" stroke-width="1"/>
<line x1="227" y1="385" x2="227" y2="389" stroke="#777" stroke-width="0.8"/>
<line x1="274" y1="385" x2="274" y2="389" stroke="#777" stroke-width="0.8"/>
<rect x="228.8" y="392" width="42.2" height="10.0" fill="#fff" fill-opacity="0.55" stroke="#ccc" stroke-width="0.6"/>
<text x="249.9" y="400.0" font-size="8.7" text-anchor="middle" font-weight="normal" fill="#111" stroke="#111" stroke-width="0.2">B: 99.28%</text>
<path d="M39.3,575.0 L39.3,575.0 L39.7,575.0 L40.2,575.0 L40.6,575.0 L41.0,575.0 L41.5,575.0 L41.9,575.0 L42.3,575.0 L42.8,575.0 L43.2,575.0 L43.6,575.0 L44.1,575.0 L44.5,575.0 L45.0,575.0 L45.4,575.0 L45.8,575.0 L46.3,575.0 L46.7,575.0 L47.1,575.0 L47.6,575.0 L48.0,575.0 L48.4,575.0 L48.9,575.0 L49.3,575.0 L49.7,575.0 L50.2,575.0 L50.6,575.0 L51.0,575.0 L51.5,575.0 L51.9,575.0 L52.3,575.0 L52.8,575.0 L53.2,575.0 L53.7,575.0 L54.1,575.0 L54.5,575.0 L55.0,575.0 L55.4,575.0 L55.8,574.9 L56.3,574.8 L56.7,574.7 L57.1,574.5 L57.6,574.2 L58.0,573.6 L58.4,573.0 L58.9,571.8 L59.3,570.2 L59.7,567.5 L60.2,565.1 L60.6,560.2 L61.0,556.4 L61.5,548.8 L61.9,541.4 L62.4,534.5 L62.8,527.6 L63.2,516.9 L63.7,509.4 L64.1,500.4 L64.5,494.8 L65.0,484.4 L65.4,486.7 L65.8,489.7 L66.3,490.6 L66.7,494.8 L67.1,496.7 L67.6,495.5 L68.0,505.9 L68.4,510.1 L68.9,520.1 L69.3,523.9 L69.8,530.5 L70.2,538.0 L70.6,541.6 L71.1,547.0 L71.5,552.4 L71.9,555.2 L72.4,559.2 L72.8,563.8 L73.2,565.4 L73.7,568.0 L74.1,569.4 L74.5,571.1 L75.0,572.0 L75.4,573.0 L75.8,573.5 L76.3,574.0 L76.7,574.3 L77.1,574.5 L77.6,574.7 L78.0,574.8 L78.5,574.9 L78.9,574.9 L79.3,574.9 L79.8,575.0 L80.2,575.0 L80.6,575.0 L81.1,575.0 L81.5,575.0 L81.9,575.0 L82.4,575.0 L82.8,575.0 L83.2,575.0 L83.7,575.0 L84.1,575.0 L84.5,575.0 L85.0,575.0 L85.4,575.0 L85.8,575.0 L86.3,575.0 L86.7,575.0 L87.2,575.0 L87.6,575.0 L88.0,575.0 L88.5,575.0 L88.9,575.0 L89.3,575.0 L89.8,575.0 L90.2,575.0 L90.6,575.0 L91.1,575.0 L91.5,575.0 L91.9,575.0 L92.4,575.0 L92.8,575.0 L93.2,575.0 L93.7,575.0 L94.1,575.0 L94.5,575.0 L95.0,575.0 L95.4,575.0 L95.8,575.0 L96.3,575.0 L96.7,575.0 L97.2,575.0 L97.6,575.0 L98.0,575.0 L98.5,575.0 L98.9,575.0 L99.3,575.0 L99.8,575.0 L100.2,575.0 L100.6,575.0 L101.1,575.0 L101.5,575.0 L101.9,575.0 L102.4,575.0 L102.8,575.0 L103.2,575.0 L103.7,575.0 L104.1,575.0 L104.5,575.0 L105.0,575.0 L105.4,575.0 L105.9,575.0 L106.3,575.0 L106.7,575.0 L107.2,575.0 L107.6,575.0 L108.0,575.0 L108.5,575.0 L108.9,575.0 L109.3,575.0 L109.8,575.0 L110.2,575.0 L110.6,575.0 L111.1,575.0 L111.5,575.0 L111.9,575.0 L112.4,575.0 L112.8,575.0 L113.2,575.0 L113.7,575.0 L114.1,575.0 L114.6,575.0 L115.0,575.0 L115.4,575.0 L115.9,575.0 L116.3,575.0 L116.7,575.0 L117.2,575.0 L117.6,575.0 L118.0,575.0 L118.5,575.0 L118.9,575.0 L119.3,575.0 L119.8,575.0 L120.2,575.0 L120.6,575.0 L121.1,575.0 L121.5,575.0 L122.0,575.0 L122.4,575.0 L122.8,575.0 L123.3,575.0 L123.7,575.0 L124.1,575.0 L124.6,575.0 L125.0,575.0 L125.4,575.0 L125.9,575.0 L126.3,575.0 L126.7,575.0 L127.2,575.0 L127.6,575.0 L128.0,575.0 L128.5,575.0 L128.9,575.0 L129.3,575.0 L129.8,575.0 L130.2,575.0 L130.7,575.0 L131.1,575.0 L131.5,575.0 L132.0,575.0 L132.4,575.0 L132.8,575.0 L133.3,575.0 L133.7,575.0 L134.1,575.0 L134.6,575.0 L135.0,575.0 L135.0,575.0 Z" fill="#e51d24" stroke="none"/>
<path d="M39.3,575.0 L39.7,575.0 L40.2,575.0 L40.6,575.0 L41.0,575.0 L41.5,575.0 L41.9,575.0 L42.3,575.0 L42.8,575.0 L43.2,575.0 L43.6,575.0 L44.1,575.0 L44.5,575.0 L45.0,575.0 L45.4,575.0 L45.8,575.0 L46.3,575.0 L46.7,575.0 L47.1,575.0 L47.6,575.0 L48.0,575.0 L48.4,575.0 L48.9,575.0 L49.3,575.0 L49.7,575.0 L50.2,575.0 L50.6,575.0 L51.0,575.0 L51.5,575.0 L51.9,575.0 L52.3,575.0 L52.8,575.0 L53.2,575.0 L53.7,575.0 L54.1,575.0 L54.5,575.0 L55.0,575.0 L55.4,575.0 L55.8,574.9 L56.3,574.8 L56.7,574.7 L57.1,574.5 L57.6,574.2 L58.0,573.6 L58.4,573.0 L58.9,571.8 L59.3,570.2 L59.7,567.5 L60.2,565.1 L60.6,560.2 L61.0,556.4 L61.5,548.8 L61.9,541.4 L62.4,534.5 L62.8,527.6 L63.2,516.9 L63.7,509.4 L64.1,500.4 L64.5,494.8 L65.0,484.4 L65.4,486.7 L65.8,489.7 L66.3,490.6 L66.7,494.8 L67.1,496.7 L67.6,495.5 L68.0,505.9 L68.4,510.1 L68.9,520.1 L69.3,523.9 L69.8,530.5 L70.2,538.0 L70.6,541.6 L71.1,547.0 L71.5,552.4 L71.9,555.2 L72.4,559.2 L72.8,563.8 L73.2,565.4 L73.7,568.0 L74.1,569.4 L74.5,571.1 L75.0,572.0 L75.4,573.0 L75.8,573.5 L76.3,574.0 L76.7,574.3 L77.1,574.5 L77.6,574.7 L78.0,574.8 L78.5,574.9 L78.9,574.9 L79.3,574.9 L79.8,575.0 L80.2,575.0 L80.6,575.0 L81.1,575.0 L81.5,575.0 L81.9,575.0 L82.4,575.0 L82.8,575.0 L83.2,575.0 L83.7,575.0 L84.1,575.0 L84.5,575.0 L85.0,575.0 L85.4,575.0 L85.8,575.0 L86.3,575.0 L86.7,575.0 L87.2,575.0 L87.6,575.0 L88.0,575.0 L88.5,575.0 L88.9,575.0 L89.3,575.0 L89.8,575.0 L90.2,575.0 L90.6,575.0 L91.1,575.0 L91.5,575.0 L91.9,575.0 L92.4,575.0 L92.8,575.0 L93.2,575.0 L93.7,575.0 L94.1,575.0 L94.5,575.0 L95.0,575.0 L95.4,575.0 L95.8,575.0 L96.3,575.0 L96.7,575.0 L97.2,575.0 L97.6,575.0 L98.0,575.0 L98.5,575.0 L98.9,575.0 L99.3,575.0 L99.8,575.0 L100.2,575.0 L100.6,575.0 L101.1,575.0 L101.5,575.0 L101.9,575.0 L102.4,575.0 L102.8,575.0 L103.2,575.0 L103.7,575.0 L104.1,575.0 L104.5,575.0 L105.0,575.0 L105.4,575.0 L105.9,575.0 L106.3,575.0 L106.7,575.0 L107.2,575.0 L107.6,575.0 L108.0,575.0 L108.5,575.0 L108.9,575.0 L109.3,575.0 L109.8,575.0 L110.2,575.0 L110.6,575.0 L111.1,575.0 L111.5,575.0 L111.9,575.0 L112.4,575.0 L112.8,575.0 L113.2,575.0 L113.7,575.0 L114.1,575.0 L114.6,575.0 L115.0,575.0 L115.4,575.0 L115.9,575.0 L116.3,575.0 L116.7,575.0 L117.2,575.0 L117.6,575.0 L118.0,575.0 L118.5,575.0 L118.9,575.0 L119.3,575.0 L119.8,575.0 L120.2,575.0 L120.6,575.0 L121.1,575.0 L121.5,575.0 L122.0,575.0 L122.4,575.0 L122.8,575.0 L123.3,575.0 L123.7,575.0 L124.1,575.0 L124.6,575.0 L125.0,575.0 L125.4,575.0 L125.9,575.0 L126.3,575.0 L126.7,575.0 L127.2,575.0 L127.6,575.0 L128.0,575.0 L128.5,575.0 L128.9,575.0 L129.3,575.0 L129.8,575.0 L130.2,575.0 L130.7,575.0 L131.1,575.0 L131.5,575.0 L132.0,575.0 L132.4,575.0 L132.8,575.0 L133.3,575.0 L133.7,575.0 L134.1,575.0 L134.6,575.0 L135.0,575.0" fill="none" stroke="#111" stroke-width="0.9" stroke-opacity="0.9"/>
<rect x="39.3" y="479.3" width="95.7" height="95.7" fill="none" stroke="#8a8a8a" stroke-width="0.9"/>
<line x1="39.3" y1="575.0" x2="135.0" y2="575.0" stroke="#555" stroke-width="1"/>
<line x1="39.3" y1="479.3" x2="39.3" y2="575.0" stroke="#777" stroke-width="0.9"/>
<line x1="37.3" y1="575.0" x2="39.3" y2="575.0" stroke="#444" stroke-width="0.8"/>
<text x="36.7" y="577.6" font-size="7.3" text-anchor="end" font-weight="normal" fill="#111" stroke="#111" stroke-width="0.2">0</text>
<line x1="37.3" y1="558.2" x2="39.3" y2="558.2" stroke="#444" stroke-width="0.8"/>
<text x="36.7" y="560.8" font-size="7.3" text-anchor="end" font-weight="normal" fill="#111" stroke="#111" stroke-width="0.2">20</text>
<line x1="37.3" y1="541.4" x2="39.3" y2="541.4" stroke="#444" stroke-width="0.8"/>
<text x="36.7" y="544.0" font-size="7.3" text-anchor="end" font-weight="normal" fill="#111" stroke="#111" stroke-width="0.2">40</text>
<line x1="37.3" y1="524.6" x2="39.3" y2="524.6" stroke="#444" stroke-width="0.8"/>
<text x="36.7" y="527.2" font-size="7.3" text-anchor="end" font-weight="normal" fill="#111" stroke="#111" stroke-width="0.2">60</text>
<line x1="37.3" y1="507.8" x2="39.3" y2="507.8" stroke="#444" stroke-width="0.8"/>
<text x="36.7" y="510.4" font-size="7.3" text-anchor="end" font-weight="normal" fill="#111" stroke="#111" stroke-width="0.2">80</text>
<line x1="37.3" y1="491.1" x2="39.3" y2="491.1" stroke="#444" stroke-width="0.8"/>
<text x="36.7" y="493.7" font-size="7.3" text-anchor="end" font-weight="normal" fill="#111" stroke="#111" stroke-width="0.2">100</text>
<line x1="63.2" y1="575.0" x2="63.2" y2="577.0" stroke="#444" stroke-width="0.8"/>
<text x="62.2" y="585.5" font-size="7.3" text-anchor="middle" fill="#111" stroke="#111" stroke-width="0.2">10<tspan font-size="5" dy="-3">0</tspan></text>
<line x1="87.2" y1="575.0" x2="87.2" y2="577.0" stroke="#444" stroke-width="0.8"/>
<text x="86.2" y="585.5" font-size="7.3" text-anchor="middle" fill="#111" stroke="#111" stroke-width="0.2">10<tspan font-size="5" dy="-3">1</tspan></text>
<line x1="111.1" y1="575.0" x2="111.1" y2="577.0" stroke="#444" stroke-width="0.8"/>
<text x="110.1" y="585.5" font-size="7.3" text-anchor="middle" fill="#111" stroke="#111" stroke-width="0.2">10<tspan font-size="5" dy="-3">2</tspan></text>
<line x1="135.0" y1="575.0" x2="135.0" y2="577.0" stroke="#444" stroke-width="0.8"/>
<text x="134.0" y="585.5" font-size="7.3" text-anchor="middle" fill="#111" stroke="#111" stroke-width="0.2">10<tspan font-size="5" dy="-3">3</tspan></text>
<text x="17.5" y="527.1" font-size="11.5" text-anchor="middle" fill="#111" stroke="#111" stroke-width="0.3" transform="rotate(-90 17.5 527.1)" textLength="27" lengthAdjust="spacingAndGlyphs">Count</text>
<text x="87.2" y="599.3" font-size="11" text-anchor="middle" fill="#111" stroke="#111" stroke-width="0.3" textLength="88.6" lengthAdjust="spacingAndGlyphs">RASF-CD55-control</text>
<line x1="83.5" y1="513.3" x2="132" y2="513.3" stroke="#777" stroke-width="1"/>
<line x1="83.5" y1="511.29999999999995" x2="83.5" y2="515.3" stroke="#777" stroke-width="0.8"/>
<line x1="132" y1="511.29999999999995" x2="132" y2="515.3" stroke="#777" stroke-width="0.8"/>
<rect x="86.5" y="517.8" width="38.2" height="10.9" fill="#fff" fill-opacity="0.55" stroke="#ccc" stroke-width="0.6"/>
<text x="105.6" y="526.7" font-size="8.7" text-anchor="middle" font-weight="normal" fill="#111" stroke="#111" stroke-width="0.2">B: 0.40%</text>
<path d="M180.5,574.8 L180.5,574.8 L180.9,574.8 L181.4,574.8 L181.8,574.8 L182.2,574.8 L182.7,574.8 L183.1,574.8 L183.5,574.8 L184.0,574.8 L184.4,574.8 L184.8,574.8 L185.3,574.8 L185.7,574.8 L186.1,574.8 L186.6,574.8 L187.0,574.8 L187.4,574.8 L187.9,574.8 L188.3,574.8 L188.7,574.8 L189.2,574.8 L189.6,574.8 L190.1,574.8 L190.5,574.8 L190.9,574.8 L191.4,574.8 L191.8,574.8 L192.2,574.8 L192.7,574.8 L193.1,574.8 L193.5,574.8 L194.0,574.8 L194.4,574.8 L194.8,574.8 L195.3,574.8 L195.7,574.8 L196.1,574.8 L196.6,574.8 L197.0,574.8 L197.4,574.8 L197.9,574.8 L198.3,574.8 L198.7,574.8 L199.2,574.8 L199.6,574.8 L200.0,574.8 L200.5,574.8 L200.9,574.8 L201.3,574.8 L201.8,574.8 L202.2,574.8 L202.6,574.8 L203.1,574.8 L203.5,574.8 L203.9,574.8 L204.4,574.8 L204.8,574.8 L205.2,574.8 L205.7,574.8 L206.1,574.8 L206.5,574.8 L207.0,574.8 L207.4,574.8 L207.8,574.8 L208.3,574.8 L208.7,574.8 L209.2,574.8 L209.6,574.8 L210.0,574.8 L210.5,574.8 L210.9,574.8 L211.3,574.8 L211.8,574.8 L212.2,574.8 L212.6,574.8 L213.1,574.8 L213.5,574.8 L213.9,574.8 L214.4,574.8 L214.8,574.8 L215.2,574.8 L215.7,574.8 L216.1,574.8 L216.5,574.8 L217.0,574.8 L217.4,574.8 L217.8,574.8 L218.3,574.8 L218.7,574.8 L219.1,574.8 L219.6,574.8 L220.0,574.8 L220.4,574.8 L220.9,574.7 L221.3,574.7 L221.7,574.7 L222.2,574.7 L222.6,574.7 L223.0,574.7 L223.5,574.7 L223.9,574.7 L224.3,574.6 L224.8,574.6 L225.2,574.6 L225.6,574.6 L226.1,574.5 L226.5,574.5 L226.9,574.5 L227.4,574.4 L227.8,574.4 L228.2,574.3 L228.7,574.3 L229.1,574.2 L229.6,574.2 L230.0,574.1 L230.4,574.0 L230.9,574.0 L231.3,574.0 L231.7,573.8 L232.2,573.8 L232.6,573.7 L233.0,573.6 L233.5,573.5 L233.9,573.5 L234.3,573.5 L234.8,573.3 L235.2,573.3 L235.6,573.2 L236.1,573.1 L236.5,573.2 L236.9,573.0 L237.4,572.9 L237.8,573.0 L238.2,573.0 L238.7,573.0 L239.1,572.9 L239.5,573.0 L240.0,572.9 L240.4,573.0 L240.8,572.8 L241.3,572.9 L241.7,572.9 L242.1,572.7 L242.6,572.7 L243.0,572.7 L243.4,572.6 L243.9,572.4 L244.3,572.3 L244.7,571.6 L245.2,571.1 L245.6,570.3 L246.0,569.7 L246.5,568.4 L246.9,566.6 L247.3,564.6 L247.8,562.5 L248.2,559.5 L248.7,554.6 L249.1,549.8 L249.5,546.7 L250.0,540.8 L250.4,535.9 L250.8,525.9 L251.3,521.0 L251.7,517.4 L252.1,508.9 L252.6,500.2 L253.0,499.5 L253.4,495.2 L253.9,486.9 L254.3,489.2 L254.7,488.1 L255.2,480.6 L255.6,483.5 L256.0,482.0 L256.5,490.7 L256.9,496.1 L257.3,498.2 L257.8,494.8 L258.2,505.9 L258.6,506.3 L259.1,511.3 L259.5,518.3 L259.9,520.6 L260.4,525.3 L260.8,530.3 L261.2,534.2 L261.7,542.7 L262.1,544.6 L262.5,548.3 L263.0,553.1 L263.4,555.8 L263.8,559.5 L264.3,561.2 L264.7,563.8 L265.1,565.6 L265.6,567.4 L266.0,568.6 L266.4,569.8 L266.9,570.6 L267.3,571.7 L267.8,572.2 L268.2,572.8 L268.6,573.3 L269.1,573.7 L269.5,573.9 L269.9,574.1 L270.4,574.3 L270.8,574.4 L271.2,574.5 L271.7,574.6 L272.1,574.7 L272.5,574.7 L273.0,574.7 L273.4,574.7 L273.8,574.8 L274.3,574.8 L274.7,574.8 L275.1,574.8 L275.6,574.8 L276.0,574.8 L276.0,574.8 Z" fill="#1fa843" stroke="none"/>
<path d="M180.5,574.8 L180.9,574.8 L181.4,574.8 L181.8,574.8 L182.2,574.8 L182.7,574.8 L183.1,574.8 L183.5,574.8 L184.0,574.8 L184.4,574.8 L184.8,574.8 L185.3,574.8 L185.7,574.8 L186.1,574.8 L186.6,574.8 L187.0,574.8 L187.4,574.8 L187.9,574.8 L188.3,574.8 L188.7,574.8 L189.2,574.8 L189.6,574.8 L190.1,574.8 L190.5,574.8 L190.9,574.8 L191.4,574.8 L191.8,574.8 L192.2,574.8 L192.7,574.8 L193.1,574.8 L193.5,574.8 L194.0,574.8 L194.4,574.8 L194.8,574.8 L195.3,574.8 L195.7,574.8 L196.1,574.8 L196.6,574.8 L197.0,574.8 L197.4,574.8 L197.9,574.8 L198.3,574.8 L198.7,574.8 L199.2,574.8 L199.6,574.8 L200.0,574.8 L200.5,574.8 L200.9,574.8 L201.3,574.8 L201.8,574.8 L202.2,574.8 L202.6,574.8 L203.1,574.8 L203.5,574.8 L203.9,574.8 L204.4,574.8 L204.8,574.8 L205.2,574.8 L205.7,574.8 L206.1,574.8 L206.5,574.8 L207.0,574.8 L207.4,574.8 L207.8,574.8 L208.3,574.8 L208.7,574.8 L209.2,574.8 L209.6,574.8 L210.0,574.8 L210.5,574.8 L210.9,574.8 L211.3,574.8 L211.8,574.8 L212.2,574.8 L212.6,574.8 L213.1,574.8 L213.5,574.8 L213.9,574.8 L214.4,574.8 L214.8,574.8 L215.2,574.8 L215.7,574.8 L216.1,574.8 L216.5,574.8 L217.0,574.8 L217.4,574.8 L217.8,574.8 L218.3,574.8 L218.7,574.8 L219.1,574.8 L219.6,574.8 L220.0,574.8 L220.4,574.8 L220.9,574.7 L221.3,574.7 L221.7,574.7 L222.2,574.7 L222.6,574.7 L223.0,574.7 L223.5,574.7 L223.9,574.7 L224.3,574.6 L224.8,574.6 L225.2,574.6 L225.6,574.6 L226.1,574.5 L226.5,574.5 L226.9,574.5 L227.4,574.4 L227.8,574.4 L228.2,574.3 L228.7,574.3 L229.1,574.2 L229.6,574.2 L230.0,574.1 L230.4,574.0 L230.9,574.0 L231.3,574.0 L231.7,573.8 L232.2,573.8 L232.6,573.7 L233.0,573.6 L233.5,573.5 L233.9,573.5 L234.3,573.5 L234.8,573.3 L235.2,573.3 L235.6,573.2 L236.1,573.1 L236.5,573.2 L236.9,573.0 L237.4,572.9 L237.8,573.0 L238.2,573.0 L238.7,573.0 L239.1,572.9 L239.5,573.0 L240.0,572.9 L240.4,573.0 L240.8,572.8 L241.3,572.9 L241.7,572.9 L242.1,572.7 L242.6,572.7 L243.0,572.7 L243.4,572.6 L243.9,572.4 L244.3,572.3 L244.7,571.6 L245.2,571.1 L245.6,570.3 L246.0,569.7 L246.5,568.4 L246.9,566.6 L247.3,564.6 L247.8,562.5 L248.2,559.5 L248.7,554.6 L249.1,549.8 L249.5,546.7 L250.0,540.8 L250.4,535.9 L250.8,525.9 L251.3,521.0 L251.7,517.4 L252.1,508.9 L252.6,500.2 L253.0,499.5 L253.4,495.2 L253.9,486.9 L254.3,489.2 L254.7,488.1 L255.2,480.6 L255.6,483.5 L256.0,482.0 L256.5,490.7 L256.9,496.1 L257.3,498.2 L257.8,494.8 L258.2,505.9 L258.6,506.3 L259.1,511.3 L259.5,518.3 L259.9,520.6 L260.4,525.3 L260.8,530.3 L261.2,534.2 L261.7,542.7 L262.1,544.6 L262.5,548.3 L263.0,553.1 L263.4,555.8 L263.8,559.5 L264.3,561.2 L264.7,563.8 L265.1,565.6 L265.6,567.4 L266.0,568.6 L266.4,569.8 L266.9,570.6 L267.3,571.7 L267.8,572.2 L268.2,572.8 L268.6,573.3 L269.1,573.7 L269.5,573.9 L269.9,574.1 L270.4,574.3 L270.8,574.4 L271.2,574.5 L271.7,574.6 L272.1,574.7 L272.5,574.7 L273.0,574.7 L273.4,574.7 L273.8,574.8 L274.3,574.8 L274.7,574.8 L275.1,574.8 L275.6,574.8 L276.0,574.8" fill="none" stroke="#111" stroke-width="0.9" stroke-opacity="0.9"/>
<rect x="180.5" y="479.3" width="95.5" height="95.5" fill="none" stroke="#8a8a8a" stroke-width="0.9"/>
<line x1="180.5" y1="574.8" x2="276.0" y2="574.8" stroke="#555" stroke-width="1"/>
<line x1="180.5" y1="479.3" x2="180.5" y2="574.8" stroke="#777" stroke-width="0.9"/>
<line x1="178.5" y1="574.8" x2="180.5" y2="574.8" stroke="#444" stroke-width="0.8"/>
<text x="177.9" y="577.4" font-size="7.3" text-anchor="end" font-weight="normal" fill="#111" stroke="#111" stroke-width="0.2">0</text>
<line x1="178.5" y1="549.3" x2="180.5" y2="549.3" stroke="#444" stroke-width="0.8"/>
<text x="177.9" y="551.9" font-size="7.3" text-anchor="end" font-weight="normal" fill="#111" stroke="#111" stroke-width="0.2">20</text>
<line x1="178.5" y1="523.9" x2="180.5" y2="523.9" stroke="#444" stroke-width="0.8"/>
<text x="177.9" y="526.5" font-size="7.3" text-anchor="end" font-weight="normal" fill="#111" stroke="#111" stroke-width="0.2">40</text>
<line x1="178.5" y1="498.4" x2="180.5" y2="498.4" stroke="#444" stroke-width="0.8"/>
<text x="177.9" y="501.0" font-size="7.3" text-anchor="end" font-weight="normal" fill="#111" stroke="#111" stroke-width="0.2">60</text>
<line x1="204.4" y1="574.8" x2="204.4" y2="576.8" stroke="#444" stroke-width="0.8"/>
<text x="203.4" y="585.3" font-size="7.3" text-anchor="middle" fill="#111" stroke="#111" stroke-width="0.2">10<tspan font-size="5" dy="-3">0</tspan></text>
<line x1="228.2" y1="574.8" x2="228.2" y2="576.8" stroke="#444" stroke-width="0.8"/>
<text x="227.2" y="585.3" font-size="7.3" text-anchor="middle" fill="#111" stroke="#111" stroke-width="0.2">10<tspan font-size="5" dy="-3">1</tspan></text>
<line x1="252.1" y1="574.8" x2="252.1" y2="576.8" stroke="#444" stroke-width="0.8"/>
<text x="251.1" y="585.3" font-size="7.3" text-anchor="middle" fill="#111" stroke="#111" stroke-width="0.2">10<tspan font-size="5" dy="-3">2</tspan></text>
<line x1="276.0" y1="574.8" x2="276.0" y2="576.8" stroke="#444" stroke-width="0.8"/>
<text x="275.0" y="585.3" font-size="7.3" text-anchor="middle" fill="#111" stroke="#111" stroke-width="0.2">10<tspan font-size="5" dy="-3">3</tspan></text>
<text x="158.7" y="527.0" font-size="11.5" text-anchor="middle" fill="#111" stroke="#111" stroke-width="0.3" transform="rotate(-90 158.7 527.0)" textLength="27" lengthAdjust="spacingAndGlyphs">Count</text>
<text x="228.2" y="599.1" font-size="11" text-anchor="middle" fill="#111" stroke="#111" stroke-width="0.3" textLength="55.0" lengthAdjust="spacingAndGlyphs">RASF1-CD55</text>
<line x1="224" y1="513.2" x2="272.4" y2="513.2" stroke="#777" stroke-width="1"/>
<line x1="224" y1="511.20000000000005" x2="224" y2="515.2" stroke="#777" stroke-width="0.8"/>
<line x1="272.4" y1="511.20000000000005" x2="272.4" y2="515.2" stroke="#777" stroke-width="0.8"/>
<rect x="226" y="516.7" width="43.7" height="10.3" fill="#fff" fill-opacity="0.55" stroke="#ccc" stroke-width="0.6"/>
<text x="247.8" y="525.0" font-size="8.7" text-anchor="middle" font-weight="normal" fill="#111" stroke="#111" stroke-width="0.2">B: 99.78%</text>
<path d="M39.3,702.0 L39.3,702.0 L39.7,702.0 L40.2,702.0 L40.6,702.0 L41.0,702.0 L41.5,702.0 L41.9,702.0 L42.3,702.0 L42.8,702.0 L43.2,702.0 L43.6,702.0 L44.1,702.0 L44.5,702.0 L45.0,702.0 L45.4,702.0 L45.8,702.0 L46.3,702.0 L46.7,702.0 L47.1,702.0 L47.6,702.0 L48.0,702.0 L48.4,702.0 L48.9,702.0 L49.3,702.0 L49.7,702.0 L50.2,702.0 L50.6,702.0 L51.0,702.0 L51.5,702.0 L51.9,702.0 L52.3,702.0 L52.8,702.0 L53.2,702.0 L53.7,702.0 L54.1,702.0 L54.5,702.0 L55.0,702.0 L55.4,702.0 L55.8,702.0 L56.3,702.0 L56.7,702.0 L57.1,702.0 L57.6,702.0 L58.0,702.0 L58.4,702.0 L58.9,702.0 L59.3,702.0 L59.7,702.0 L60.2,702.0 L60.6,702.0 L61.0,702.0 L61.5,702.0 L61.9,702.0 L62.4,702.0 L62.8,702.0 L63.2,702.0 L63.7,702.0 L64.1,702.0 L64.5,702.0 L65.0,702.0 L65.4,702.0 L65.8,702.0 L66.3,702.0 L66.7,702.0 L67.1,702.0 L67.6,702.0 L68.0,702.0 L68.4,702.0 L68.9,702.0 L69.3,702.0 L69.8,702.0 L70.2,702.0 L70.6,702.0 L71.1,702.0 L71.5,702.0 L71.9,702.0 L72.4,702.0 L72.8,702.0 L73.2,702.0 L73.7,702.0 L74.1,702.0 L74.5,701.9 L75.0,701.9 L75.4,701.9 L75.8,701.9 L76.3,701.9 L76.7,701.9 L77.1,701.9 L77.6,701.9 L78.0,701.8 L78.5,701.8 L78.9,701.8 L79.3,701.8 L79.8,701.8 L80.2,701.7 L80.6,701.7 L81.1,701.7 L81.5,701.7 L81.9,701.6 L82.4,701.6 L82.8,701.5 L83.2,701.5 L83.7,701.4 L84.1,701.4 L84.5,701.4 L85.0,701.3 L85.4,701.3 L85.8,701.2 L86.3,701.2 L86.7,701.1 L87.2,701.1 L87.6,701.0 L88.0,700.9 L88.5,700.9 L88.9,700.8 L89.3,700.8 L89.8,700.7 L90.2,700.7 L90.6,700.6 L91.1,700.5 L91.5,700.5 L91.9,700.4 L92.4,700.4 L92.8,700.4 L93.2,700.4 L93.7,700.3 L94.1,700.4 L94.5,700.2 L95.0,700.3 L95.4,700.2 L95.8,700.2 L96.3,700.3 L96.7,700.1 L97.2,700.2 L97.6,700.3 L98.0,700.2 L98.5,700.1 L98.9,700.3 L99.3,700.1 L99.8,700.2 L100.2,700.3 L100.6,700.1 L101.1,700.1 L101.5,700.0 L101.9,699.9 L102.4,699.9 L102.8,699.7 L103.2,699.2 L103.7,698.9 L104.1,698.1 L104.5,697.2 L105.0,696.3 L105.4,694.8 L105.9,693.8 L106.3,691.6 L106.7,689.2 L107.2,687.1 L107.6,683.4 L108.0,681.1 L108.5,677.7 L108.9,671.5 L109.3,668.5 L109.8,659.7 L110.2,658.7 L110.6,652.2 L111.1,646.1 L111.5,638.0 L111.9,637.3 L112.4,633.6 L112.8,625.5 L113.2,619.5 L113.7,615.7 L114.1,615.0 L114.6,610.3 L115.0,611.5 L115.4,613.9 L115.9,611.5 L116.3,613.2 L116.7,616.6 L117.2,619.0 L117.6,628.4 L118.0,631.4 L118.5,633.1 L118.9,636.9 L119.3,648.0 L119.8,646.8 L120.2,655.6 L120.6,660.2 L121.1,663.1 L121.5,668.1 L122.0,672.4 L122.4,675.8 L122.8,680.7 L123.3,682.2 L123.7,685.1 L124.1,688.9 L124.6,690.0 L125.0,692.9 L125.4,694.6 L125.9,695.5 L126.3,697.1 L126.7,697.8 L127.2,698.6 L127.6,699.5 L128.0,700.1 L128.5,700.4 L128.9,700.7 L129.3,701.0 L129.8,701.3 L130.2,701.5 L130.7,701.6 L131.1,701.7 L131.5,701.8 L132.0,701.8 L132.4,701.9 L132.8,701.9 L133.3,701.9 L133.7,702.0 L134.1,702.0 L134.6,702.0 L135.0,702.0 L135.0,702.0 Z" fill="#1fa843" stroke="none"/>
<path d="M39.3,702.0 L39.7,702.0 L40.2,702.0 L40.6,702.0 L41.0,702.0 L41.5,702.0 L41.9,702.0 L42.3,702.0 L42.8,702.0 L43.2,702.0 L43.6,702.0 L44.1,702.0 L44.5,702.0 L45.0,702.0 L45.4,702.0 L45.8,702.0 L46.3,702.0 L46.7,702.0 L47.1,702.0 L47.6,702.0 L48.0,702.0 L48.4,702.0 L48.9,702.0 L49.3,702.0 L49.7,702.0 L50.2,702.0 L50.6,702.0 L51.0,702.0 L51.5,702.0 L51.9,702.0 L52.3,702.0 L52.8,702.0 L53.2,702.0 L53.7,702.0 L54.1,702.0 L54.5,702.0 L55.0,702.0 L55.4,702.0 L55.8,702.0 L56.3,702.0 L56.7,702.0 L57.1,702.0 L57.6,702.0 L58.0,702.0 L58.4,702.0 L58.9,702.0 L59.3,702.0 L59.7,702.0 L60.2,702.0 L60.6,702.0 L61.0,702.0 L61.5,702.0 L61.9,702.0 L62.4,702.0 L62.8,702.0 L63.2,702.0 L63.7,702.0 L64.1,702.0 L64.5,702.0 L65.0,702.0 L65.4,702.0 L65.8,702.0 L66.3,702.0 L66.7,702.0 L67.1,702.0 L67.6,702.0 L68.0,702.0 L68.4,702.0 L68.9,702.0 L69.3,702.0 L69.8,702.0 L70.2,702.0 L70.6,702.0 L71.1,702.0 L71.5,702.0 L71.9,702.0 L72.4,702.0 L72.8,702.0 L73.2,702.0 L73.7,702.0 L74.1,702.0 L74.5,701.9 L75.0,701.9 L75.4,701.9 L75.8,701.9 L76.3,701.9 L76.7,701.9 L77.1,701.9 L77.6,701.9 L78.0,701.8 L78.5,701.8 L78.9,701.8 L79.3,701.8 L79.8,701.8 L80.2,701.7 L80.6,701.7 L81.1,701.7 L81.5,701.7 L81.9,701.6 L82.4,701.6 L82.8,701.5 L83.2,701.5 L83.7,701.4 L84.1,701.4 L84.5,701.4 L85.0,701.3 L85.4,701.3 L85.8,701.2 L86.3,701.2 L86.7,701.1 L87.2,701.1 L87.6,701.0 L88.0,700.9 L88.5,700.9 L88.9,700.8 L89.3,700.8 L89.8,700.7 L90.2,700.7 L90.6,700.6 L91.1,700.5 L91.5,700.5 L91.9,700.4 L92.4,700.4 L92.8,700.4 L93.2,700.4 L93.7,700.3 L94.1,700.4 L94.5,700.2 L95.0,700.3 L95.4,700.2 L95.8,700.2 L96.3,700.3 L96.7,700.1 L97.2,700.2 L97.6,700.3 L98.0,700.2 L98.5,700.1 L98.9,700.3 L99.3,700.1 L99.8,700.2 L100.2,700.3 L100.6,700.1 L101.1,700.1 L101.5,700.0 L101.9,699.9 L102.4,699.9 L102.8,699.7 L103.2,699.2 L103.7,698.9 L104.1,698.1 L104.5,697.2 L105.0,696.3 L105.4,694.8 L105.9,693.8 L106.3,691.6 L106.7,689.2 L107.2,687.1 L107.6,683.4 L108.0,681.1 L108.5,677.7 L108.9,671.5 L109.3,668.5 L109.8,659.7 L110.2,658.7 L110.6,652.2 L111.1,646.1 L111.5,638.0 L111.9,637.3 L112.4,633.6 L112.8,625.5 L113.2,619.5 L113.7,615.7 L114.1,615.0 L114.6,610.3 L115.0,611.5 L115.4,613.9 L115.9,611.5 L116.3,613.2 L116.7,616.6 L117.2,619.0 L117.6,628.4 L118.0,631.4 L118.5,633.1 L118.9,636.9 L119.3,648.0 L119.8,646.8 L120.2,655.6 L120.6,660.2 L121.1,663.1 L121.5,668.1 L122.0,672.4 L122.4,675.8 L122.8,680.7 L123.3,682.2 L123.7,685.1 L124.1,688.9 L124.6,690.0 L125.0,692.9 L125.4,694.6 L125.9,695.5 L126.3,697.1 L126.7,697.8 L127.2,698.6 L127.6,699.5 L128.0,700.1 L128.5,700.4 L128.9,700.7 L129.3,701.0 L129.8,701.3 L130.2,701.5 L130.7,701.6 L131.1,701.7 L131.5,701.8 L132.0,701.8 L132.4,701.9 L132.8,701.9 L133.3,701.9 L133.7,702.0 L134.1,702.0 L134.6,702.0 L135.0,702.0" fill="none" stroke="#111" stroke-width="0.9" stroke-opacity="0.9"/>
<rect x="39.3" y="606.0" width="95.7" height="96.0" fill="none" stroke="#8a8a8a" stroke-width="0.9"/>
<line x1="39.3" y1="702.0" x2="135.0" y2="702.0" stroke="#555" stroke-width="1"/>
<line x1="39.3" y1="606.0" x2="39.3" y2="702.0" stroke="#777" stroke-width="0.9"/>
<line x1="37.3" y1="702.0" x2="39.3" y2="702.0" stroke="#444" stroke-width="0.8"/>
<text x="36.7" y="704.6" font-size="7.3" text-anchor="end" font-weight="normal" fill="#111" stroke="#111" stroke-width="0.2">0</text>
<line x1="37.3" y1="677.6" x2="39.3" y2="677.6" stroke="#444" stroke-width="0.8"/>
<text x="36.7" y="680.2" font-size="7.3" text-anchor="end" font-weight="normal" fill="#111" stroke="#111" stroke-width="0.2">20</text>
<line x1="37.3" y1="653.3" x2="39.3" y2="653.3" stroke="#444" stroke-width="0.8"/>
<text x="36.7" y="655.9" font-size="7.3" text-anchor="end" font-weight="normal" fill="#111" stroke="#111" stroke-width="0.2">40</text>
<line x1="37.3" y1="628.9" x2="39.3" y2="628.9" stroke="#444" stroke-width="0.8"/>
<text x="36.7" y="631.5" font-size="7.3" text-anchor="end" font-weight="normal" fill="#111" stroke="#111" stroke-width="0.2">60</text>
<line x1="63.2" y1="702.0" x2="63.2" y2="704.0" stroke="#444" stroke-width="0.8"/>
<text x="62.2" y="712.5" font-size="7.3" text-anchor="middle" fill="#111" stroke="#111" stroke-width="0.2">10<tspan font-size="5" dy="-3">0</tspan></text>
<line x1="87.2" y1="702.0" x2="87.2" y2="704.0" stroke="#444" stroke-width="0.8"/>
<text x="86.2" y="712.5" font-size="7.3" text-anchor="middle" fill="#111" stroke="#111" stroke-width="0.2">10<tspan font-size="5" dy="-3">1</tspan></text>
<line x1="111.1" y1="702.0" x2="111.1" y2="704.0" stroke="#444" stroke-width="0.8"/>
<text x="110.1" y="712.5" font-size="7.3" text-anchor="middle" fill="#111" stroke="#111" stroke-width="0.2">10<tspan font-size="5" dy="-3">2</tspan></text>
<line x1="135.0" y1="702.0" x2="135.0" y2="704.0" stroke="#444" stroke-width="0.8"/>
<text x="134.0" y="712.5" font-size="7.3" text-anchor="middle" fill="#111" stroke="#111" stroke-width="0.2">10<tspan font-size="5" dy="-3">3</tspan></text>
<text x="17.5" y="654.0" font-size="11.5" text-anchor="middle" fill="#111" stroke="#111" stroke-width="0.3" transform="rotate(-90 17.5 654.0)" textLength="27" lengthAdjust="spacingAndGlyphs">Count</text>
<text x="87.2" y="726.3" font-size="11" text-anchor="middle" fill="#111" stroke="#111" stroke-width="0.3" textLength="56.4" lengthAdjust="spacingAndGlyphs">RASF2-CD55</text>
<line x1="83.3" y1="639.6" x2="131.9" y2="639.6" stroke="#777" stroke-width="1"/>
<line x1="83.3" y1="637.6" x2="83.3" y2="641.6" stroke="#777" stroke-width="0.8"/>
<line x1="131.9" y1="637.6" x2="131.9" y2="641.6" stroke="#777" stroke-width="0.8"/>
<rect x="85.6" y="643.5" width="42.8" height="9.7" fill="#fff" fill-opacity="0.55" stroke="#ccc" stroke-width="0.6"/>
<text x="107.0" y="651.2" font-size="8.7" text-anchor="middle" font-weight="normal" fill="#111" stroke="#111" stroke-width="0.2">B: 99.71%</text>
<path d="M180.0,702.0 L180.0,702.0 L180.4,702.0 L180.9,702.0 L181.3,702.0 L181.7,702.0 L182.2,702.0 L182.6,702.0 L183.0,702.0 L183.5,702.0 L183.9,702.0 L184.3,702.0 L184.8,702.0 L185.2,702.0 L185.6,702.0 L186.1,702.0 L186.5,702.0 L186.9,702.0 L187.4,702.0 L187.8,702.0 L188.2,702.0 L188.7,702.0 L189.1,702.0 L189.5,702.0 L190.0,702.0 L190.4,702.0 L190.8,702.0 L191.3,702.0 L191.7,702.0 L192.1,702.0 L192.6,702.0 L193.0,702.0 L193.4,702.0 L193.9,702.0 L194.3,702.0 L194.7,702.0 L195.2,702.0 L195.6,702.0 L196.0,702.0 L196.5,702.0 L196.9,702.0 L197.3,702.0 L197.8,702.0 L198.2,702.0 L198.6,702.0 L199.1,702.0 L199.5,702.0 L199.9,702.0 L200.4,702.0 L200.8,702.0 L201.2,702.0 L201.7,702.0 L202.1,702.0 L202.5,702.0 L203.0,702.0 L203.4,702.0 L203.8,702.0 L204.3,702.0 L204.7,702.0 L205.1,702.0 L205.6,702.0 L206.0,702.0 L206.4,702.0 L206.9,702.0 L207.3,702.0 L207.7,702.0 L208.2,702.0 L208.6,702.0 L209.0,702.0 L209.5,702.0 L209.9,702.0 L210.3,702.0 L210.8,702.0 L211.2,702.0 L211.6,702.0 L212.1,702.0 L212.5,702.0 L212.9,702.0 L213.4,702.0 L213.8,702.0 L214.2,702.0 L214.7,702.0 L215.1,702.0 L215.5,702.0 L216.0,702.0 L216.4,702.0 L216.8,702.0 L217.3,702.0 L217.7,701.9 L218.1,701.9 L218.6,701.9 L219.0,701.9 L219.4,701.9 L219.9,701.9 L220.3,701.9 L220.7,701.9 L221.2,701.9 L221.6,701.8 L222.0,701.8 L222.5,701.8 L222.9,701.8 L223.3,701.8 L223.8,701.7 L224.2,701.7 L224.6,701.7 L225.1,701.6 L225.5,701.6 L225.9,701.6 L226.4,701.6 L226.8,701.5 L227.2,701.4 L227.7,701.4 L228.1,701.4 L228.5,701.4 L228.9,701.3 L229.4,701.2 L229.8,701.2 L230.2,701.1 L230.7,701.1 L231.1,701.0 L231.5,701.0 L232.0,701.0 L232.4,700.8 L232.8,700.9 L233.3,700.8 L233.7,700.7 L234.1,700.6 L234.6,700.7 L235.0,700.6 L235.4,700.5 L235.9,700.5 L236.3,700.5 L236.7,700.5 L237.2,700.4 L237.6,700.4 L238.0,700.5 L238.5,700.4 L238.9,700.3 L239.3,700.4 L239.8,700.3 L240.2,700.4 L240.6,700.4 L241.1,700.5 L241.5,700.3 L241.9,700.5 L242.4,700.4 L242.8,700.4 L243.2,700.4 L243.7,700.3 L244.1,700.4 L244.5,700.2 L245.0,700.0 L245.4,699.8 L245.8,699.3 L246.3,699.0 L246.7,698.4 L247.1,697.5 L247.6,696.6 L248.0,694.8 L248.4,692.6 L248.9,690.1 L249.3,688.1 L249.7,684.0 L250.2,680.3 L250.6,675.7 L251.0,671.1 L251.5,665.4 L251.9,661.3 L252.3,655.3 L252.8,643.9 L253.2,638.8 L253.6,631.8 L254.1,625.3 L254.5,618.5 L254.9,617.2 L255.4,611.4 L255.8,616.3 L256.2,609.1 L256.7,616.7 L257.1,611.6 L257.5,611.6 L258.0,620.1 L258.4,616.4 L258.8,625.0 L259.3,625.1 L259.7,634.3 L260.1,632.0 L260.6,642.2 L261.0,644.3 L261.4,649.8 L261.9,654.2 L262.3,654.6 L262.7,660.8 L263.2,663.7 L263.6,668.4 L264.0,671.1 L264.5,676.6 L264.9,678.4 L265.3,682.6 L265.8,685.9 L266.2,687.2 L266.6,689.1 L267.1,691.0 L267.5,693.6 L267.9,694.3 L268.4,696.1 L268.8,697.0 L269.2,698.1 L269.7,698.8 L270.1,699.2 L270.5,699.8 L271.0,700.3 L271.4,700.7 L271.8,700.9 L272.3,701.1 L272.7,701.4 L273.1,701.5 L273.6,701.6 L274.0,701.7 L274.4,701.8 L274.9,701.8 L275.3,701.9 L275.3,702.0 Z" fill="#1fa843" stroke="none"/>
<path d="M180.0,702.0 L180.4,702.0 L180.9,702.0 L181.3,702.0 L181.7,702.0 L182.2,702.0 L182.6,702.0 L183.0,702.0 L183.5,702.0 L183.9,702.0 L184.3,702.0 L184.8,702.0 L185.2,702.0 L185.6,702.0 L186.1,702.0 L186.5,702.0 L186.9,702.0 L187.4,702.0 L187.8,702.0 L188.2,702.0 L188.7,702.0 L189.1,702.0 L189.5,702.0 L190.0,702.0 L190.4,702.0 L190.8,702.0 L191.3,702.0 L191.7,702.0 L192.1,702.0 L192.6,702.0 L193.0,702.0 L193.4,702.0 L193.9,702.0 L194.3,702.0 L194.7,702.0 L195.2,702.0 L195.6,702.0 L196.0,702.0 L196.5,702.0 L196.9,702.0 L197.3,702.0 L197.8,702.0 L198.2,702.0 L198.6,702.0 L199.1,702.0 L199.5,702.0 L199.9,702.0 L200.4,702.0 L200.8,702.0 L201.2,702.0 L201.7,702.0 L202.1,702.0 L202.5,702.0 L203.0,702.0 L203.4,702.0 L203.8,702.0 L204.3,702.0 L204.7,702.0 L205.1,702.0 L205.6,702.0 L206.0,702.0 L206.4,702.0 L206.9,702.0 L207.3,702.0 L207.7,702.0 L208.2,702.0 L208.6,702.0 L209.0,702.0 L209.5,702.0 L209.9,702.0 L210.3,702.0 L210.8,702.0 L211.2,702.0 L211.6,702.0 L212.1,702.0 L212.5,702.0 L212.9,702.0 L213.4,702.0 L213.8,702.0 L214.2,702.0 L214.7,702.0 L215.1,702.0 L215.5,702.0 L216.0,702.0 L216.4,702.0 L216.8,702.0 L217.3,702.0 L217.7,701.9 L218.1,701.9 L218.6,701.9 L219.0,701.9 L219.4,701.9 L219.9,701.9 L220.3,701.9 L220.7,701.9 L221.2,701.9 L221.6,701.8 L222.0,701.8 L222.5,701.8 L222.9,701.8 L223.3,701.8 L223.8,701.7 L224.2,701.7 L224.6,701.7 L225.1,701.6 L225.5,701.6 L225.9,701.6 L226.4,701.6 L226.8,701.5 L227.2,701.4 L227.7,701.4 L228.1,701.4 L228.5,701.4 L228.9,701.3 L229.4,701.2 L229.8,701.2 L230.2,701.1 L230.7,701.1 L231.1,701.0 L231.5,701.0 L232.0,701.0 L232.4,700.8 L232.8,700.9 L233.3,700.8 L233.7,700.7 L234.1,700.6 L234.6,700.7 L235.0,700.6 L235.4,700.5 L235.9,700.5 L236.3,700.5 L236.7,700.5 L237.2,700.4 L237.6,700.4 L238.0,700.5 L238.5,700.4 L238.9,700.3 L239.3,700.4 L239.8,700.3 L240.2,700.4 L240.6,700.4 L241.1,700.5 L241.5,700.3 L241.9,700.5 L242.4,700.4 L242.8,700.4 L243.2,700.4 L243.7,700.3 L244.1,700.4 L244.5,700.2 L245.0,700.0 L245.4,699.8 L245.8,699.3 L246.3,699.0 L246.7,698.4 L247.1,697.5 L247.6,696.6 L248.0,694.8 L248.4,692.6 L248.9,690.1 L249.3,688.1 L249.7,684.0 L250.2,680.3 L250.6,675.7 L251.0,671.1 L251.5,665.4 L251.9,661.3 L252.3,655.3 L252.8,643.9 L253.2,638.8 L253.6,631.8 L254.1,625.3 L254.5,618.5 L254.9,617.2 L255.4,611.4 L255.8,616.3 L256.2,609.1 L256.7,616.7 L257.1,611.6 L257.5,611.6 L258.0,620.1 L258.4,616.4 L258.8,625.0 L259.3,625.1 L259.7,634.3 L260.1,632.0 L260.6,642.2 L261.0,644.3 L261.4,649.8 L261.9,654.2 L262.3,654.6 L262.7,660.8 L263.2,663.7 L263.6,668.4 L264.0,671.1 L264.5,676.6 L264.9,678.4 L265.3,682.6 L265.8,685.9 L266.2,687.2 L266.6,689.1 L267.1,691.0 L267.5,693.6 L267.9,694.3 L268.4,696.1 L268.8,697.0 L269.2,698.1 L269.7,698.8 L270.1,699.2 L270.5,699.8 L271.0,700.3 L271.4,700.7 L271.8,700.9 L272.3,701.1 L272.7,701.4 L273.1,701.5 L273.6,701.6 L274.0,701.7 L274.4,701.8 L274.9,701.8 L275.3,701.9" fill="none" stroke="#111" stroke-width="0.9" stroke-opacity="0.9"/>
<rect x="180.0" y="605.6" width="95.3" height="96.4" fill="none" stroke="#8a8a8a" stroke-width="0.9"/>
<line x1="180.0" y1="702.0" x2="275.3" y2="702.0" stroke="#555" stroke-width="1"/>
<line x1="180.0" y1="605.6" x2="180.0" y2="702.0" stroke="#777" stroke-width="0.9"/>
<line x1="178.0" y1="702.0" x2="180.0" y2="702.0" stroke="#444" stroke-width="0.8"/>
<text x="177.4" y="704.6" font-size="7.3" text-anchor="end" font-weight="normal" fill="#111" stroke="#111" stroke-width="0.2">0</text>
<line x1="178.0" y1="675.0" x2="180.0" y2="675.0" stroke="#444" stroke-width="0.8"/>
<text x="177.4" y="677.6" font-size="7.3" text-anchor="end" font-weight="normal" fill="#111" stroke="#111" stroke-width="0.2">20</text>
<line x1="178.0" y1="648.1" x2="180.0" y2="648.1" stroke="#444" stroke-width="0.8"/>
<text x="177.4" y="650.7" font-size="7.3" text-anchor="end" font-weight="normal" fill="#111" stroke="#111" stroke-width="0.2">40</text>
<line x1="178.0" y1="621.1" x2="180.0" y2="621.1" stroke="#444" stroke-width="0.8"/>
<text x="177.4" y="623.7" font-size="7.3" text-anchor="end" font-weight="normal" fill="#111" stroke="#111" stroke-width="0.2">60</text>
<line x1="203.8" y1="702.0" x2="203.8" y2="704.0" stroke="#444" stroke-width="0.8"/>
<text x="202.8" y="712.5" font-size="7.3" text-anchor="middle" fill="#111" stroke="#111" stroke-width="0.2">10<tspan font-size="5" dy="-3">0</tspan></text>
<line x1="227.7" y1="702.0" x2="227.7" y2="704.0" stroke="#444" stroke-width="0.8"/>
<text x="226.7" y="712.5" font-size="7.3" text-anchor="middle" fill="#111" stroke="#111" stroke-width="0.2">10<tspan font-size="5" dy="-3">1</tspan></text>
<line x1="251.5" y1="702.0" x2="251.5" y2="704.0" stroke="#444" stroke-width="0.8"/>
<text x="250.5" y="712.5" font-size="7.3" text-anchor="middle" fill="#111" stroke="#111" stroke-width="0.2">10<tspan font-size="5" dy="-3">2</tspan></text>
<line x1="275.3" y1="702.0" x2="275.3" y2="704.0" stroke="#444" stroke-width="0.8"/>
<text x="274.3" y="712.5" font-size="7.3" text-anchor="middle" fill="#111" stroke="#111" stroke-width="0.2">10<tspan font-size="5" dy="-3">3</tspan></text>
<text x="158.2" y="653.8" font-size="11.5" text-anchor="middle" fill="#111" stroke="#111" stroke-width="0.3" transform="rotate(-90 158.2 653.8)" textLength="27" lengthAdjust="spacingAndGlyphs">Count</text>
<text x="227.7" y="726.3" font-size="11" text-anchor="middle" fill="#111" stroke="#111" stroke-width="0.3" textLength="55.0" lengthAdjust="spacingAndGlyphs">RASF3-CD55</text>
<line x1="224" y1="639.4" x2="272.4" y2="639.4" stroke="#777" stroke-width="1"/>
<line x1="224" y1="637.4" x2="224" y2="641.4" stroke="#777" stroke-width="0.8"/>
<line x1="272.4" y1="637.4" x2="272.4" y2="641.4" stroke="#777" stroke-width="0.8"/>
<rect x="226" y="643.5" width="43.7" height="10.4" fill="#fff" fill-opacity="0.55" stroke="#ccc" stroke-width="0.6"/>
<text x="247.8" y="651.9" font-size="8.7" text-anchor="middle" font-weight="normal" fill="#111" stroke="#111" stroke-width="0.2">B: 99.39%</text>
<path d="M335.2,450.1 L335.2,450.1 L335.6,450.1 L336.1,450.1 L336.5,450.1 L336.9,450.1 L337.4,450.1 L337.8,450.1 L338.2,450.1 L338.7,450.1 L339.1,450.1 L339.6,450.1 L340.0,450.1 L340.4,450.1 L340.9,450.1 L341.3,450.1 L341.7,450.1 L342.2,450.1 L342.6,450.1 L343.0,450.1 L343.5,450.1 L343.9,450.1 L344.3,450.1 L344.8,450.1 L345.2,450.1 L345.7,450.1 L346.1,450.1 L346.5,450.1 L347.0,450.1 L347.4,450.1 L347.8,450.1 L348.3,450.1 L348.7,450.1 L349.1,450.1 L349.6,450.1 L350.0,450.0 L350.4,450.0 L350.9,450.0 L351.3,449.9 L351.7,449.7 L352.2,449.5 L352.6,449.2 L353.1,448.7 L353.5,447.9 L353.9,447.1 L354.4,445.5 L354.8,443.8 L355.2,441.9 L355.7,439.0 L356.1,434.7 L356.5,430.3 L357.0,426.8 L357.4,418.2 L357.8,411.0 L358.3,405.5 L358.7,400.5 L359.1,393.0 L359.6,381.0 L360.0,376.1 L360.5,372.2 L360.9,359.9 L361.3,359.5 L361.8,361.7 L362.2,355.1 L362.6,361.6 L363.1,360.9 L363.5,361.8 L363.9,365.0 L364.4,375.8 L364.8,381.6 L365.2,387.2 L365.7,388.1 L366.1,395.7 L366.6,403.0 L367.0,405.9 L367.4,414.1 L367.9,415.8 L368.3,421.9 L368.7,426.3 L369.2,430.5 L369.6,434.0 L370.0,436.2 L370.5,439.3 L370.9,441.8 L371.3,443.5 L371.8,444.7 L372.2,446.1 L372.6,447.2 L373.1,447.9 L373.5,448.4 L374.0,448.8 L374.4,449.1 L374.8,449.4 L375.3,449.7 L375.7,449.8 L376.1,449.9 L376.6,449.9 L377.0,450.0 L377.4,450.0 L377.9,450.1 L378.3,450.1 L378.7,450.1 L379.2,450.1 L379.6,450.1 L380.1,450.1 L380.5,450.1 L380.9,450.1 L381.4,450.1 L381.8,450.1 L382.2,450.1 L382.7,450.1 L383.1,450.1 L383.5,450.1 L384.0,450.1 L384.4,450.1 L384.8,450.1 L385.3,450.1 L385.7,450.1 L386.1,450.1 L386.6,450.1 L387.0,450.1 L387.5,450.1 L387.9,450.1 L388.3,450.1 L388.8,450.1 L389.2,450.1 L389.6,450.1 L390.1,450.1 L390.5,450.1 L390.9,450.1 L391.4,450.1 L391.8,450.1 L392.2,450.1 L392.7,450.1 L393.1,450.1 L393.6,450.1 L394.0,450.1 L394.4,450.1 L394.9,450.1 L395.3,450.1 L395.7,450.1 L396.2,450.1 L396.6,450.1 L397.0,450.1 L397.5,450.1 L397.9,450.1 L398.3,450.1 L398.8,450.1 L399.2,450.1 L399.6,450.1 L400.1,450.1 L400.5,450.1 L401.0,450.1 L401.4,450.1 L401.8,450.1 L402.3,450.1 L402.7,450.1 L403.1,450.1 L403.6,450.1 L404.0,450.1 L404.4,450.1 L404.9,450.1 L405.3,450.1 L405.7,450.1 L406.2,450.1 L406.6,450.1 L407.1,450.1 L407.5,450.1 L407.9,450.1 L408.4,450.1 L408.8,450.1 L409.2,450.1 L409.7,450.1 L410.1,450.1 L410.5,450.1 L411.0,450.1 L411.4,450.1 L411.8,450.1 L412.3,450.1 L412.7,450.1 L413.1,450.1 L413.6,450.1 L414.0,450.1 L414.5,450.1 L414.9,450.1 L415.3,450.1 L415.8,450.1 L416.2,450.1 L416.6,450.1 L417.1,450.1 L417.5,450.1 L417.9,450.1 L418.4,450.1 L418.8,450.1 L419.2,450.1 L419.7,450.1 L420.1,450.1 L420.5,450.1 L421.0,450.1 L421.4,450.1 L421.9,450.1 L422.3,450.1 L422.7,450.1 L423.2,450.1 L423.6,450.1 L424.0,450.1 L424.5,450.1 L424.9,450.1 L425.3,450.1 L425.8,450.1 L426.2,450.1 L426.6,450.1 L427.1,450.1 L427.5,450.1 L428.0,450.1 L428.4,450.1 L428.8,450.1 L429.3,450.1 L429.7,450.1 L430.1,450.1 L430.6,450.1 L431.0,450.1 L431.0,450.1 Z" fill="#e51d24" stroke="none"/>
<path d="M335.2,450.1 L335.6,450.1 L336.1,450.1 L336.5,450.1 L336.9,450.1 L337.4,450.1 L337.8,450.1 L338.2,450.1 L338.7,450.1 L339.1,450.1 L339.6,450.1 L340.0,450.1 L340.4,450.1 L340.9,450.1 L341.3,450.1 L341.7,450.1 L342.2,450.1 L342.6,450.1 L343.0,450.1 L343.5,450.1 L343.9,450.1 L344.3,450.1 L344.8,450.1 L345.2,450.1 L345.7,450.1 L346.1,450.1 L346.5,450.1 L347.0,450.1 L347.4,450.1 L347.8,450.1 L348.3,450.1 L348.7,450.1 L349.1,450.1 L349.6,450.1 L350.0,450.0 L350.4,450.0 L350.9,450.0 L351.3,449.9 L351.7,449.7 L352.2,449.5 L352.6,449.2 L353.1,448.7 L353.5,447.9 L353.9,447.1 L354.4,445.5 L354.8,443.8 L355.2,441.9 L355.7,439.0 L356.1,434.7 L356.5,430.3 L357.0,426.8 L357.4,418.2 L357.8,411.0 L358.3,405.5 L358.7,400.5 L359.1,393.0 L359.6,381.0 L360.0,376.1 L360.5,372.2 L360.9,359.9 L361.3,359.5 L361.8,361.7 L362.2,355.1 L362.6,361.6 L363.1,360.9 L363.5,361.8 L363.9,365.0 L364.4,375.8 L364.8,381.6 L365.2,387.2 L365.7,388.1 L366.1,395.7 L366.6,403.0 L367.0,405.9 L367.4,414.1 L367.9,415.8 L368.3,421.9 L368.7,426.3 L369.2,430.5 L369.6,434.0 L370.0,436.2 L370.5,439.3 L370.9,441.8 L371.3,443.5 L371.8,444.7 L372.2,446.1 L372.6,447.2 L373.1,447.9 L373.5,448.4 L374.0,448.8 L374.4,449.1 L374.8,449.4 L375.3,449.7 L375.7,449.8 L376.1,449.9 L376.6,449.9 L377.0,450.0 L377.4,450.0 L377.9,450.1 L378.3,450.1 L378.7,450.1 L379.2,450.1 L379.6,450.1 L380.1,450.1 L380.5,450.1 L380.9,450.1 L381.4,450.1 L381.8,450.1 L382.2,450.1 L382.7,450.1 L383.1,450.1 L383.5,450.1 L384.0,450.1 L384.4,450.1 L384.8,450.1 L385.3,450.1 L385.7,450.1 L386.1,450.1 L386.6,450.1 L387.0,450.1 L387.5,450.1 L387.9,450.1 L388.3,450.1 L388.8,450.1 L389.2,450.1 L389.6,450.1 L390.1,450.1 L390.5,450.1 L390.9,450.1 L391.4,450.1 L391.8,450.1 L392.2,450.1 L392.7,450.1 L393.1,450.1 L393.6,450.1 L394.0,450.1 L394.4,450.1 L394.9,450.1 L395.3,450.1 L395.7,450.1 L396.2,450.1 L396.6,450.1 L397.0,450.1 L397.5,450.1 L397.9,450.1 L398.3,450.1 L398.8,450.1 L399.2,450.1 L399.6,450.1 L400.1,450.1 L400.5,450.1 L401.0,450.1 L401.4,450.1 L401.8,450.1 L402.3,450.1 L402.7,450.1 L403.1,450.1 L403.6,450.1 L404.0,450.1 L404.4,450.1 L404.9,450.1 L405.3,450.1 L405.7,450.1 L406.2,450.1 L406.6,450.1 L407.1,450.1 L407.5,450.1 L407.9,450.1 L408.4,450.1 L408.8,450.1 L409.2,450.1 L409.7,450.1 L410.1,450.1 L410.5,450.1 L411.0,450.1 L411.4,450.1 L411.8,450.1 L412.3,450.1 L412.7,450.1 L413.1,450.1 L413.6,450.1 L414.0,450.1 L414.5,450.1 L414.9,450.1 L415.3,450.1 L415.8,450.1 L416.2,450.1 L416.6,450.1 L417.1,450.1 L417.5,450.1 L417.9,450.1 L418.4,450.1 L418.8,450.1 L419.2,450.1 L419.7,450.1 L420.1,450.1 L420.5,450.1 L421.0,450.1 L421.4,450.1 L421.9,450.1 L422.3,450.1 L422.7,450.1 L423.2,450.1 L423.6,450.1 L424.0,450.1 L424.5,450.1 L424.9,450.1 L425.3,450.1 L425.8,450.1 L426.2,450.1 L426.6,450.1 L427.1,450.1 L427.5,450.1 L428.0,450.1 L428.4,450.1 L428.8,450.1 L429.3,450.1 L429.7,450.1 L430.1,450.1 L430.6,450.1 L431.0,450.1" fill="none" stroke="#111" stroke-width="0.9" stroke-opacity="0.9"/>
<rect x="335.2" y="354.3" width="95.8" height="95.8" fill="none" stroke="#8a8a8a" stroke-width="0.9"/>
<line x1="335.2" y1="450.1" x2="431.0" y2="450.1" stroke="#555" stroke-width="1"/>
<line x1="335.2" y1="354.3" x2="335.2" y2="450.1" stroke="#777" stroke-width="0.9"/>
<line x1="333.2" y1="450.1" x2="335.2" y2="450.1" stroke="#444" stroke-width="0.8"/>
<text x="332.6" y="452.7" font-size="7.3" text-anchor="end" font-weight="normal" fill="#111" stroke="#111" stroke-width="0.2">0</text>
<line x1="333.2" y1="430.9" x2="335.2" y2="430.9" stroke="#444" stroke-width="0.8"/>
<text x="332.6" y="433.5" font-size="7.3" text-anchor="end" font-weight="normal" fill="#111" stroke="#111" stroke-width="0.2">20</text>
<line x1="333.2" y1="411.8" x2="335.2" y2="411.8" stroke="#444" stroke-width="0.8"/>
<text x="332.6" y="414.4" font-size="7.3" text-anchor="end" font-weight="normal" fill="#111" stroke="#111" stroke-width="0.2">40</text>
<line x1="333.2" y1="392.6" x2="335.2" y2="392.6" stroke="#444" stroke-width="0.8"/>
<text x="332.6" y="395.2" font-size="7.3" text-anchor="end" font-weight="normal" fill="#111" stroke="#111" stroke-width="0.2">60</text>
<line x1="333.2" y1="373.5" x2="335.2" y2="373.5" stroke="#444" stroke-width="0.8"/>
<text x="332.6" y="376.1" font-size="7.3" text-anchor="end" font-weight="normal" fill="#111" stroke="#111" stroke-width="0.2">80</text>
<line x1="333.2" y1="354.3" x2="335.2" y2="354.3" stroke="#444" stroke-width="0.8"/>
<text x="332.6" y="356.9" font-size="7.3" text-anchor="end" font-weight="normal" fill="#111" stroke="#111" stroke-width="0.2">100</text>
<line x1="359.1" y1="450.1" x2="359.1" y2="452.1" stroke="#444" stroke-width="0.8"/>
<text x="358.1" y="460.6" font-size="7.3" text-anchor="middle" fill="#111" stroke="#111" stroke-width="0.2">10<tspan font-size="5" dy="-3">0</tspan></text>
<line x1="383.1" y1="450.1" x2="383.1" y2="452.1" stroke="#444" stroke-width="0.8"/>
<text x="382.1" y="460.6" font-size="7.3" text-anchor="middle" fill="#111" stroke="#111" stroke-width="0.2">10<tspan font-size="5" dy="-3">1</tspan></text>
<line x1="407.1" y1="450.1" x2="407.1" y2="452.1" stroke="#444" stroke-width="0.8"/>
<text x="406.1" y="460.6" font-size="7.3" text-anchor="middle" fill="#111" stroke="#111" stroke-width="0.2">10<tspan font-size="5" dy="-3">2</tspan></text>
<line x1="431.0" y1="450.1" x2="431.0" y2="452.1" stroke="#444" stroke-width="0.8"/>
<text x="430.0" y="460.6" font-size="7.3" text-anchor="middle" fill="#111" stroke="#111" stroke-width="0.2">10<tspan font-size="5" dy="-3">3</tspan></text>
<text x="313.4" y="402.2" font-size="11.5" text-anchor="middle" fill="#111" stroke="#111" stroke-width="0.3" transform="rotate(-90 313.4 402.2)" textLength="27" lengthAdjust="spacingAndGlyphs">Count</text>
<text x="383.1" y="474.4" font-size="11" text-anchor="middle" fill="#111" stroke="#111" stroke-width="0.3" textLength="54.6" lengthAdjust="spacingAndGlyphs">NSF-control</text>
<path d="M481.2,450.5 L481.2,450.5 L481.6,450.5 L482.1,450.5 L482.5,450.5 L482.9,450.5 L483.4,450.5 L483.8,450.5 L484.2,450.5 L484.7,450.5 L485.1,450.5 L485.6,450.5 L486.0,450.5 L486.4,450.5 L486.9,450.5 L487.3,450.5 L487.7,450.5 L488.2,450.5 L488.6,450.5 L489.0,450.5 L489.5,450.5 L489.9,450.5 L490.3,450.5 L490.8,450.5 L491.2,450.5 L491.7,450.5 L492.1,450.5 L492.5,450.5 L493.0,450.5 L493.4,450.5 L493.8,450.5 L494.3,450.5 L494.7,450.5 L495.1,450.5 L495.6,450.5 L496.0,450.5 L496.4,450.5 L496.9,450.5 L497.3,450.5 L497.7,450.5 L498.2,450.5 L498.6,450.5 L499.1,450.5 L499.5,450.5 L499.9,450.5 L500.4,450.5 L500.8,450.5 L501.2,450.5 L501.7,450.5 L502.1,450.5 L502.5,450.5 L503.0,450.5 L503.4,450.5 L503.8,450.5 L504.3,450.5 L504.7,450.5 L505.1,450.5 L505.6,450.5 L506.0,450.5 L506.5,450.5 L506.9,450.5 L507.3,450.5 L507.8,450.5 L508.2,450.5 L508.6,450.5 L509.1,450.5 L509.5,450.5 L509.9,450.5 L510.4,450.5 L510.8,450.5 L511.2,450.5 L511.7,450.5 L512.1,450.5 L512.6,450.5 L513.0,450.5 L513.4,450.5 L513.9,450.5 L514.3,450.5 L514.7,450.5 L515.2,450.5 L515.6,450.5 L516.0,450.5 L516.5,450.5 L516.9,450.4 L517.3,450.4 L517.8,450.4 L518.2,450.3 L518.6,450.3 L519.1,450.2 L519.5,450.1 L520.0,449.9 L520.4,449.7 L520.8,449.4 L521.3,449.2 L521.7,448.7 L522.1,448.1 L522.6,447.7 L523.0,446.5 L523.4,445.9 L523.9,444.9 L524.3,443.1 L524.7,442.0 L525.2,440.4 L525.6,438.1 L526.1,434.5 L526.5,431.4 L526.9,428.5 L527.4,427.2 L527.8,422.6 L528.2,418.2 L528.7,414.4 L529.1,411.7 L529.5,406.5 L530.0,400.6 L530.4,395.3 L530.8,391.0 L531.3,386.7 L531.7,380.5 L532.1,379.4 L532.6,369.5 L533.0,369.7 L533.5,363.3 L533.9,365.7 L534.3,357.7 L534.8,358.6 L535.2,359.3 L535.6,359.3 L536.1,364.8 L536.5,358.4 L536.9,363.4 L537.4,369.2 L537.8,376.3 L538.2,371.2 L538.7,378.7 L539.1,379.3 L539.6,385.4 L540.0,394.6 L540.4,398.1 L540.9,401.4 L541.3,406.7 L541.7,408.8 L542.2,414.3 L542.6,416.1 L543.0,421.3 L543.5,425.3 L543.9,427.8 L544.3,431.2 L544.8,434.3 L545.2,436.8 L545.6,439.1 L546.1,440.0 L546.5,442.3 L547.0,443.4 L547.4,444.8 L547.8,445.9 L548.3,446.4 L548.7,447.1 L549.1,448.1 L549.6,448.5 L550.0,448.9 L550.4,449.2 L550.9,449.4 L551.3,449.7 L551.7,449.9 L552.2,450.0 L552.6,450.2 L553.0,450.2 L553.5,450.3 L553.9,450.3 L554.4,450.4 L554.8,450.4 L555.2,450.4 L555.7,450.5 L556.1,450.5 L556.5,450.5 L557.0,450.5 L557.4,450.5 L557.8,450.5 L558.3,450.5 L558.7,450.5 L559.1,450.5 L559.6,450.5 L560.0,450.5 L560.5,450.5 L560.9,450.5 L561.3,450.5 L561.8,450.5 L562.2,450.5 L562.6,450.5 L563.1,450.5 L563.5,450.5 L563.9,450.5 L564.4,450.5 L564.8,450.5 L565.2,450.5 L565.7,450.5 L566.1,450.5 L566.5,450.5 L567.0,450.5 L567.4,450.5 L567.9,450.5 L568.3,450.5 L568.7,450.5 L569.2,450.5 L569.6,450.5 L570.0,450.5 L570.5,450.5 L570.9,450.5 L571.3,450.5 L571.8,450.5 L572.2,450.5 L572.6,450.5 L573.1,450.5 L573.5,450.5 L574.0,450.5 L574.4,450.5 L574.8,450.5 L575.3,450.5 L575.7,450.5 L576.1,450.5 L576.6,450.5 L577.0,450.5 L577.0,450.5 Z" fill="#e51d24" stroke="none"/>
<path d="M481.2,450.5 L481.6,450.5 L482.1,450.5 L482.5,450.5 L482.9,450.5 L483.4,450.5 L483.8,450.5 L484.2,450.5 L484.7,450.5 L485.1,450.5 L485.6,450.5 L486.0,450.5 L486.4,450.5 L486.9,450.5 L487.3,450.5 L487.7,450.5 L488.2,450.5 L488.6,450.5 L489.0,450.5 L489.5,450.5 L489.9,450.5 L490.3,450.5 L490.8,450.5 L491.2,450.5 L491.7,450.5 L492.1,450.5 L492.5,450.5 L493.0,450.5 L493.4,450.5 L493.8,450.5 L494.3,450.5 L494.7,450.5 L495.1,450.5 L495.6,450.5 L496.0,450.5 L496.4,450.5 L496.9,450.5 L497.3,450.5 L497.7,450.5 L498.2,450.5 L498.6,450.5 L499.1,450.5 L499.5,450.5 L499.9,450.5 L500.4,450.5 L500.8,450.5 L501.2,450.5 L501.7,450.5 L502.1,450.5 L502.5,450.5 L503.0,450.5 L503.4,450.5 L503.8,450.5 L504.3,450.5 L504.7,450.5 L505.1,450.5 L505.6,450.5 L506.0,450.5 L506.5,450.5 L506.9,450.5 L507.3,450.5 L507.8,450.5 L508.2,450.5 L508.6,450.5 L509.1,450.5 L509.5,450.5 L509.9,450.5 L510.4,450.5 L510.8,450.5 L511.2,450.5 L511.7,450.5 L512.1,450.5 L512.6,450.5 L513.0,450.5 L513.4,450.5 L513.9,450.5 L514.3,450.5 L514.7,450.5 L515.2,450.5 L515.6,450.5 L516.0,450.5 L516.5,450.5 L516.9,450.4 L517.3,450.4 L517.8,450.4 L518.2,450.3 L518.6,450.3 L519.1,450.2 L519.5,450.1 L520.0,449.9 L520.4,449.7 L520.8,449.4 L521.3,449.2 L521.7,448.7 L522.1,448.1 L522.6,447.7 L523.0,446.5 L523.4,445.9 L523.9,444.9 L524.3,443.1 L524.7,442.0 L525.2,440.4 L525.6,438.1 L526.1,434.5 L526.5,431.4 L526.9,428.5 L527.4,427.2 L527.8,422.6 L528.2,418.2 L528.7,414.4 L529.1,411.7 L529.5,406.5 L530.0,400.6 L530.4,395.3 L530.8,391.0 L531.3,386.7 L531.7,380.5 L532.1,379.4 L532.6,369.5 L533.0,369.7 L533.5,363.3 L533.9,365.7 L534.3,357.7 L534.8,358.6 L535.2,359.3 L535.6,359.3 L536.1,364.8 L536.5,358.4 L536.9,363.4 L537.4,369.2 L537.8,376.3 L538.2,371.2 L538.7,378.7 L539.1,379.3 L539.6,385.4 L540.0,394.6 L540.4,398.1 L540.9,401.4 L541.3,406.7 L541.7,408.8 L542.2,414.3 L542.6,416.1 L543.0,421.3 L543.5,425.3 L543.9,427.8 L544.3,431.2 L544.8,434.3 L545.2,436.8 L545.6,439.1 L546.1,440.0 L546.5,442.3 L547.0,443.4 L547.4,444.8 L547.8,445.9 L548.3,446.4 L548.7,447.1 L549.1,448.1 L549.6,448.5 L550.0,448.9 L550.4,449.2 L550.9,449.4 L551.3,449.7 L551.7,449.9 L552.2,450.0 L552.6,450.2 L553.0,450.2 L553.5,450.3 L553.9,450.3 L554.4,450.4 L554.8,450.4 L555.2,450.4 L555.7,450.5 L556.1,450.5 L556.5,450.5 L557.0,450.5 L557.4,450.5 L557.8,450.5 L558.3,450.5 L558.7,450.5 L559.1,450.5 L559.6,450.5 L560.0,450.5 L560.5,450.5 L560.9,450.5 L561.3,450.5 L561.8,450.5 L562.2,450.5 L562.6,450.5 L563.1,450.5 L563.5,450.5 L563.9,450.5 L564.4,450.5 L564.8,450.5 L565.2,450.5 L565.7,450.5 L566.1,450.5 L566.5,450.5 L567.0,450.5 L567.4,450.5 L567.9,450.5 L568.3,450.5 L568.7,450.5 L569.2,450.5 L569.6,450.5 L570.0,450.5 L570.5,450.5 L570.9,450.5 L571.3,450.5 L571.8,450.5 L572.2,450.5 L572.6,450.5 L573.1,450.5 L573.5,450.5 L574.0,450.5 L574.4,450.5 L574.8,450.5 L575.3,450.5 L575.7,450.5 L576.1,450.5 L576.6,450.5 L577.0,450.5" fill="none" stroke="#111" stroke-width="0.9" stroke-opacity="0.9"/>
<rect x="481.2" y="354.7" width="95.8" height="95.8" fill="none" stroke="#8a8a8a" stroke-width="0.9"/>
<line x1="481.2" y1="450.5" x2="577.0" y2="450.5" stroke="#555" stroke-width="1"/>
<line x1="481.2" y1="354.7" x2="481.2" y2="450.5" stroke="#777" stroke-width="0.9"/>
<line x1="479.2" y1="450.5" x2="481.2" y2="450.5" stroke="#444" stroke-width="0.8"/>
<text x="478.6" y="453.1" font-size="7.3" text-anchor="end" font-weight="normal" fill="#111" stroke="#111" stroke-width="0.2">0</text>
<line x1="479.2" y1="426.8" x2="481.2" y2="426.8" stroke="#444" stroke-width="0.8"/>
<text x="478.6" y="429.4" font-size="7.3" text-anchor="end" font-weight="normal" fill="#111" stroke="#111" stroke-width="0.2">20</text>
<line x1="479.2" y1="403.1" x2="481.2" y2="403.1" stroke="#444" stroke-width="0.8"/>
<text x="478.6" y="405.7" font-size="7.3" text-anchor="end" font-weight="normal" fill="#111" stroke="#111" stroke-width="0.2">40</text>
<line x1="479.2" y1="379.4" x2="481.2" y2="379.4" stroke="#444" stroke-width="0.8"/>
<text x="478.6" y="382.0" font-size="7.3" text-anchor="end" font-weight="normal" fill="#111" stroke="#111" stroke-width="0.2">60</text>
<line x1="479.2" y1="355.6" x2="481.2" y2="355.6" stroke="#444" stroke-width="0.8"/>
<text x="478.6" y="358.2" font-size="7.3" text-anchor="end" font-weight="normal" fill="#111" stroke="#111" stroke-width="0.2">80</text>
<line x1="505.1" y1="450.5" x2="505.1" y2="452.5" stroke="#444" stroke-width="0.8"/>
<text x="504.1" y="461.0" font-size="7.3" text-anchor="middle" fill="#111" stroke="#111" stroke-width="0.2">10<tspan font-size="5" dy="-3">0</tspan></text>
<line x1="529.1" y1="450.5" x2="529.1" y2="452.5" stroke="#444" stroke-width="0.8"/>
<text x="528.1" y="461.0" font-size="7.3" text-anchor="middle" fill="#111" stroke="#111" stroke-width="0.2">10<tspan font-size="5" dy="-3">1</tspan></text>
<line x1="553.0" y1="450.5" x2="553.0" y2="452.5" stroke="#444" stroke-width="0.8"/>
<text x="552.0" y="461.0" font-size="7.3" text-anchor="middle" fill="#111" stroke="#111" stroke-width="0.2">10<tspan font-size="5" dy="-3">2</tspan></text>
<line x1="577.0" y1="450.5" x2="577.0" y2="452.5" stroke="#444" stroke-width="0.8"/>
<text x="576.0" y="461.0" font-size="7.3" text-anchor="middle" fill="#111" stroke="#111" stroke-width="0.2">10<tspan font-size="5" dy="-3">3</tspan></text>
<text x="459.4" y="402.6" font-size="11.5" text-anchor="middle" fill="#111" stroke="#111" stroke-width="0.3" transform="rotate(-90 459.4 402.6)" textLength="27" lengthAdjust="spacingAndGlyphs">Count</text>
<text x="529.1" y="474.8" font-size="11" text-anchor="middle" fill="#111" stroke="#111" stroke-width="0.3" textLength="52.6" lengthAdjust="spacingAndGlyphs">NSF-ASIC1a</text>
<path d="M335.2,574.7 L335.2,574.7 L335.6,574.7 L336.1,574.7 L336.5,574.7 L336.9,574.7 L337.4,574.7 L337.8,574.7 L338.2,574.7 L338.7,574.7 L339.1,574.7 L339.6,574.7 L340.0,574.7 L340.4,574.7 L340.9,574.7 L341.3,574.7 L341.7,574.7 L342.2,574.7 L342.6,574.7 L343.0,574.7 L343.5,574.7 L343.9,574.7 L344.3,574.7 L344.8,574.7 L345.2,574.7 L345.7,574.7 L346.1,574.7 L346.5,574.7 L347.0,574.7 L347.4,574.7 L347.8,574.6 L348.3,574.6 L348.7,574.5 L349.1,574.4 L349.6,574.2 L350.0,574.0 L350.4,573.5 L350.9,572.9 L351.3,572.1 L351.7,570.9 L352.2,569.6 L352.6,567.5 L353.1,565.5 L353.5,562.6 L353.9,557.3 L354.4,553.4 L354.8,548.8 L355.2,543.2 L355.7,532.7 L356.1,528.7 L356.5,516.8 L357.0,514.3 L357.4,504.5 L357.8,501.6 L358.3,494.5 L358.7,486.8 L359.1,490.5 L359.6,486.6 L360.0,481.4 L360.5,491.6 L360.9,494.1 L361.3,490.2 L361.8,495.9 L362.2,504.6 L362.6,508.2 L363.1,515.1 L363.5,520.8 L363.9,528.9 L364.4,532.9 L364.8,536.7 L365.2,544.3 L365.7,547.9 L366.1,552.1 L366.6,557.8 L367.0,560.9 L367.4,564.0 L367.9,565.5 L368.3,568.0 L368.7,569.4 L369.2,570.5 L369.6,571.6 L370.0,572.4 L370.5,573.1 L370.9,573.5 L371.3,573.8 L371.8,574.1 L372.2,574.3 L372.6,574.4 L373.1,574.5 L373.5,574.6 L374.0,574.6 L374.4,574.6 L374.8,574.7 L375.3,574.7 L375.7,574.7 L376.1,574.7 L376.6,574.7 L377.0,574.7 L377.4,574.7 L377.9,574.7 L378.3,574.7 L378.7,574.7 L379.2,574.7 L379.6,574.7 L380.1,574.7 L380.5,574.7 L380.9,574.7 L381.4,574.7 L381.8,574.7 L382.2,574.7 L382.7,574.7 L383.1,574.7 L383.5,574.7 L384.0,574.7 L384.4,574.7 L384.8,574.7 L385.3,574.7 L385.7,574.7 L386.1,574.7 L386.6,574.7 L387.0,574.7 L387.5,574.7 L387.9,574.7 L388.3,574.7 L388.8,574.7 L389.2,574.7 L389.6,574.7 L390.1,574.7 L390.5,574.7 L390.9,574.7 L391.4,574.7 L391.8,574.7 L392.2,574.7 L392.7,574.7 L393.1,574.7 L393.6,574.7 L394.0,574.7 L394.4,574.7 L394.9,574.7 L395.3,574.7 L395.7,574.7 L396.2,574.7 L396.6,574.7 L397.0,574.7 L397.5,574.7 L397.9,574.7 L398.3,574.7 L398.8,574.7 L399.2,574.7 L399.6,574.7 L400.1,574.7 L400.5,574.7 L401.0,574.7 L401.4,574.7 L401.8,574.7 L402.3,574.7 L402.7,574.7 L403.1,574.7 L403.6,574.7 L404.0,574.7 L404.4,574.7 L404.9,574.7 L405.3,574.7 L405.7,574.7 L406.2,574.7 L406.6,574.7 L407.1,574.7 L407.5,574.7 L407.9,574.7 L408.4,574.7 L408.8,574.7 L409.2,574.7 L409.7,574.7 L410.1,574.7 L410.5,574.7 L411.0,574.7 L411.4,574.7 L411.8,574.7 L412.3,574.7 L412.7,574.7 L413.1,574.7 L413.6,574.7 L414.0,574.7 L414.5,574.7 L414.9,574.7 L415.3,574.7 L415.8,574.7 L416.2,574.7 L416.6,574.7 L417.1,574.7 L417.5,574.7 L417.9,574.7 L418.4,574.7 L418.8,574.7 L419.2,574.7 L419.7,574.7 L420.1,574.7 L420.5,574.7 L421.0,574.7 L421.4,574.7 L421.9,574.7 L422.3,574.7 L422.7,574.7 L423.2,574.7 L423.6,574.7 L424.0,574.7 L424.5,574.7 L424.9,574.7 L425.3,574.7 L425.8,574.7 L426.2,574.7 L426.6,574.7 L427.1,574.7 L427.5,574.7 L428.0,574.7 L428.4,574.7 L428.8,574.7 L429.3,574.7 L429.7,574.7 L430.1,574.7 L430.6,574.7 L431.0,574.7 L431.0,574.7 Z" fill="#e51d24" stroke="none"/>
<path d="M335.2,574.7 L335.6,574.7 L336.1,574.7 L336.5,574.7 L336.9,574.7 L337.4,574.7 L337.8,574.7 L338.2,574.7 L338.7,574.7 L339.1,574.7 L339.6,574.7 L340.0,574.7 L340.4,574.7 L340.9,574.7 L341.3,574.7 L341.7,574.7 L342.2,574.7 L342.6,574.7 L343.0,574.7 L343.5,574.7 L343.9,574.7 L344.3,574.7 L344.8,574.7 L345.2,574.7 L345.7,574.7 L346.1,574.7 L346.5,574.7 L347.0,574.7 L347.4,574.7 L347.8,574.6 L348.3,574.6 L348.7,574.5 L349.1,574.4 L349.6,574.2 L350.0,574.0 L350.4,573.5 L350.9,572.9 L351.3,572.1 L351.7,570.9 L352.2,569.6 L352.6,567.5 L353.1,565.5 L353.5,562.6 L353.9,557.3 L354.4,553.4 L354.8,548.8 L355.2,543.2 L355.7,532.7 L356.1,528.7 L356.5,516.8 L357.0,514.3 L357.4,504.5 L357.8,501.6 L358.3,494.5 L358.7,486.8 L359.1,490.5 L359.6,486.6 L360.0,481.4 L360.5,491.6 L360.9,494.1 L361.3,490.2 L361.8,495.9 L362.2,504.6 L362.6,508.2 L363.1,515.1 L363.5,520.8 L363.9,528.9 L364.4,532.9 L364.8,536.7 L365.2,544.3 L365.7,547.9 L366.1,552.1 L366.6,557.8 L367.0,560.9 L367.4,564.0 L367.9,565.5 L368.3,568.0 L368.7,569.4 L369.2,570.5 L369.6,571.6 L370.0,572.4 L370.5,573.1 L370.9,573.5 L371.3,573.8 L371.8,574.1 L372.2,574.3 L372.6,574.4 L373.1,574.5 L373.5,574.6 L374.0,574.6 L374.4,574.6 L374.8,574.7 L375.3,574.7 L375.7,574.7 L376.1,574.7 L376.6,574.7 L377.0,574.7 L377.4,574.7 L377.9,574.7 L378.3,574.7 L378.7,574.7 L379.2,574.7 L379.6,574.7 L380.1,574.7 L380.5,574.7 L380.9,574.7 L381.4,574.7 L381.8,574.7 L382.2,574.7 L382.7,574.7 L383.1,574.7 L383.5,574.7 L384.0,574.7 L384.4,574.7 L384.8,574.7 L385.3,574.7 L385.7,574.7 L386.1,574.7 L386.6,574.7 L387.0,574.7 L387.5,574.7 L387.9,574.7 L388.3,574.7 L388.8,574.7 L389.2,574.7 L389.6,574.7 L390.1,574.7 L390.5,574.7 L390.9,574.7 L391.4,574.7 L391.8,574.7 L392.2,574.7 L392.7,574.7 L393.1,574.7 L393.6,574.7 L394.0,574.7 L394.4,574.7 L394.9,574.7 L395.3,574.7 L395.7,574.7 L396.2,574.7 L396.6,574.7 L397.0,574.7 L397.5,574.7 L397.9,574.7 L398.3,574.7 L398.8,574.7 L399.2,574.7 L399.6,574.7 L400.1,574.7 L400.5,574.7 L401.0,574.7 L401.4,574.7 L401.8,574.7 L402.3,574.7 L402.7,574.7 L403.1,574.7 L403.6,574.7 L404.0,574.7 L404.4,574.7 L404.9,574.7 L405.3,574.7 L405.7,574.7 L406.2,574.7 L406.6,574.7 L407.1,574.7 L407.5,574.7 L407.9,574.7 L408.4,574.7 L408.8,574.7 L409.2,574.7 L409.7,574.7 L410.1,574.7 L410.5,574.7 L411.0,574.7 L411.4,574.7 L411.8,574.7 L412.3,574.7 L412.7,574.7 L413.1,574.7 L413.6,574.7 L414.0,574.7 L414.5,574.7 L414.9,574.7 L415.3,574.7 L415.8,574.7 L416.2,574.7 L416.6,574.7 L417.1,574.7 L417.5,574.7 L417.9,574.7 L418.4,574.7 L418.8,574.7 L419.2,574.7 L419.7,574.7 L420.1,574.7 L420.5,574.7 L421.0,574.7 L421.4,574.7 L421.9,574.7 L422.3,574.7 L422.7,574.7 L423.2,574.7 L423.6,574.7 L424.0,574.7 L424.5,574.7 L424.9,574.7 L425.3,574.7 L425.8,574.7 L426.2,574.7 L426.6,574.7 L427.1,574.7 L427.5,574.7 L428.0,574.7 L428.4,574.7 L428.8,574.7 L429.3,574.7 L429.7,574.7 L430.1,574.7 L430.6,574.7 L431.0,574.7" fill="none" stroke="#111" stroke-width="0.9" stroke-opacity="0.9"/>
<rect x="335.2" y="479.3" width="95.8" height="95.4" fill="none" stroke="#8a8a8a" stroke-width="0.9"/>
<line x1="335.2" y1="574.7" x2="431.0" y2="574.7" stroke="#555" stroke-width="1"/>
<line x1="335.2" y1="479.3" x2="335.2" y2="574.7" stroke="#777" stroke-width="0.9"/>
<line x1="333.2" y1="574.7" x2="335.2" y2="574.7" stroke="#444" stroke-width="0.8"/>
<text x="332.6" y="577.3" font-size="7.3" text-anchor="end" font-weight="normal" fill="#111" stroke="#111" stroke-width="0.2">0</text>
<line x1="333.2" y1="555.6" x2="335.2" y2="555.6" stroke="#444" stroke-width="0.8"/>
<text x="332.6" y="558.2" font-size="7.3" text-anchor="end" font-weight="normal" fill="#111" stroke="#111" stroke-width="0.2">20</text>
<line x1="333.2" y1="536.5" x2="335.2" y2="536.5" stroke="#444" stroke-width="0.8"/>
<text x="332.6" y="539.1" font-size="7.3" text-anchor="end" font-weight="normal" fill="#111" stroke="#111" stroke-width="0.2">40</text>
<line x1="333.2" y1="517.5" x2="335.2" y2="517.5" stroke="#444" stroke-width="0.8"/>
<text x="332.6" y="520.1" font-size="7.3" text-anchor="end" font-weight="normal" fill="#111" stroke="#111" stroke-width="0.2">60</text>
<line x1="333.2" y1="498.4" x2="335.2" y2="498.4" stroke="#444" stroke-width="0.8"/>
<text x="332.6" y="501.0" font-size="7.3" text-anchor="end" font-weight="normal" fill="#111" stroke="#111" stroke-width="0.2">80</text>
<line x1="333.2" y1="479.3" x2="335.2" y2="479.3" stroke="#444" stroke-width="0.8"/>
<text x="332.6" y="481.9" font-size="7.3" text-anchor="end" font-weight="normal" fill="#111" stroke="#111" stroke-width="0.2">100</text>
<line x1="359.1" y1="574.7" x2="359.1" y2="576.7" stroke="#444" stroke-width="0.8"/>
<text x="358.1" y="585.2" font-size="7.3" text-anchor="middle" fill="#111" stroke="#111" stroke-width="0.2">10<tspan font-size="5" dy="-3">0</tspan></text>
<line x1="383.1" y1="574.7" x2="383.1" y2="576.7" stroke="#444" stroke-width="0.8"/>
<text x="382.1" y="585.2" font-size="7.3" text-anchor="middle" fill="#111" stroke="#111" stroke-width="0.2">10<tspan font-size="5" dy="-3">1</tspan></text>
<line x1="407.1" y1="574.7" x2="407.1" y2="576.7" stroke="#444" stroke-width="0.8"/>
<text x="406.1" y="585.2" font-size="7.3" text-anchor="middle" fill="#111" stroke="#111" stroke-width="0.2">10<tspan font-size="5" dy="-3">2</tspan></text>
<line x1="431.0" y1="574.7" x2="431.0" y2="576.7" stroke="#444" stroke-width="0.8"/>
<text x="430.0" y="585.2" font-size="7.3" text-anchor="middle" fill="#111" stroke="#111" stroke-width="0.2">10<tspan font-size="5" dy="-3">3</tspan></text>
<text x="313.4" y="527.0" font-size="11.5" text-anchor="middle" fill="#111" stroke="#111" stroke-width="0.3" transform="rotate(-90 313.4 527.0)" textLength="27" lengthAdjust="spacingAndGlyphs">Count</text>
<text x="383.1" y="599.0" font-size="11" text-anchor="middle" fill="#111" stroke="#111" stroke-width="0.3" textLength="59.8" lengthAdjust="spacingAndGlyphs">RASF-control</text>
<path d="M481.2,574.7 L481.2,574.7 L481.6,574.7 L482.1,574.7 L482.5,574.7 L482.9,574.7 L483.4,574.7 L483.8,574.7 L484.2,574.7 L484.7,574.7 L485.1,574.7 L485.6,574.7 L486.0,574.7 L486.4,574.7 L486.9,574.7 L487.3,574.7 L487.7,574.7 L488.2,574.7 L488.6,574.7 L489.0,574.7 L489.5,574.7 L489.9,574.7 L490.3,574.7 L490.8,574.7 L491.2,574.7 L491.7,574.7 L492.1,574.7 L492.5,574.7 L493.0,574.7 L493.4,574.7 L493.8,574.7 L494.3,574.7 L494.7,574.7 L495.1,574.7 L495.6,574.7 L496.0,574.7 L496.4,574.7 L496.9,574.7 L497.3,574.7 L497.7,574.7 L498.2,574.7 L498.6,574.7 L499.1,574.7 L499.5,574.7 L499.9,574.7 L500.4,574.7 L500.8,574.7 L501.2,574.7 L501.7,574.7 L502.1,574.7 L502.5,574.7 L503.0,574.7 L503.4,574.7 L503.8,574.7 L504.3,574.7 L504.7,574.7 L505.1,574.7 L505.6,574.7 L506.0,574.7 L506.5,574.7 L506.9,574.7 L507.3,574.7 L507.8,574.6 L508.2,574.6 L508.6,574.6 L509.1,574.6 L509.5,574.6 L509.9,574.6 L510.4,574.6 L510.8,574.5 L511.2,574.5 L511.7,574.5 L512.1,574.5 L512.6,574.4 L513.0,574.4 L513.4,574.4 L513.9,574.3 L514.3,574.3 L514.7,574.2 L515.2,574.2 L515.6,574.2 L516.0,574.1 L516.5,574.0 L516.9,574.0 L517.3,574.0 L517.8,573.8 L518.2,573.8 L518.6,573.8 L519.1,573.7 L519.5,573.7 L520.0,573.6 L520.4,573.5 L520.8,573.4 L521.3,573.4 L521.7,573.3 L522.1,573.2 L522.6,573.2 L523.0,573.2 L523.4,573.1 L523.9,573.0 L524.3,572.9 L524.7,572.9 L525.2,572.9 L525.6,572.9 L526.1,572.8 L526.5,572.8 L526.9,572.9 L527.4,572.8 L527.8,572.8 L528.2,572.9 L528.7,572.7 L529.1,572.8 L529.5,572.7 L530.0,572.7 L530.4,572.4 L530.8,572.2 L531.3,572.3 L531.7,571.7 L532.1,571.4 L532.6,570.9 L533.0,570.3 L533.5,569.2 L533.9,568.6 L534.3,567.1 L534.8,565.9 L535.2,563.7 L535.6,562.3 L536.1,559.6 L536.5,556.5 L536.9,553.5 L537.4,550.0 L537.8,547.8 L538.2,542.0 L538.7,536.8 L539.1,534.6 L539.6,526.8 L540.0,521.2 L540.4,516.0 L540.9,513.3 L541.3,507.5 L541.7,508.6 L542.2,500.6 L542.6,493.1 L543.0,498.0 L543.5,491.7 L543.9,489.2 L544.3,486.5 L544.8,484.7 L545.2,487.9 L545.6,489.8 L546.1,497.9 L546.5,496.3 L547.0,501.0 L547.4,506.3 L547.8,511.9 L548.3,518.9 L548.7,519.7 L549.1,526.8 L549.6,533.4 L550.0,537.3 L550.4,542.1 L550.9,548.4 L551.3,553.2 L551.7,555.8 L552.2,558.5 L552.6,561.3 L553.0,564.5 L553.5,566.2 L553.9,568.3 L554.4,569.8 L554.8,570.7 L555.2,571.9 L555.7,572.4 L556.1,573.0 L556.5,573.5 L557.0,573.8 L557.4,574.1 L557.8,574.2 L558.3,574.4 L558.7,574.5 L559.1,574.5 L559.6,574.6 L560.0,574.6 L560.5,574.7 L560.9,574.7 L561.3,574.7 L561.8,574.7 L562.2,574.7 L562.6,574.7 L563.1,574.7 L563.5,574.7 L563.9,574.7 L564.4,574.7 L564.8,574.7 L565.2,574.7 L565.7,574.7 L566.1,574.7 L566.5,574.7 L567.0,574.7 L567.4,574.7 L567.9,574.7 L568.3,574.7 L568.7,574.7 L569.2,574.7 L569.6,574.7 L570.0,574.7 L570.5,574.7 L570.9,574.7 L571.3,574.7 L571.8,574.7 L572.2,574.7 L572.6,574.7 L573.1,574.7 L573.5,574.7 L574.0,574.7 L574.4,574.7 L574.8,574.7 L575.3,574.7 L575.7,574.7 L576.1,574.7 L576.6,574.7 L577.0,574.7 L577.0,574.7 Z" fill="#e51d24" stroke="none"/>
<path d="M481.2,574.7 L481.6,574.7 L482.1,574.7 L482.5,574.7 L482.9,574.7 L483.4,574.7 L483.8,574.7 L484.2,574.7 L484.7,574.7 L485.1,574.7 L485.6,574.7 L486.0,574.7 L486.4,574.7 L486.9,574.7 L487.3,574.7 L487.7,574.7 L488.2,574.7 L488.6,574.7 L489.0,574.7 L489.5,574.7 L489.9,574.7 L490.3,574.7 L490.8,574.7 L491.2,574.7 L491.7,574.7 L492.1,574.7 L492.5,574.7 L493.0,574.7 L493.4,574.7 L493.8,574.7 L494.3,574.7 L494.7,574.7 L495.1,574.7 L495.6,574.7 L496.0,574.7 L496.4,574.7 L496.9,574.7 L497.3,574.7 L497.7,574.7 L498.2,574.7 L498.6,574.7 L499.1,574.7 L499.5,574.7 L499.9,574.7 L500.4,574.7 L500.8,574.7 L501.2,574.7 L501.7,574.7 L502.1,574.7 L502.5,574.7 L503.0,574.7 L503.4,574.7 L503.8,574.7 L504.3,574.7 L504.7,574.7 L505.1,574.7 L505.6,574.7 L506.0,574.7 L506.5,574.7 L506.9,574.7 L507.3,574.7 L507.8,574.6 L508.2,574.6 L508.6,574.6 L509.1,574.6 L509.5,574.6 L509.9,574.6 L510.4,574.6 L510.8,574.5 L511.2,574.5 L511.7,574.5 L512.1,574.5 L512.6,574.4 L513.0,574.4 L513.4,574.4 L513.9,574.3 L514.3,574.3 L514.7,574.2 L515.2,574.2 L515.6,574.2 L516.0,574.1 L516.5,574.0 L516.9,574.0 L517.3,574.0 L517.8,573.8 L518.2,573.8 L518.6,573.8 L519.1,573.7 L519.5,573.7 L520.0,573.6 L520.4,573.5 L520.8,573.4 L521.3,573.4 L521.7,573.3 L522.1,573.2 L522.6,573.2 L523.0,573.2 L523.4,573.1 L523.9,573.0 L524.3,572.9 L524.7,572.9 L525.2,572.9 L525.6,572.9 L526.1,572.8 L526.5,572.8 L526.9,572.9 L527.4,572.8 L527.8,572.8 L528.2,572.9 L528.7,572.7 L529.1,572.8 L529.5,572.7 L530.0,572.7 L530.4,572.4 L530.8,572.2 L531.3,572.3 L531.7,571.7 L532.1,571.4 L532.6,570.9 L533.0,570.3 L533.5,569.2 L533.9,568.6 L534.3,567.1 L534.8,565.9 L535.2,563.7 L535.6,562.3 L536.1,559.6 L536.5,556.5 L536.9,553.5 L537.4,550.0 L537.8,547.8 L538.2,542.0 L538.7,536.8 L539.1,534.6 L539.6,526.8 L540.0,521.2 L540.4,516.0 L540.9,513.3 L541.3,507.5 L541.7,508.6 L542.2,500.6 L542.6,493.1 L543.0,498.0 L543.5,491.7 L543.9,489.2 L544.3,486.5 L544.8,484.7 L545.2,487.9 L545.6,489.8 L546.1,497.9 L546.5,496.3 L547.0,501.0 L547.4,506.3 L547.8,511.9 L548.3,518.9 L548.7,519.7 L549.1,526.8 L549.6,533.4 L550.0,537.3 L550.4,542.1 L550.9,548.4 L551.3,553.2 L551.7,555.8 L552.2,558.5 L552.6,561.3 L553.0,564.5 L553.5,566.2 L553.9,568.3 L554.4,569.8 L554.8,570.7 L555.2,571.9 L555.7,572.4 L556.1,573.0 L556.5,573.5 L557.0,573.8 L557.4,574.1 L557.8,574.2 L558.3,574.4 L558.7,574.5 L559.1,574.5 L559.6,574.6 L560.0,574.6 L560.5,574.7 L560.9,574.7 L561.3,574.7 L561.8,574.7 L562.2,574.7 L562.6,574.7 L563.1,574.7 L563.5,574.7 L563.9,574.7 L564.4,574.7 L564.8,574.7 L565.2,574.7 L565.7,574.7 L566.1,574.7 L566.5,574.7 L567.0,574.7 L567.4,574.7 L567.9,574.7 L568.3,574.7 L568.7,574.7 L569.2,574.7 L569.6,574.7 L570.0,574.7 L570.5,574.7 L570.9,574.7 L571.3,574.7 L571.8,574.7 L572.2,574.7 L572.6,574.7 L573.1,574.7 L573.5,574.7 L574.0,574.7 L574.4,574.7 L574.8,574.7 L575.3,574.7 L575.7,574.7 L576.1,574.7 L576.6,574.7 L577.0,574.7" fill="none" stroke="#111" stroke-width="0.9" stroke-opacity="0.9"/>
<rect x="481.2" y="479.3" width="95.8" height="95.4" fill="none" stroke="#8a8a8a" stroke-width="0.9"/>
<line x1="481.2" y1="574.7" x2="577.0" y2="574.7" stroke="#555" stroke-width="1"/>
<line x1="481.2" y1="479.3" x2="481.2" y2="574.7" stroke="#777" stroke-width="0.9"/>
<line x1="479.2" y1="574.7" x2="481.2" y2="574.7" stroke="#444" stroke-width="0.8"/>
<text x="478.6" y="577.3" font-size="7.3" text-anchor="end" font-weight="normal" fill="#111" stroke="#111" stroke-width="0.2">0</text>
<line x1="479.2" y1="550.8" x2="481.2" y2="550.8" stroke="#444" stroke-width="0.8"/>
<text x="478.6" y="553.4" font-size="7.3" text-anchor="end" font-weight="normal" fill="#111" stroke="#111" stroke-width="0.2">20</text>
<line x1="479.2" y1="526.9" x2="481.2" y2="526.9" stroke="#444" stroke-width="0.8"/>
<text x="478.6" y="529.5" font-size="7.3" text-anchor="end" font-weight="normal" fill="#111" stroke="#111" stroke-width="0.2">40</text>
<line x1="479.2" y1="503.0" x2="481.2" y2="503.0" stroke="#444" stroke-width="0.8"/>
<text x="478.6" y="505.6" font-size="7.3" text-anchor="end" font-weight="normal" fill="#111" stroke="#111" stroke-width="0.2">60</text>
<line x1="505.1" y1="574.7" x2="505.1" y2="576.7" stroke="#444" stroke-width="0.8"/>
<text x="504.1" y="585.2" font-size="7.3" text-anchor="middle" fill="#111" stroke="#111" stroke-width="0.2">10<tspan font-size="5" dy="-3">0</tspan></text>
<line x1="529.1" y1="574.7" x2="529.1" y2="576.7" stroke="#444" stroke-width="0.8"/>
<text x="528.1" y="585.2" font-size="7.3" text-anchor="middle" fill="#111" stroke="#111" stroke-width="0.2">10<tspan font-size="5" dy="-3">1</tspan></text>
<line x1="553.0" y1="574.7" x2="553.0" y2="576.7" stroke="#444" stroke-width="0.8"/>
<text x="552.0" y="585.2" font-size="7.3" text-anchor="middle" fill="#111" stroke="#111" stroke-width="0.2">10<tspan font-size="5" dy="-3">2</tspan></text>
<line x1="577.0" y1="574.7" x2="577.0" y2="576.7" stroke="#444" stroke-width="0.8"/>
<text x="576.0" y="585.2" font-size="7.3" text-anchor="middle" fill="#111" stroke="#111" stroke-width="0.2">10<tspan font-size="5" dy="-3">3</tspan></text>
<text x="459.4" y="527.0" font-size="11.5" text-anchor="middle" fill="#111" stroke="#111" stroke-width="0.3" transform="rotate(-90 459.4 527.0)" textLength="27" lengthAdjust="spacingAndGlyphs">Count</text>
<text x="529.1" y="599.0" font-size="11" text-anchor="middle" fill="#111" stroke="#111" stroke-width="0.3" textLength="60.8" lengthAdjust="spacingAndGlyphs">RASF1-ASC1a</text>
<path d="M340.1,701.9 L340.1,701.9 L340.5,701.9 L341.0,701.9 L341.4,701.9 L341.8,701.9 L342.3,701.9 L342.7,701.9 L343.2,701.9 L343.6,701.9 L344.0,701.9 L344.5,701.9 L344.9,701.9 L345.3,701.9 L345.8,701.9 L346.2,701.9 L346.6,701.9 L347.1,701.9 L347.5,701.9 L347.9,701.9 L348.4,701.9 L348.8,701.9 L349.3,701.9 L349.7,701.9 L350.1,701.9 L350.6,701.9 L351.0,701.9 L351.4,701.9 L351.9,701.9 L352.3,701.9 L352.7,701.9 L353.2,701.9 L353.6,701.9 L354.0,701.9 L354.5,701.9 L354.9,701.9 L355.4,701.9 L355.8,701.9 L356.2,701.9 L356.7,701.9 L357.1,701.9 L357.5,701.9 L358.0,701.9 L358.4,701.9 L358.8,701.9 L359.3,701.9 L359.7,701.9 L360.2,701.9 L360.6,701.9 L361.0,701.8 L361.5,701.8 L361.9,701.8 L362.3,701.8 L362.8,701.8 L363.2,701.8 L363.6,701.8 L364.1,701.8 L364.5,701.8 L364.9,701.7 L365.4,701.7 L365.8,701.7 L366.3,701.7 L366.7,701.7 L367.1,701.6 L367.6,701.6 L368.0,701.6 L368.4,701.6 L368.9,701.5 L369.3,701.5 L369.7,701.4 L370.2,701.4 L370.6,701.4 L371.0,701.3 L371.5,701.3 L371.9,701.2 L372.4,701.2 L372.8,701.1 L373.2,701.1 L373.7,701.0 L374.1,701.0 L374.5,700.9 L375.0,700.8 L375.4,700.8 L375.8,700.7 L376.3,700.7 L376.7,700.7 L377.2,700.6 L377.6,700.6 L378.0,700.5 L378.5,700.6 L378.9,700.4 L379.3,700.3 L379.8,700.3 L380.2,700.4 L380.6,700.3 L381.1,700.3 L381.5,700.3 L381.9,700.3 L382.4,700.2 L382.8,700.2 L383.3,700.2 L383.7,700.1 L384.1,700.2 L384.6,700.2 L385.0,700.2 L385.4,700.3 L385.9,700.2 L386.3,700.1 L386.7,700.1 L387.2,700.1 L387.6,700.1 L388.1,699.8 L388.5,699.7 L388.9,699.5 L389.4,699.2 L389.8,698.9 L390.2,698.3 L390.7,697.9 L391.1,696.6 L391.5,695.8 L392.0,694.3 L392.4,693.2 L392.8,691.5 L393.3,689.8 L393.7,686.8 L394.2,685.4 L394.6,680.8 L395.0,676.8 L395.5,674.4 L395.9,668.7 L396.3,667.4 L396.8,660.7 L397.2,655.8 L397.6,653.1 L398.1,647.6 L398.5,643.8 L398.9,633.1 L399.4,635.0 L399.8,627.5 L400.3,627.4 L400.7,622.2 L401.1,613.1 L401.6,616.2 L402.0,615.1 L402.4,612.4 L402.9,613.8 L403.3,613.5 L403.7,616.2 L404.2,620.7 L404.6,620.7 L405.1,626.5 L405.5,635.4 L405.9,634.2 L406.4,638.5 L406.8,647.4 L407.2,654.7 L407.7,657.5 L408.1,659.5 L408.5,665.6 L409.0,671.3 L409.4,675.3 L409.8,678.4 L410.3,681.7 L410.7,685.3 L411.2,688.2 L411.6,690.4 L412.0,692.6 L412.5,694.2 L412.9,695.4 L413.3,696.8 L413.8,697.8 L414.2,698.7 L414.6,699.6 L415.1,700.1 L415.5,700.5 L415.9,700.8 L416.4,701.1 L416.8,701.3 L417.3,701.5 L417.7,701.6 L418.1,701.7 L418.6,701.7 L419.0,701.8 L419.4,701.8 L419.9,701.8 L420.3,701.9 L420.7,701.9 L421.2,701.9 L421.6,701.9 L422.1,701.9 L422.5,701.9 L422.9,701.9 L423.4,701.9 L423.8,701.9 L424.2,701.9 L424.7,701.9 L425.1,701.9 L425.5,701.9 L426.0,701.9 L426.4,701.9 L426.8,701.9 L427.3,701.9 L427.7,701.9 L428.2,701.9 L428.6,701.9 L429.0,701.9 L429.5,701.9 L429.9,701.9 L430.3,701.9 L430.8,701.9 L431.2,701.9 L431.6,701.9 L432.1,701.9 L432.5,701.9 L432.9,701.9 L433.4,701.9 L433.8,701.9 L434.3,701.9 L434.7,701.9 L435.1,701.9 L435.6,701.9 L436.0,701.9 L436.0,701.9 Z" fill="#e51d24" stroke="none"/>
<path d="M340.1,701.9 L340.5,701.9 L341.0,701.9 L341.4,701.9 L341.8,701.9 L342.3,701.9 L342.7,701.9 L343.2,701.9 L343.6,701.9 L344.0,701.9 L344.5,701.9 L344.9,701.9 L345.3,701.9 L345.8,701.9 L346.2,701.9 L346.6,701.9 L347.1,701.9 L347.5,701.9 L347.9,701.9 L348.4,701.9 L348.8,701.9 L349.3,701.9 L349.7,701.9 L350.1,701.9 L350.6,701.9 L351.0,701.9 L351.4,701.9 L351.9,701.9 L352.3,701.9 L352.7,701.9 L353.2,701.9 L353.6,701.9 L354.0,701.9 L354.5,701.9 L354.9,701.9 L355.4,701.9 L355.8,701.9 L356.2,701.9 L356.7,701.9 L357.1,701.9 L357.5,701.9 L358.0,701.9 L358.4,701.9 L358.8,701.9 L359.3,701.9 L359.7,701.9 L360.2,701.9 L360.6,701.9 L361.0,701.8 L361.5,701.8 L361.9,701.8 L362.3,701.8 L362.8,701.8 L363.2,701.8 L363.6,701.8 L364.1,701.8 L364.5,701.8 L364.9,701.7 L365.4,701.7 L365.8,701.7 L366.3,701.7 L366.7,701.7 L367.1,701.6 L367.6,701.6 L368.0,701.6 L368.4,701.6 L368.9,701.5 L369.3,701.5 L369.7,701.4 L370.2,701.4 L370.6,701.4 L371.0,701.3 L371.5,701.3 L371.9,701.2 L372.4,701.2 L372.8,701.1 L373.2,701.1 L373.7,701.0 L374.1,701.0 L374.5,700.9 L375.0,700.8 L375.4,700.8 L375.8,700.7 L376.3,700.7 L376.7,700.7 L377.2,700.6 L377.6,700.6 L378.0,700.5 L378.5,700.6 L378.9,700.4 L379.3,700.3 L379.8,700.3 L380.2,700.4 L380.6,700.3 L381.1,700.3 L381.5,700.3 L381.9,700.3 L382.4,700.2 L382.8,700.2 L383.3,700.2 L383.7,700.1 L384.1,700.2 L384.6,700.2 L385.0,700.2 L385.4,700.3 L385.9,700.2 L386.3,700.1 L386.7,700.1 L387.2,700.1 L387.6,700.1 L388.1,699.8 L388.5,699.7 L388.9,699.5 L389.4,699.2 L389.8,698.9 L390.2,698.3 L390.7,697.9 L391.1,696.6 L391.5,695.8 L392.0,694.3 L392.4,693.2 L392.8,691.5 L393.3,689.8 L393.7,686.8 L394.2,685.4 L394.6,680.8 L395.0,676.8 L395.5,674.4 L395.9,668.7 L396.3,667.4 L396.8,660.7 L397.2,655.8 L397.6,653.1 L398.1,647.6 L398.5,643.8 L398.9,633.1 L399.4,635.0 L399.8,627.5 L400.3,627.4 L400.7,622.2 L401.1,613.1 L401.6,616.2 L402.0,615.1 L402.4,612.4 L402.9,613.8 L403.3,613.5 L403.7,616.2 L404.2,620.7 L404.6,620.7 L405.1,626.5 L405.5,635.4 L405.9,634.2 L406.4,638.5 L406.8,647.4 L407.2,654.7 L407.7,657.5 L408.1,659.5 L408.5,665.6 L409.0,671.3 L409.4,675.3 L409.8,678.4 L410.3,681.7 L410.7,685.3 L411.2,688.2 L411.6,690.4 L412.0,692.6 L412.5,694.2 L412.9,695.4 L413.3,696.8 L413.8,697.8 L414.2,698.7 L414.6,699.6 L415.1,700.1 L415.5,700.5 L415.9,700.8 L416.4,701.1 L416.8,701.3 L417.3,701.5 L417.7,701.6 L418.1,701.7 L418.6,701.7 L419.0,701.8 L419.4,701.8 L419.9,701.8 L420.3,701.9 L420.7,701.9 L421.2,701.9 L421.6,701.9 L422.1,701.9 L422.5,701.9 L422.9,701.9 L423.4,701.9 L423.8,701.9 L424.2,701.9 L424.7,701.9 L425.1,701.9 L425.5,701.9 L426.0,701.9 L426.4,701.9 L426.8,701.9 L427.3,701.9 L427.7,701.9 L428.2,701.9 L428.6,701.9 L429.0,701.9 L429.5,701.9 L429.9,701.9 L430.3,701.9 L430.8,701.9 L431.2,701.9 L431.6,701.9 L432.1,701.9 L432.5,701.9 L432.9,701.9 L433.4,701.9 L433.8,701.9 L434.3,701.9 L434.7,701.9 L435.1,701.9 L435.6,701.9 L436.0,701.9" fill="none" stroke="#111" stroke-width="0.9" stroke-opacity="0.9"/>
<rect x="340.1" y="606.0" width="95.9" height="95.9" fill="none" stroke="#8a8a8a" stroke-width="0.9"/>
<line x1="340.1" y1="701.9" x2="436.0" y2="701.9" stroke="#555" stroke-width="1"/>
<line x1="340.1" y1="606.0" x2="340.1" y2="701.9" stroke="#777" stroke-width="0.9"/>
<line x1="338.1" y1="701.9" x2="340.1" y2="701.9" stroke="#444" stroke-width="0.8"/>
<text x="337.5" y="704.5" font-size="7.3" text-anchor="end" font-weight="normal" fill="#111" stroke="#111" stroke-width="0.2">0</text>
<line x1="338.1" y1="679.5" x2="340.1" y2="679.5" stroke="#444" stroke-width="0.8"/>
<text x="337.5" y="682.1" font-size="7.3" text-anchor="end" font-weight="normal" fill="#111" stroke="#111" stroke-width="0.2">20</text>
<line x1="338.1" y1="657.1" x2="340.1" y2="657.1" stroke="#444" stroke-width="0.8"/>
<text x="337.5" y="659.7" font-size="7.3" text-anchor="end" font-weight="normal" fill="#111" stroke="#111" stroke-width="0.2">40</text>
<line x1="338.1" y1="634.8" x2="340.1" y2="634.8" stroke="#444" stroke-width="0.8"/>
<text x="337.5" y="637.4" font-size="7.3" text-anchor="end" font-weight="normal" fill="#111" stroke="#111" stroke-width="0.2">60</text>
<line x1="338.1" y1="612.4" x2="340.1" y2="612.4" stroke="#444" stroke-width="0.8"/>
<text x="337.5" y="615.0" font-size="7.3" text-anchor="end" font-weight="normal" fill="#111" stroke="#111" stroke-width="0.2">80</text>
<line x1="364.1" y1="701.9" x2="364.1" y2="703.9" stroke="#444" stroke-width="0.8"/>
<text x="363.1" y="712.4" font-size="7.3" text-anchor="middle" fill="#111" stroke="#111" stroke-width="0.2">10<tspan font-size="5" dy="-3">0</tspan></text>
<line x1="388.1" y1="701.9" x2="388.1" y2="703.9" stroke="#444" stroke-width="0.8"/>
<text x="387.1" y="712.4" font-size="7.3" text-anchor="middle" fill="#111" stroke="#111" stroke-width="0.2">10<tspan font-size="5" dy="-3">1</tspan></text>
<line x1="412.0" y1="701.9" x2="412.0" y2="703.9" stroke="#444" stroke-width="0.8"/>
<text x="411.0" y="712.4" font-size="7.3" text-anchor="middle" fill="#111" stroke="#111" stroke-width="0.2">10<tspan font-size="5" dy="-3">2</tspan></text>
<line x1="436.0" y1="701.9" x2="436.0" y2="703.9" stroke="#444" stroke-width="0.8"/>
<text x="435.0" y="712.4" font-size="7.3" text-anchor="middle" fill="#111" stroke="#111" stroke-width="0.2">10<tspan font-size="5" dy="-3">3</tspan></text>
<text x="318.3" y="654.0" font-size="11.5" text-anchor="middle" fill="#111" stroke="#111" stroke-width="0.3" transform="rotate(-90 318.3 654.0)" textLength="27" lengthAdjust="spacingAndGlyphs">Count</text>
<text x="388.1" y="726.2" font-size="11" text-anchor="middle" fill="#111" stroke="#111" stroke-width="0.3" textLength="63.2" lengthAdjust="spacingAndGlyphs">RASF2-ASIC1a</text>
<path d="M485.7,701.9 L485.7,701.9 L486.1,701.9 L486.6,701.9 L487.0,701.9 L487.5,701.9 L487.9,701.9 L488.3,701.9 L488.8,701.9 L489.2,701.9 L489.6,701.9 L490.1,701.9 L490.5,701.9 L491.0,701.9 L491.4,701.9 L491.8,701.9 L492.3,701.9 L492.7,701.9 L493.1,701.9 L493.6,701.9 L494.0,701.9 L494.5,701.9 L494.9,701.9 L495.3,701.9 L495.8,701.9 L496.2,701.9 L496.6,701.9 L497.1,701.9 L497.5,701.9 L498.0,701.9 L498.4,701.9 L498.8,701.9 L499.3,701.9 L499.7,701.9 L500.1,701.9 L500.6,701.9 L501.0,701.9 L501.5,701.9 L501.9,701.9 L502.3,701.9 L502.8,701.9 L503.2,701.9 L503.6,701.9 L504.1,701.9 L504.5,701.9 L505.0,701.9 L505.4,701.9 L505.8,701.9 L506.3,701.9 L506.7,701.9 L507.1,701.9 L507.6,701.9 L508.0,701.9 L508.5,701.9 L508.9,701.9 L509.3,701.9 L509.8,701.9 L510.2,701.8 L510.7,701.8 L511.1,701.8 L511.5,701.8 L512.0,701.8 L512.4,701.8 L512.8,701.8 L513.3,701.8 L513.7,701.8 L514.2,701.7 L514.6,701.7 L515.0,701.7 L515.5,701.7 L515.9,701.7 L516.3,701.6 L516.8,701.6 L517.2,701.6 L517.7,701.5 L518.1,701.5 L518.5,701.5 L519.0,701.5 L519.4,701.4 L519.8,701.4 L520.3,701.3 L520.7,701.3 L521.2,701.3 L521.6,701.2 L522.0,701.2 L522.5,701.1 L522.9,701.1 L523.3,701.1 L523.8,701.0 L524.2,701.0 L524.7,700.9 L525.1,700.9 L525.5,700.9 L526.0,700.8 L526.4,700.8 L526.8,700.7 L527.3,700.8 L527.7,700.7 L528.2,700.6 L528.6,700.6 L529.0,700.7 L529.5,700.5 L529.9,700.6 L530.3,700.6 L530.8,700.6 L531.2,700.5 L531.7,700.6 L532.1,700.6 L532.5,700.5 L533.0,700.6 L533.4,700.5 L533.9,700.4 L534.3,700.5 L534.7,700.3 L535.2,700.2 L535.6,700.0 L536.0,700.0 L536.5,699.5 L536.9,699.4 L537.4,698.9 L537.8,698.3 L538.2,697.6 L538.7,696.7 L539.1,695.1 L539.5,693.7 L540.0,692.0 L540.4,690.4 L540.9,688.1 L541.3,684.5 L541.7,682.3 L542.2,679.4 L542.6,674.6 L543.0,670.8 L543.5,667.6 L543.9,660.0 L544.4,655.7 L544.8,650.4 L545.2,642.0 L545.7,643.3 L546.1,631.5 L546.5,631.9 L547.0,625.2 L547.4,625.6 L547.9,620.3 L548.3,611.8 L548.7,619.9 L549.2,612.7 L549.6,615.0 L550.0,611.3 L550.5,618.2 L550.9,622.8 L551.4,625.5 L551.8,625.5 L552.2,631.9 L552.7,638.1 L553.1,641.7 L553.5,650.5 L554.0,653.1 L554.4,659.0 L554.9,662.7 L555.3,669.3 L555.7,675.0 L556.2,678.0 L556.6,681.7 L557.0,684.4 L557.5,686.9 L557.9,690.3 L558.4,692.6 L558.8,694.0 L559.2,695.9 L559.7,696.8 L560.1,697.9 L560.6,698.9 L561.0,699.6 L561.4,700.1 L561.9,700.7 L562.3,700.9 L562.7,701.2 L563.2,701.4 L563.6,701.5 L564.1,701.6 L564.5,701.7 L564.9,701.8 L565.4,701.8 L565.8,701.8 L566.2,701.9 L566.7,701.9 L567.1,701.9 L567.6,701.9 L568.0,701.9 L568.4,701.9 L568.9,701.9 L569.3,701.9 L569.7,701.9 L570.2,701.9 L570.6,701.9 L571.1,701.9 L571.5,701.9 L571.9,701.9 L572.4,701.9 L572.8,701.9 L573.2,701.9 L573.7,701.9 L574.1,701.9 L574.6,701.9 L575.0,701.9 L575.4,701.9 L575.9,701.9 L576.3,701.9 L576.7,701.9 L577.2,701.9 L577.6,701.9 L578.1,701.9 L578.5,701.9 L578.9,701.9 L579.4,701.9 L579.8,701.9 L580.2,701.9 L580.7,701.9 L581.1,701.9 L581.6,701.9 L582.0,701.9 L582.0,701.9 Z" fill="#e51d24" stroke="none"/>
<path d="M485.7,701.9 L486.1,701.9 L486.6,701.9 L487.0,701.9 L487.5,701.9 L487.9,701.9 L488.3,701.9 L488.8,701.9 L489.2,701.9 L489.6,701.9 L490.1,701.9 L490.5,701.9 L491.0,701.9 L491.4,701.9 L491.8,701.9 L492.3,701.9 L492.7,701.9 L493.1,701.9 L493.6,701.9 L494.0,701.9 L494.5,701.9 L494.9,701.9 L495.3,701.9 L495.8,701.9 L496.2,701.9 L496.6,701.9 L497.1,701.9 L497.5,701.9 L498.0,701.9 L498.4,701.9 L498.8,701.9 L499.3,701.9 L499.7,701.9 L500.1,701.9 L500.6,701.9 L501.0,701.9 L501.5,701.9 L501.9,701.9 L502.3,701.9 L502.8,701.9 L503.2,701.9 L503.6,701.9 L504.1,701.9 L504.5,701.9 L505.0,701.9 L505.4,701.9 L505.8,701.9 L506.3,701.9 L506.7,701.9 L507.1,701.9 L507.6,701.9 L508.0,701.9 L508.5,701.9 L508.9,701.9 L509.3,701.9 L509.8,701.9 L510.2,701.8 L510.7,701.8 L511.1,701.8 L511.5,701.8 L512.0,701.8 L512.4,701.8 L512.8,701.8 L513.3,701.8 L513.7,701.8 L514.2,701.7 L514.6,701.7 L515.0,701.7 L515.5,701.7 L515.9,701.7 L516.3,701.6 L516.8,701.6 L517.2,701.6 L517.7,701.5 L518.1,701.5 L518.5,701.5 L519.0,701.5 L519.4,701.4 L519.8,701.4 L520.3,701.3 L520.7,701.3 L521.2,701.3 L521.6,701.2 L522.0,701.2 L522.5,701.1 L522.9,701.1 L523.3,701.1 L523.8,701.0 L524.2,701.0 L524.7,700.9 L525.1,700.9 L525.5,700.9 L526.0,700.8 L526.4,700.8 L526.8,700.7 L527.3,700.8 L527.7,700.7 L528.2,700.6 L528.6,700.6 L529.0,700.7 L529.5,700.5 L529.9,700.6 L530.3,700.6 L530.8,700.6 L531.2,700.5 L531.7,700.6 L532.1,700.6 L532.5,700.5 L533.0,700.6 L533.4,700.5 L533.9,700.4 L534.3,700.5 L534.7,700.3 L535.2,700.2 L535.6,700.0 L536.0,700.0 L536.5,699.5 L536.9,699.4 L537.4,698.9 L537.8,698.3 L538.2,697.6 L538.7,696.7 L539.1,695.1 L539.5,693.7 L540.0,692.0 L540.4,690.4 L540.9,688.1 L541.3,684.5 L541.7,682.3 L542.2,679.4 L542.6,674.6 L543.0,670.8 L543.5,667.6 L543.9,660.0 L544.4,655.7 L544.8,650.4 L545.2,642.0 L545.7,643.3 L546.1,631.5 L546.5,631.9 L547.0,625.2 L547.4,625.6 L547.9,620.3 L548.3,611.8 L548.7,619.9 L549.2,612.7 L549.6,615.0 L550.0,611.3 L550.5,618.2 L550.9,622.8 L551.4,625.5 L551.8,625.5 L552.2,631.9 L552.7,638.1 L553.1,641.7 L553.5,650.5 L554.0,653.1 L554.4,659.0 L554.9,662.7 L555.3,669.3 L555.7,675.0 L556.2,678.0 L556.6,681.7 L557.0,684.4 L557.5,686.9 L557.9,690.3 L558.4,692.6 L558.8,694.0 L559.2,695.9 L559.7,696.8 L560.1,697.9 L560.6,698.9 L561.0,699.6 L561.4,700.1 L561.9,700.7 L562.3,700.9 L562.7,701.2 L563.2,701.4 L563.6,701.5 L564.1,701.6 L564.5,701.7 L564.9,701.8 L565.4,701.8 L565.8,701.8 L566.2,701.9 L566.7,701.9 L567.1,701.9 L567.6,701.9 L568.0,701.9 L568.4,701.9 L568.9,701.9 L569.3,701.9 L569.7,701.9 L570.2,701.9 L570.6,701.9 L571.1,701.9 L571.5,701.9 L571.9,701.9 L572.4,701.9 L572.8,701.9 L573.2,701.9 L573.7,701.9 L574.1,701.9 L574.6,701.9 L575.0,701.9 L575.4,701.9 L575.9,701.9 L576.3,701.9 L576.7,701.9 L577.2,701.9 L577.6,701.9 L578.1,701.9 L578.5,701.9 L578.9,701.9 L579.4,701.9 L579.8,701.9 L580.2,701.9 L580.7,701.9 L581.1,701.9 L581.6,701.9 L582.0,701.9" fill="none" stroke="#111" stroke-width="0.9" stroke-opacity="0.9"/>
<rect x="485.7" y="606.5" width="96.3" height="95.4" fill="none" stroke="#8a8a8a" stroke-width="0.9"/>
<line x1="485.7" y1="701.9" x2="582.0" y2="701.9" stroke="#555" stroke-width="1"/>
<line x1="485.7" y1="606.5" x2="485.7" y2="701.9" stroke="#777" stroke-width="0.9"/>
<line x1="483.7" y1="701.9" x2="485.7" y2="701.9" stroke="#444" stroke-width="0.8"/>
<text x="483.1" y="704.5" font-size="7.3" text-anchor="end" font-weight="normal" fill="#111" stroke="#111" stroke-width="0.2">0</text>
<line x1="483.7" y1="679.5" x2="485.7" y2="679.5" stroke="#444" stroke-width="0.8"/>
<text x="483.1" y="682.1" font-size="7.3" text-anchor="end" font-weight="normal" fill="#111" stroke="#111" stroke-width="0.2">20</text>
<line x1="483.7" y1="657.2" x2="485.7" y2="657.2" stroke="#444" stroke-width="0.8"/>
<text x="483.1" y="659.8" font-size="7.3" text-anchor="end" font-weight="normal" fill="#111" stroke="#111" stroke-width="0.2">40</text>
<line x1="483.7" y1="634.8" x2="485.7" y2="634.8" stroke="#444" stroke-width="0.8"/>
<text x="483.1" y="637.4" font-size="7.3" text-anchor="end" font-weight="normal" fill="#111" stroke="#111" stroke-width="0.2">60</text>
<line x1="483.7" y1="612.4" x2="485.7" y2="612.4" stroke="#444" stroke-width="0.8"/>
<text x="483.1" y="615.0" font-size="7.3" text-anchor="end" font-weight="normal" fill="#111" stroke="#111" stroke-width="0.2">80</text>
<line x1="509.8" y1="701.9" x2="509.8" y2="703.9" stroke="#444" stroke-width="0.8"/>
<text x="508.8" y="712.4" font-size="7.3" text-anchor="middle" fill="#111" stroke="#111" stroke-width="0.2">10<tspan font-size="5" dy="-3">0</tspan></text>
<line x1="533.9" y1="701.9" x2="533.9" y2="703.9" stroke="#444" stroke-width="0.8"/>
<text x="532.9" y="712.4" font-size="7.3" text-anchor="middle" fill="#111" stroke="#111" stroke-width="0.2">10<tspan font-size="5" dy="-3">1</tspan></text>
<line x1="557.9" y1="701.9" x2="557.9" y2="703.9" stroke="#444" stroke-width="0.8"/>
<text x="556.9" y="712.4" font-size="7.3" text-anchor="middle" fill="#111" stroke="#111" stroke-width="0.2">10<tspan font-size="5" dy="-3">2</tspan></text>
<line x1="582.0" y1="701.9" x2="582.0" y2="703.9" stroke="#444" stroke-width="0.8"/>
<text x="581.0" y="712.4" font-size="7.3" text-anchor="middle" fill="#111" stroke="#111" stroke-width="0.2">10<tspan font-size="5" dy="-3">3</tspan></text>
<text x="463.9" y="654.2" font-size="11.5" text-anchor="middle" fill="#111" stroke="#111" stroke-width="0.3" transform="rotate(-90 463.9 654.2)" textLength="27" lengthAdjust="spacingAndGlyphs">Count</text>
<text x="533.9" y="726.2" font-size="11" text-anchor="middle" fill="#111" stroke="#111" stroke-width="0.3" textLength="64.2" lengthAdjust="spacingAndGlyphs">RASF3-ASIC1a</text>
<line x1="434" y1="74.1" x2="434" y2="138.8" stroke="#111" stroke-width="1.3"/>
<line x1="434" y1="138.8" x2="531" y2="138.8" stroke="#111" stroke-width="1.3"/>
<line x1="431.5" y1="138.8" x2="434" y2="138.8" stroke="#111" stroke-width="1.2"/>
<text x="432.2" y="142.5" font-size="10.3" text-anchor="end" font-weight="bold" fill="#111" >0.0</text>
<line x1="431.5" y1="117.4" x2="434" y2="117.4" stroke="#111" stroke-width="1.2"/>
<text x="432.2" y="121.1" font-size="10.3" text-anchor="end" font-weight="bold" fill="#111" >0.5</text>
<line x1="431.5" y1="96.0" x2="434" y2="96.0" stroke="#111" stroke-width="1.2"/>
<text x="432.2" y="99.7" font-size="10.3" text-anchor="end" font-weight="bold" fill="#111" >1.0</text>
<line x1="431.5" y1="74.6" x2="434" y2="74.6" stroke="#111" stroke-width="1.2"/>
<text x="432.2" y="78.3" font-size="10.3" text-anchor="end" font-weight="bold" fill="#111" >1.5</text>
<line x1="446.9" y1="138.8" x2="446.9" y2="141.3" stroke="#111" stroke-width="1.2"/>
<line x1="470.6" y1="138.8" x2="470.6" y2="141.3" stroke="#111" stroke-width="1.2"/>
<line x1="494.9" y1="138.8" x2="494.9" y2="141.3" stroke="#111" stroke-width="1.2"/>
<line x1="518.9" y1="138.8" x2="518.9" y2="141.3" stroke="#111" stroke-width="1.2"/>
<line x1="439.4" y1="121.3" x2="454.4" y2="121.3" stroke="#111" stroke-width="1.1"/>
<line x1="446.9" y1="118.7" x2="446.9" y2="123.8" stroke="#111" stroke-width="1.1"/>
<line x1="443.4" y1="118.7" x2="450.4" y2="118.7" stroke="#111" stroke-width="1.1"/>
<line x1="443.4" y1="123.8" x2="450.4" y2="123.8" stroke="#111" stroke-width="1.1"/>
<circle cx="446.9" cy="118.7" r="1.76" fill="#111"/>
<circle cx="444.9" cy="123.8" r="1.76" fill="#111"/>
<rect x="447.3" y="119.2" width="3.2" height="3.2" fill="#111"/>
<line x1="463.1" y1="99.4" x2="478.1" y2="99.4" stroke="#111" stroke-width="1.1"/>
<line x1="470.6" y1="96.0" x2="470.6" y2="102.8" stroke="#111" stroke-width="1.1"/>
<line x1="467.1" y1="96.0" x2="474.1" y2="96.0" stroke="#111" stroke-width="1.1"/>
<line x1="467.1" y1="102.8" x2="474.1" y2="102.8" stroke="#111" stroke-width="1.1"/>
<circle cx="470.6" cy="96.0" r="1.76" fill="#111"/>
<circle cx="470.6" cy="103.3" r="1.76" fill="#111"/>
<rect x="469.0" y="97.8" width="3.2" height="3.2" fill="#111"/>
<line x1="487.4" y1="99.4" x2="502.4" y2="99.4" stroke="#111" stroke-width="1.1"/>
<line x1="494.9" y1="96.0" x2="494.9" y2="102.8" stroke="#111" stroke-width="1.1"/>
<line x1="491.4" y1="96.0" x2="498.4" y2="96.0" stroke="#111" stroke-width="1.1"/>
<line x1="491.4" y1="102.8" x2="498.4" y2="102.8" stroke="#111" stroke-width="1.1"/>
<rect x="493.3" y="94.4" width="3.2" height="3.2" fill="#111"/>
<circle cx="494.9" cy="103.3" r="1.76" fill="#111"/>
<path d="M492.5,101.2 L497.3,101.2 L494.9,97.1 Z" fill="#111"/>
<line x1="511.4" y1="101.6" x2="526.4" y2="101.6" stroke="#111" stroke-width="1.1"/>
<line x1="518.9" y1="99.4" x2="518.9" y2="103.7" stroke="#111" stroke-width="1.1"/>
<line x1="515.4" y1="99.4" x2="522.4" y2="99.4" stroke="#111" stroke-width="1.1"/>
<line x1="515.4" y1="103.7" x2="522.4" y2="103.7" stroke="#111" stroke-width="1.1"/>
<rect x="517.3" y="97.4" width="3.2" height="3.2" fill="#111"/>
<circle cx="518.9" cy="103.7" r="1.76" fill="#111"/>
<path d="M516.5,103.4 L521.3,103.4 L518.9,99.3 Z" fill="#111"/>
<line x1="446.9" y1="74.2" x2="518.9" y2="74.2" stroke="#444" stroke-width="0.9"/>
<text x="482.9" y="75.5" font-size="8.5" text-anchor="middle" font-weight="bold" fill="#222" >***</text>
<line x1="446.9" y1="82.2" x2="494.9" y2="82.2" stroke="#444" stroke-width="0.9"/>
<text x="470.9" y="83.5" font-size="8.5" text-anchor="middle" font-weight="bold" fill="#222" >***</text>
<line x1="446.9" y1="90.4" x2="470.6" y2="90.4" stroke="#444" stroke-width="0.9"/>
<text x="458.8" y="91.7" font-size="8.5" text-anchor="middle" font-weight="bold" fill="#222" >***</text>
<text x="414" y="104" font-size="10" font-weight="bold" text-anchor="middle" fill="#111" transform="rotate(-90 414 104)">ASIC1a/β-actin</text>
<text x="449.4" y="147.3" font-size="10.5" font-weight="bold" text-anchor="end" fill="#111" transform="rotate(-45 449.4 147.3)">NSF</text>
<text x="473.1" y="147.3" font-size="10.5" font-weight="bold" text-anchor="end" fill="#111" transform="rotate(-45 473.1 147.3)">RASF1</text>
<text x="497.4" y="147.3" font-size="10.5" font-weight="bold" text-anchor="end" fill="#111" transform="rotate(-45 497.4 147.3)">RASF2</text>
<text x="521.4" y="147.3" font-size="10.5" font-weight="bold" text-anchor="end" fill="#111" transform="rotate(-45 521.4 147.3)">RASF3</text>
<line x1="427.8" y1="250.3" x2="427.8" y2="315.9" stroke="#111" stroke-width="1.3"/>
<line x1="427.8" y1="315.9" x2="525.5" y2="315.9" stroke="#111" stroke-width="1.3"/>
<line x1="425.3" y1="315.9" x2="427.8" y2="315.9" stroke="#111" stroke-width="1.2"/>
<text x="426.0" y="319.6" font-size="10.3" text-anchor="end" font-weight="bold" fill="#111" >0.0</text>
<line x1="425.3" y1="294.2" x2="427.8" y2="294.2" stroke="#111" stroke-width="1.2"/>
<text x="426.0" y="297.9" font-size="10.3" text-anchor="end" font-weight="bold" fill="#111" >0.5</text>
<line x1="425.3" y1="272.5" x2="427.8" y2="272.5" stroke="#111" stroke-width="1.2"/>
<text x="426.0" y="276.2" font-size="10.3" text-anchor="end" font-weight="bold" fill="#111" >1.0</text>
<line x1="425.3" y1="250.8" x2="427.8" y2="250.8" stroke="#111" stroke-width="1.2"/>
<text x="426.0" y="254.5" font-size="10.3" text-anchor="end" font-weight="bold" fill="#111" >1.5</text>
<line x1="439.5" y1="315.9" x2="439.5" y2="318.4" stroke="#111" stroke-width="1.2"/>
<line x1="463.8" y1="315.9" x2="463.8" y2="318.4" stroke="#111" stroke-width="1.2"/>
<line x1="488" y1="315.9" x2="488" y2="318.4" stroke="#111" stroke-width="1.2"/>
<line x1="512.4" y1="315.9" x2="512.4" y2="318.4" stroke="#111" stroke-width="1.2"/>
<line x1="432.0" y1="296.8" x2="447.0" y2="296.8" stroke="#111" stroke-width="1.1"/>
<line x1="439.5" y1="294.6" x2="439.5" y2="299.0" stroke="#111" stroke-width="1.1"/>
<line x1="436.0" y1="294.6" x2="443.0" y2="294.6" stroke="#111" stroke-width="1.1"/>
<line x1="436.0" y1="299.0" x2="443.0" y2="299.0" stroke="#111" stroke-width="1.1"/>
<rect x="432.5" y="293.5" width="4.0" height="4.0" fill="#111"/>
<circle cx="439.5" cy="298.5" r="2.20" fill="#111"/>
<rect x="442.5" y="294.4" width="4.0" height="4.0" fill="#111"/>
<line x1="456.3" y1="272.1" x2="471.3" y2="272.1" stroke="#111" stroke-width="1.1"/>
<line x1="463.8" y1="267.7" x2="463.8" y2="276.4" stroke="#111" stroke-width="1.1"/>
<line x1="460.3" y1="267.7" x2="467.3" y2="267.7" stroke="#111" stroke-width="1.1"/>
<line x1="460.3" y1="276.4" x2="467.3" y2="276.4" stroke="#111" stroke-width="1.1"/>
<circle cx="463.8" cy="267.3" r="2.20" fill="#111"/>
<rect x="458.8" y="274.4" width="4.0" height="4.0" fill="#111"/>
<rect x="464.8" y="270.5" width="4.0" height="4.0" fill="#111"/>
<line x1="480.5" y1="276.4" x2="495.5" y2="276.4" stroke="#111" stroke-width="1.1"/>
<line x1="488" y1="272.9" x2="488" y2="279.9" stroke="#111" stroke-width="1.1"/>
<line x1="484.5" y1="272.9" x2="491.5" y2="272.9" stroke="#111" stroke-width="1.1"/>
<line x1="484.5" y1="279.9" x2="491.5" y2="279.9" stroke="#111" stroke-width="1.1"/>
<rect x="484.0" y="271.4" width="4.0" height="4.0" fill="#111"/>
<rect x="483.0" y="277.0" width="4.0" height="4.0" fill="#111"/>
<path d="M488.6,277.3 L493.4,277.3 L491.0,273.2 Z" fill="#111"/>
<line x1="504.9" y1="279.4" x2="519.9" y2="279.4" stroke="#111" stroke-width="1.1"/>
<line x1="512.4" y1="276.0" x2="512.4" y2="282.9" stroke="#111" stroke-width="1.1"/>
<line x1="508.9" y1="276.0" x2="515.9" y2="276.0" stroke="#111" stroke-width="1.1"/>
<line x1="508.9" y1="282.9" x2="515.9" y2="282.9" stroke="#111" stroke-width="1.1"/>
<rect x="510.4" y="274.0" width="4.0" height="4.0" fill="#111"/>
<rect x="508.4" y="279.6" width="4.0" height="4.0" fill="#111"/>
<path d="M513.0,281.2 L517.8,281.2 L515.4,277.1 Z" fill="#111"/>
<line x1="439.5" y1="245.9" x2="512.4" y2="245.9" stroke="#444" stroke-width="0.9"/>
<text x="475.9" y="247.2" font-size="8.5" text-anchor="middle" font-weight="bold" fill="#222" >***</text>
<line x1="439.5" y1="254.2" x2="488" y2="254.2" stroke="#444" stroke-width="0.9"/>
<text x="463.8" y="255.5" font-size="8.5" text-anchor="middle" font-weight="bold" fill="#222" >***</text>
<line x1="439.5" y1="262.4" x2="463.8" y2="262.4" stroke="#444" stroke-width="0.9"/>
<text x="451.6" y="263.7" font-size="8.5" text-anchor="middle" font-weight="bold" fill="#222" >***</text>
<text x="395.5" y="281.5" font-size="10" font-weight="bold" text-anchor="middle" fill="#111" transform="rotate(-90 395.5 281.5)">ASIC1a/</text>
<text x="409" y="280.5" font-size="10" font-weight="bold" text-anchor="middle" fill="#111" transform="rotate(-90 409 280.5)">Na<tspan font-size="7" dy="-3">+</tspan><tspan dy="3">-K</tspan><tspan font-size="7" dy="-3">+</tspan><tspan dy="3"> ATPase</tspan></text>
<text x="442.0" y="324.0" font-size="10.5" font-weight="bold" text-anchor="end" fill="#111" transform="rotate(-45 442.0 324.0)">NSF</text>
<text x="466.3" y="324.0" font-size="10.5" font-weight="bold" text-anchor="end" fill="#111" transform="rotate(-45 466.3 324.0)">RASF1</text>
<text x="490.5" y="324.0" font-size="10.5" font-weight="bold" text-anchor="end" fill="#111" transform="rotate(-45 490.5 324.0)">RASF2</text>
<text x="514.9" y="324.0" font-size="10.5" font-weight="bold" text-anchor="end" fill="#111" transform="rotate(-45 514.9 324.0)">RASF3</text>
<line x1="622.3" y1="368.5" x2="622.3" y2="434.4" stroke="#111" stroke-width="1.3"/>
<line x1="622.3" y1="434.4" x2="719.3" y2="434.4" stroke="#111" stroke-width="1.3"/>
<line x1="619.8" y1="434.4" x2="622.3" y2="434.4" stroke="#111" stroke-width="1.2"/>
<text x="620.5" y="438.1" font-size="10.3" text-anchor="end" font-weight="bold" fill="#111" >0</text>
<line x1="619.8" y1="418.0" x2="622.3" y2="418.0" stroke="#111" stroke-width="1.2"/>
<text x="620.5" y="421.7" font-size="10.3" text-anchor="end" font-weight="bold" fill="#111" >20</text>
<line x1="619.8" y1="401.7" x2="622.3" y2="401.7" stroke="#111" stroke-width="1.2"/>
<text x="620.5" y="405.4" font-size="10.3" text-anchor="end" font-weight="bold" fill="#111" >40</text>
<line x1="619.8" y1="385.4" x2="622.3" y2="385.4" stroke="#111" stroke-width="1.2"/>
<text x="620.5" y="389.1" font-size="10.3" text-anchor="end" font-weight="bold" fill="#111" >60</text>
<line x1="619.8" y1="369.0" x2="622.3" y2="369.0" stroke="#111" stroke-width="1.2"/>
<text x="620.5" y="372.7" font-size="10.3" text-anchor="end" font-weight="bold" fill="#111" >80</text>
<line x1="635" y1="434.4" x2="635" y2="436.9" stroke="#111" stroke-width="1.2"/>
<line x1="658.6" y1="434.4" x2="658.6" y2="436.9" stroke="#111" stroke-width="1.2"/>
<line x1="683.5" y1="434.4" x2="683.5" y2="436.9" stroke="#111" stroke-width="1.2"/>
<line x1="707.1" y1="434.4" x2="707.1" y2="436.9" stroke="#111" stroke-width="1.2"/>
<line x1="627.5" y1="420.5" x2="642.5" y2="420.5" stroke="#111" stroke-width="1.1"/>
<line x1="635" y1="417.6" x2="635" y2="423.4" stroke="#111" stroke-width="1.1"/>
<line x1="631.5" y1="417.6" x2="638.5" y2="417.6" stroke="#111" stroke-width="1.1"/>
<line x1="631.5" y1="423.4" x2="638.5" y2="423.4" stroke="#111" stroke-width="1.1"/>
<circle cx="635.0" cy="417.2" r="2.20" fill="#111"/>
<rect x="630.0" y="421.0" width="4.0" height="4.0" fill="#111"/>
<path d="M635.6,423.1 L640.4,423.1 L638.0,419.0 Z" fill="#111"/>
<line x1="651.1" y1="391.9" x2="666.1" y2="391.9" stroke="#111" stroke-width="1.1"/>
<line x1="658.6" y1="387.0" x2="658.6" y2="396.8" stroke="#111" stroke-width="1.1"/>
<line x1="655.1" y1="387.0" x2="662.1" y2="387.0" stroke="#111" stroke-width="1.1"/>
<line x1="655.1" y1="396.8" x2="662.1" y2="396.8" stroke="#111" stroke-width="1.1"/>
<rect x="653.6" y="386.6" width="4.0" height="4.0" fill="#111"/>
<rect x="659.6" y="386.6" width="4.0" height="4.0" fill="#111"/>
<rect x="656.6" y="396.4" width="4.0" height="4.0" fill="#111"/>
<line x1="676.0" y1="395.2" x2="691.0" y2="395.2" stroke="#111" stroke-width="1.1"/>
<line x1="683.5" y1="389.8" x2="683.5" y2="400.5" stroke="#111" stroke-width="1.1"/>
<line x1="680.0" y1="389.8" x2="687.0" y2="389.8" stroke="#111" stroke-width="1.1"/>
<line x1="680.0" y1="400.5" x2="687.0" y2="400.5" stroke="#111" stroke-width="1.1"/>
<circle cx="683.5" cy="390.3" r="2.20" fill="#111"/>
<rect x="678.5" y="398.9" width="4.0" height="4.0" fill="#111"/>
<path d="M684.1,397.8 L688.9,397.8 L686.5,393.7 Z" fill="#111"/>
<line x1="699.6" y1="397.6" x2="714.6" y2="397.6" stroke="#111" stroke-width="1.1"/>
<line x1="707.1" y1="394.3" x2="707.1" y2="400.9" stroke="#111" stroke-width="1.1"/>
<line x1="703.6" y1="394.3" x2="710.6" y2="394.3" stroke="#111" stroke-width="1.1"/>
<line x1="703.6" y1="400.9" x2="710.6" y2="400.9" stroke="#111" stroke-width="1.1"/>
<circle cx="707.1" cy="393.5" r="2.20" fill="#111"/>
<rect x="703.1" y="398.9" width="4.0" height="4.0" fill="#111"/>
<path d="M707.7,399.4 L712.5,399.4 L710.1,395.3 Z" fill="#111"/>
<line x1="635" y1="365.2" x2="707.1" y2="365.2" stroke="#444" stroke-width="0.9"/>
<text x="671.0" y="366.5" font-size="8.5" text-anchor="middle" font-weight="bold" fill="#222" >***</text>
<line x1="635" y1="373.2" x2="683.5" y2="373.2" stroke="#444" stroke-width="0.9"/>
<text x="659.2" y="374.5" font-size="8.5" text-anchor="middle" font-weight="bold" fill="#222" >***</text>
<line x1="635" y1="381.4" x2="658.6" y2="381.4" stroke="#444" stroke-width="0.9"/>
<text x="646.8" y="382.7" font-size="8.5" text-anchor="middle" font-weight="bold" fill="#222" >***</text>
<text x="605.5" y="399" font-size="9.8" font-weight="bold" text-anchor="middle" fill="#111" transform="rotate(-90 606.5 399)">Relative MFI</text>
<text x="637.5" y="442.3" font-size="10.5" font-weight="bold" text-anchor="end" fill="#111" transform="rotate(-45 637.5 442.3)">NSF</text>
<text x="661.1" y="442.3" font-size="10.5" font-weight="bold" text-anchor="end" fill="#111" transform="rotate(-45 661.1 442.3)">RASF1</text>
<text x="686.0" y="442.3" font-size="10.5" font-weight="bold" text-anchor="end" fill="#111" transform="rotate(-45 686.0 442.3)">RASF2</text>
<text x="709.6" y="442.3" font-size="10.5" font-weight="bold" text-anchor="end" fill="#111" transform="rotate(-45 709.6 442.3)">RASF3</text>
<line x1="289.1" y1="85.5" x2="289.1" y2="147.6" stroke="#111" stroke-width="1.3"/>
<line x1="289.1" y1="147.6" x2="374.8" y2="147.6" stroke="#111" stroke-width="1.3"/>
<line x1="286.6" y1="147.6" x2="289.1" y2="147.6" stroke="#111" stroke-width="1.2"/>
<text x="286.9" y="150.9" font-size="9.2" text-anchor="end" font-weight="bold" fill="#111" >0</text>
<line x1="286.6" y1="132.2" x2="289.1" y2="132.2" stroke="#111" stroke-width="1.2"/>
<text x="286.9" y="135.5" font-size="9.2" text-anchor="end" font-weight="bold" fill="#111" >10</text>
<line x1="286.6" y1="116.8" x2="289.1" y2="116.8" stroke="#111" stroke-width="1.2"/>
<text x="286.9" y="120.1" font-size="9.2" text-anchor="end" font-weight="bold" fill="#111" >20</text>
<line x1="286.6" y1="101.4" x2="289.1" y2="101.4" stroke="#111" stroke-width="1.2"/>
<text x="286.9" y="104.7" font-size="9.2" text-anchor="end" font-weight="bold" fill="#111" >30</text>
<line x1="286.6" y1="86.0" x2="289.1" y2="86.0" stroke="#111" stroke-width="1.2"/>
<text x="286.9" y="89.3" font-size="9.2" text-anchor="end" font-weight="bold" fill="#111" >40</text>
<line x1="312.5" y1="147.6" x2="312.5" y2="150.1" stroke="#111" stroke-width="1.2"/>
<line x1="359" y1="147.6" x2="359" y2="150.1" stroke="#111" stroke-width="1.2"/>
<line x1="312.4" y1="82" x2="358.8" y2="82" stroke="#444" stroke-width="1"/>
<text x="335.6" y="83.3" font-size="8.5" text-anchor="middle" font-weight="bold" fill="#222" >***</text>
<rect x="304.8" y="139.3" width="3.4" height="3.4" fill="#1a9a4a"/>
<rect x="308.8" y="140.1" width="3.4" height="3.4" fill="#1a9a4a"/>
<rect x="312.8" y="139.1" width="3.4" height="3.4" fill="#1a9a4a"/>
<rect x="316.3" y="140.8" width="3.4" height="3.4" fill="#1a9a4a"/>
<rect x="308.3" y="142.3" width="3.4" height="3.4" fill="#1a9a4a"/>
<line x1="297.5" y1="142.5" x2="328" y2="142.5" stroke="#111" stroke-width="0.9"/>
<rect x="354.1" y="89.4" width="3.6" height="3.6" fill="#e0202c"/>
<rect x="359.7" y="91.1" width="3.6" height="3.6" fill="#e0202c"/>
<rect x="351.2" y="98.1" width="3.6" height="3.6" fill="#e0202c"/>
<rect x="348.3" y="99.9" width="3.6" height="3.6" fill="#e0202c"/>
<rect x="359.6" y="97.5" width="3.6" height="3.6" fill="#e0202c"/>
<rect x="365.2" y="100.5" width="3.6" height="3.6" fill="#e0202c"/>
<rect x="354.1" y="102.2" width="3.6" height="3.6" fill="#e0202c"/>
<rect x="359.4" y="104.0" width="3.6" height="3.6" fill="#e0202c"/>
<rect x="344.2" y="104.8" width="3.6" height="3.6" fill="#e0202c"/>
<rect x="347.7" y="107.5" width="3.6" height="3.6" fill="#e0202c"/>
<rect x="351.8" y="108.0" width="3.6" height="3.6" fill="#e0202c"/>
<rect x="356.5" y="109.2" width="3.6" height="3.6" fill="#e0202c"/>
<rect x="361.1" y="108.6" width="3.6" height="3.6" fill="#e0202c"/>
<rect x="365.2" y="108.0" width="3.6" height="3.6" fill="#e0202c"/>
<rect x="369.9" y="106.3" width="3.6" height="3.6" fill="#e0202c"/>
<rect x="345.4" y="111.0" width="3.6" height="3.6" fill="#e0202c"/>
<rect x="351.2" y="113.3" width="3.6" height="3.6" fill="#e0202c"/>
<rect x="357.0" y="115.0" width="3.6" height="3.6" fill="#e0202c"/>
<rect x="362.3" y="112.7" width="3.6" height="3.6" fill="#e0202c"/>
<rect x="368.1" y="110.4" width="3.6" height="3.6" fill="#e0202c"/>
<rect x="360.0" y="118.0" width="3.6" height="3.6" fill="#e0202c"/>
<rect x="354.1" y="121.5" width="3.6" height="3.6" fill="#e0202c"/>
<rect x="353.5" y="99.9" width="3.6" height="3.6" fill="#e0202c"/>
<rect x="362.9" y="98.7" width="3.6" height="3.6" fill="#e0202c"/>
<rect x="348.9" y="103.4" width="3.6" height="3.6" fill="#e0202c"/>
<rect x="367.0" y="104.5" width="3.6" height="3.6" fill="#e0202c"/>
<line x1="344" y1="108" x2="373" y2="108" stroke="#111" stroke-width="0.9"/>
<text x="261.8" y="114" font-size="9.2" font-weight="bold" text-anchor="middle" fill="#111" transform="rotate(-90 261.8 114)">Expression of</text>
<text x="272.3" y="115.3" font-size="9" font-weight="bold" text-anchor="middle" fill="#111" transform="rotate(-90 272.3 115.3)">ASIC1a (IOD)</text>
<text x="312.7" y="158.5" font-size="9.2" text-anchor="middle" font-weight="bold" fill="#111" >Normal</text>
<text x="359.5" y="158.5" font-size="9.2" text-anchor="middle" font-weight="bold" fill="#111" >RA</text>
<text x="17.0" y="43.7" font-size="17" text-anchor="start" font-weight="bold" fill="#000" >A</text>
<text x="17.0" y="189.8" font-size="17" text-anchor="start" font-weight="bold" fill="#000" >B</text>
<text x="17.3" y="345.2" font-size="17" text-anchor="start" font-weight="bold" fill="#000" >C</text>
<text x="383.6" y="28.3" font-size="17" text-anchor="start" font-weight="bold" fill="#000" >D</text>
<text x="385.7" y="192.9" font-size="17" text-anchor="start" font-weight="bold" fill="#000" >E</text>
<text x="302.8" y="345.0" font-size="17" text-anchor="start" font-weight="bold" fill="#000" >F</text>
<text x="566.2" y="62.6" font-size="17" text-anchor="start" font-weight="bold" fill="#000" >G</text>
</svg>
</body></html>
